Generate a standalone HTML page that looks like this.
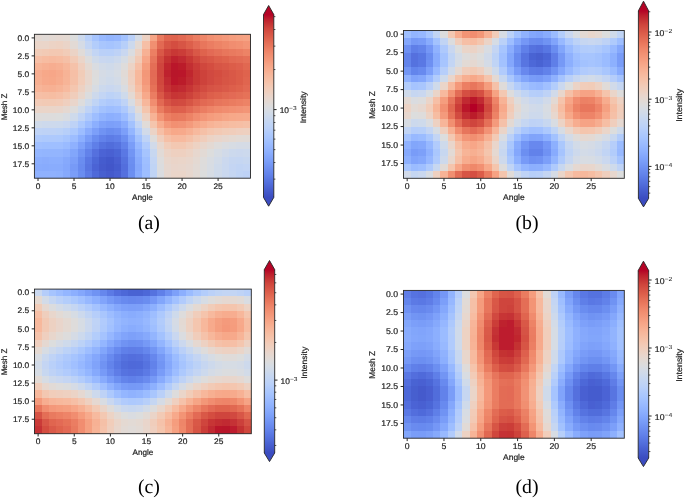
<!DOCTYPE html>
<html><head><meta charset="utf-8"><title>Figure</title>
<style>html,body{margin:0;padding:0;background:#fff;width:685px;height:498px;overflow:hidden}svg{display:block}text{text-rendering:geometricPrecision}.t{stroke:#222;stroke-width:0.2px}.ts{stroke:none}</style>
</head><body>
<svg width="685" height="498" viewBox="0 0 685 498" font-family="'Liberation Sans', sans-serif" fill="#222" style="filter:blur(0.35px)"><defs><linearGradient id="cw" x1="0" y1="1" x2="0" y2="0"><stop offset="0.0000" stop-color="#3b4cc0"/><stop offset="0.0250" stop-color="#4257c9"/><stop offset="0.0500" stop-color="#4961d2"/><stop offset="0.0750" stop-color="#516ddb"/><stop offset="0.1000" stop-color="#5977e3"/><stop offset="0.1250" stop-color="#6282ea"/><stop offset="0.1500" stop-color="#6a8bef"/><stop offset="0.1750" stop-color="#7295f4"/><stop offset="0.2000" stop-color="#7b9ff9"/><stop offset="0.2250" stop-color="#84a7fc"/><stop offset="0.2500" stop-color="#8db0fe"/><stop offset="0.2750" stop-color="#96b7ff"/><stop offset="0.3000" stop-color="#9ebeff"/><stop offset="0.3250" stop-color="#a7c5fe"/><stop offset="0.3500" stop-color="#afcafc"/><stop offset="0.3750" stop-color="#b9d0f9"/><stop offset="0.4000" stop-color="#c0d4f5"/><stop offset="0.4250" stop-color="#c7d7f0"/><stop offset="0.4500" stop-color="#cfdaea"/><stop offset="0.4750" stop-color="#d6dce4"/><stop offset="0.5000" stop-color="#dddcdc"/><stop offset="0.5250" stop-color="#e3d9d3"/><stop offset="0.5500" stop-color="#e9d5cb"/><stop offset="0.5750" stop-color="#eed0c0"/><stop offset="0.6000" stop-color="#f2cbb7"/><stop offset="0.6250" stop-color="#f5c4ac"/><stop offset="0.6500" stop-color="#f6bda2"/><stop offset="0.6750" stop-color="#f7b599"/><stop offset="0.7000" stop-color="#f7ac8e"/><stop offset="0.7250" stop-color="#f6a385"/><stop offset="0.7500" stop-color="#f4987a"/><stop offset="0.7750" stop-color="#f18f71"/><stop offset="0.8000" stop-color="#ee8468"/><stop offset="0.8250" stop-color="#e9785d"/><stop offset="0.8500" stop-color="#e36c55"/><stop offset="0.8750" stop-color="#dd5f4b"/><stop offset="0.9000" stop-color="#d65244"/><stop offset="0.9250" stop-color="#cf453c"/><stop offset="0.9500" stop-color="#c53334"/><stop offset="0.9750" stop-color="#bd1f2d"/><stop offset="1.0000" stop-color="#b40426"/></linearGradient><filter id="bl" x="-5%" y="-5%" width="110%" height="110%"><feGaussianBlur stdDeviation="0.45"/></filter><clipPath id="cp0"><rect x="34.4" y="34.3" width="216.1" height="143.9"/></clipPath><clipPath id="cp1"><rect x="403.5" y="30.5" width="220.8" height="147.8"/></clipPath><clipPath id="cp2"><rect x="34.5" y="289.1" width="216.8" height="144.6"/></clipPath><clipPath id="cp3"><rect x="403.5" y="290.4" width="220.8" height="147.8"/></clipPath></defs><rect width="685" height="498" fill="#fff"/><g clip-path="url(#cp0)"><g filter="url(#bl)" shape-rendering="crispEdges"><rect x="27.2" y="27.1" width="7.7" height="7.69" fill="#e3d9d3"/><rect x="34.4" y="27.1" width="7.7" height="7.69" fill="#e3d9d3"/><rect x="41.6" y="27.1" width="7.7" height="7.69" fill="#e1dad6"/><rect x="48.81" y="27.1" width="7.7" height="7.69" fill="#e3d9d3"/><rect x="56.01" y="27.1" width="7.7" height="7.69" fill="#e5d8d1"/><rect x="63.21" y="27.1" width="7.7" height="7.69" fill="#e4d9d2"/><rect x="70.42" y="27.1" width="7.7" height="7.69" fill="#dcdddd"/><rect x="77.62" y="27.1" width="7.7" height="7.69" fill="#ccd9ed"/><rect x="84.82" y="27.1" width="7.7" height="7.69" fill="#b9d0f9"/><rect x="92.03" y="27.1" width="7.7" height="7.69" fill="#a6c4fe"/><rect x="99.23" y="27.1" width="7.7" height="7.69" fill="#98b9ff"/><rect x="106.43" y="27.1" width="7.7" height="7.69" fill="#93b5fe"/><rect x="113.64" y="27.1" width="7.7" height="7.69" fill="#96b7ff"/><rect x="120.84" y="27.1" width="7.7" height="7.69" fill="#a3c2fe"/><rect x="128.04" y="27.1" width="7.7" height="7.69" fill="#bad0f8"/><rect x="135.25" y="27.1" width="7.7" height="7.69" fill="#d5dbe5"/><rect x="142.45" y="27.1" width="7.7" height="7.69" fill="#edd1c2"/><rect x="149.65" y="27.1" width="7.7" height="7.69" fill="#f6a586"/><rect x="156.86" y="27.1" width="7.7" height="7.69" fill="#e97a5f"/><rect x="164.06" y="27.1" width="7.7" height="7.69" fill="#e0654f"/><rect x="171.26" y="27.1" width="7.7" height="7.69" fill="#df634e"/><rect x="178.47" y="27.1" width="7.7" height="7.69" fill="#e26952"/><rect x="185.67" y="27.1" width="7.7" height="7.69" fill="#e67259"/><rect x="192.87" y="27.1" width="7.7" height="7.69" fill="#eb7d62"/><rect x="200.08" y="27.1" width="7.7" height="7.69" fill="#ee8669"/><rect x="207.28" y="27.1" width="7.7" height="7.69" fill="#f18f71"/><rect x="214.48" y="27.1" width="7.7" height="7.69" fill="#f39475"/><rect x="221.69" y="27.1" width="7.7" height="7.69" fill="#f4987a"/><rect x="228.89" y="27.1" width="7.7" height="7.69" fill="#f59d7e"/><rect x="236.09" y="27.1" width="7.7" height="7.69" fill="#f5a081"/><rect x="243.3" y="27.1" width="7.7" height="7.69" fill="#f6a283"/><rect x="250.5" y="27.1" width="7.7" height="7.69" fill="#f6a283"/><rect x="27.2" y="34.3" width="7.7" height="7.69" fill="#e3d9d3"/><rect x="34.4" y="34.3" width="7.7" height="7.69" fill="#e3d9d3"/><rect x="41.6" y="34.3" width="7.7" height="7.69" fill="#e1dad6"/><rect x="48.81" y="34.3" width="7.7" height="7.69" fill="#e3d9d3"/><rect x="56.01" y="34.3" width="7.7" height="7.69" fill="#e5d8d1"/><rect x="63.21" y="34.3" width="7.7" height="7.69" fill="#e4d9d2"/><rect x="70.42" y="34.3" width="7.7" height="7.69" fill="#dcdddd"/><rect x="77.62" y="34.3" width="7.7" height="7.69" fill="#ccd9ed"/><rect x="84.82" y="34.3" width="7.7" height="7.69" fill="#b9d0f9"/><rect x="92.03" y="34.3" width="7.7" height="7.69" fill="#a6c4fe"/><rect x="99.23" y="34.3" width="7.7" height="7.69" fill="#98b9ff"/><rect x="106.43" y="34.3" width="7.7" height="7.69" fill="#93b5fe"/><rect x="113.64" y="34.3" width="7.7" height="7.69" fill="#96b7ff"/><rect x="120.84" y="34.3" width="7.7" height="7.69" fill="#a3c2fe"/><rect x="128.04" y="34.3" width="7.7" height="7.69" fill="#bad0f8"/><rect x="135.25" y="34.3" width="7.7" height="7.69" fill="#d5dbe5"/><rect x="142.45" y="34.3" width="7.7" height="7.69" fill="#edd1c2"/><rect x="149.65" y="34.3" width="7.7" height="7.69" fill="#f6a586"/><rect x="156.86" y="34.3" width="7.7" height="7.69" fill="#e97a5f"/><rect x="164.06" y="34.3" width="7.7" height="7.69" fill="#e0654f"/><rect x="171.26" y="34.3" width="7.7" height="7.69" fill="#df634e"/><rect x="178.47" y="34.3" width="7.7" height="7.69" fill="#e26952"/><rect x="185.67" y="34.3" width="7.7" height="7.69" fill="#e67259"/><rect x="192.87" y="34.3" width="7.7" height="7.69" fill="#eb7d62"/><rect x="200.08" y="34.3" width="7.7" height="7.69" fill="#ee8669"/><rect x="207.28" y="34.3" width="7.7" height="7.69" fill="#f18f71"/><rect x="214.48" y="34.3" width="7.7" height="7.69" fill="#f39475"/><rect x="221.69" y="34.3" width="7.7" height="7.69" fill="#f4987a"/><rect x="228.89" y="34.3" width="7.7" height="7.69" fill="#f59d7e"/><rect x="236.09" y="34.3" width="7.7" height="7.69" fill="#f5a081"/><rect x="243.3" y="34.3" width="7.7" height="7.69" fill="#f6a283"/><rect x="250.5" y="34.3" width="7.7" height="7.69" fill="#f6a283"/><rect x="27.2" y="41.49" width="7.7" height="7.69" fill="#ead5c9"/><rect x="34.4" y="41.49" width="7.7" height="7.69" fill="#ead5c9"/><rect x="41.6" y="41.49" width="7.7" height="7.69" fill="#ead5c9"/><rect x="48.81" y="41.49" width="7.7" height="7.69" fill="#ecd3c5"/><rect x="56.01" y="41.49" width="7.7" height="7.69" fill="#edd2c3"/><rect x="63.21" y="41.49" width="7.7" height="7.69" fill="#ead4c8"/><rect x="70.42" y="41.49" width="7.7" height="7.69" fill="#e2dad5"/><rect x="77.62" y="41.49" width="7.7" height="7.69" fill="#d5dbe5"/><rect x="84.82" y="41.49" width="7.7" height="7.69" fill="#c3d5f4"/><rect x="92.03" y="41.49" width="7.7" height="7.69" fill="#b3cdfb"/><rect x="99.23" y="41.49" width="7.7" height="7.69" fill="#a9c6fd"/><rect x="106.43" y="41.49" width="7.7" height="7.69" fill="#a6c4fe"/><rect x="113.64" y="41.49" width="7.7" height="7.69" fill="#aac7fd"/><rect x="120.84" y="41.49" width="7.7" height="7.69" fill="#b7cff9"/><rect x="128.04" y="41.49" width="7.7" height="7.69" fill="#ccd9ed"/><rect x="135.25" y="41.49" width="7.7" height="7.69" fill="#e4d9d2"/><rect x="142.45" y="41.49" width="7.7" height="7.69" fill="#f6bfa6"/><rect x="149.65" y="41.49" width="7.7" height="7.69" fill="#f18f71"/><rect x="156.86" y="41.49" width="7.7" height="7.69" fill="#e26952"/><rect x="164.06" y="41.49" width="7.7" height="7.69" fill="#d75445"/><rect x="171.26" y="41.49" width="7.7" height="7.69" fill="#d44e41"/><rect x="178.47" y="41.49" width="7.7" height="7.69" fill="#d75445"/><rect x="185.67" y="41.49" width="7.7" height="7.69" fill="#dd5f4b"/><rect x="192.87" y="41.49" width="7.7" height="7.69" fill="#e36b54"/><rect x="200.08" y="41.49" width="7.7" height="7.69" fill="#e8765c"/><rect x="207.28" y="41.49" width="7.7" height="7.69" fill="#eb7d62"/><rect x="214.48" y="41.49" width="7.7" height="7.69" fill="#ed8366"/><rect x="221.69" y="41.49" width="7.7" height="7.69" fill="#ef886b"/><rect x="228.89" y="41.49" width="7.7" height="7.69" fill="#f18d6f"/><rect x="236.09" y="41.49" width="7.7" height="7.69" fill="#f29072"/><rect x="243.3" y="41.49" width="7.7" height="7.69" fill="#f39577"/><rect x="250.5" y="41.49" width="7.7" height="7.69" fill="#f39577"/><rect x="27.2" y="48.69" width="7.7" height="7.69" fill="#f1ccb8"/><rect x="34.4" y="48.69" width="7.7" height="7.69" fill="#f1ccb8"/><rect x="41.6" y="48.69" width="7.7" height="7.69" fill="#f2cab5"/><rect x="48.81" y="48.69" width="7.7" height="7.69" fill="#f3c8b2"/><rect x="56.01" y="48.69" width="7.7" height="7.69" fill="#f3c8b2"/><rect x="63.21" y="48.69" width="7.7" height="7.69" fill="#f1ccb8"/><rect x="70.42" y="48.69" width="7.7" height="7.69" fill="#ebd3c6"/><rect x="77.62" y="48.69" width="7.7" height="7.69" fill="#e0dbd8"/><rect x="84.82" y="48.69" width="7.7" height="7.69" fill="#d1dae9"/><rect x="92.03" y="48.69" width="7.7" height="7.69" fill="#c3d5f4"/><rect x="99.23" y="48.69" width="7.7" height="7.69" fill="#bad0f8"/><rect x="106.43" y="48.69" width="7.7" height="7.69" fill="#b9d0f9"/><rect x="113.64" y="48.69" width="7.7" height="7.69" fill="#bed2f6"/><rect x="120.84" y="48.69" width="7.7" height="7.69" fill="#c9d7f0"/><rect x="128.04" y="48.69" width="7.7" height="7.69" fill="#dadce0"/><rect x="135.25" y="48.69" width="7.7" height="7.69" fill="#edd1c2"/><rect x="142.45" y="48.69" width="7.7" height="7.69" fill="#f7b194"/><rect x="149.65" y="48.69" width="7.7" height="7.69" fill="#ec7f63"/><rect x="156.86" y="48.69" width="7.7" height="7.69" fill="#d95847"/><rect x="164.06" y="48.69" width="7.7" height="7.69" fill="#cd423b"/><rect x="171.26" y="48.69" width="7.7" height="7.69" fill="#c83836"/><rect x="178.47" y="48.69" width="7.7" height="7.69" fill="#cb3e38"/><rect x="185.67" y="48.69" width="7.7" height="7.69" fill="#d1493f"/><rect x="192.87" y="48.69" width="7.7" height="7.69" fill="#d95847"/><rect x="200.08" y="48.69" width="7.7" height="7.69" fill="#df634e"/><rect x="207.28" y="48.69" width="7.7" height="7.69" fill="#e36b54"/><rect x="214.48" y="48.69" width="7.7" height="7.69" fill="#e57058"/><rect x="221.69" y="48.69" width="7.7" height="7.69" fill="#e8765c"/><rect x="228.89" y="48.69" width="7.7" height="7.69" fill="#e97a5f"/><rect x="236.09" y="48.69" width="7.7" height="7.69" fill="#eb7d62"/><rect x="243.3" y="48.69" width="7.7" height="7.69" fill="#ed8366"/><rect x="250.5" y="48.69" width="7.7" height="7.69" fill="#ed8366"/><rect x="27.2" y="55.88" width="7.7" height="7.69" fill="#f6bfa6"/><rect x="34.4" y="55.88" width="7.7" height="7.69" fill="#f6bfa6"/><rect x="41.6" y="55.88" width="7.7" height="7.69" fill="#f7bca1"/><rect x="48.81" y="55.88" width="7.7" height="7.69" fill="#f7ba9f"/><rect x="56.01" y="55.88" width="7.7" height="7.69" fill="#f7bca1"/><rect x="63.21" y="55.88" width="7.7" height="7.69" fill="#f5c0a7"/><rect x="70.42" y="55.88" width="7.7" height="7.69" fill="#f2cbb7"/><rect x="77.62" y="55.88" width="7.7" height="7.69" fill="#ead5c9"/><rect x="84.82" y="55.88" width="7.7" height="7.69" fill="#dddcdc"/><rect x="92.03" y="55.88" width="7.7" height="7.69" fill="#cfdaea"/><rect x="99.23" y="55.88" width="7.7" height="7.69" fill="#c9d7f0"/><rect x="106.43" y="55.88" width="7.7" height="7.69" fill="#c7d7f0"/><rect x="113.64" y="55.88" width="7.7" height="7.69" fill="#ccd9ed"/><rect x="120.84" y="55.88" width="7.7" height="7.69" fill="#d6dce4"/><rect x="128.04" y="55.88" width="7.7" height="7.69" fill="#e4d9d2"/><rect x="135.25" y="55.88" width="7.7" height="7.69" fill="#f2c9b4"/><rect x="142.45" y="55.88" width="7.7" height="7.69" fill="#f7a688"/><rect x="149.65" y="55.88" width="7.7" height="7.69" fill="#e7745b"/><rect x="156.86" y="55.88" width="7.7" height="7.69" fill="#d24b40"/><rect x="164.06" y="55.88" width="7.7" height="7.69" fill="#c43032"/><rect x="171.26" y="55.88" width="7.7" height="7.69" fill="#be242e"/><rect x="178.47" y="55.88" width="7.7" height="7.69" fill="#c12b30"/><rect x="185.67" y="55.88" width="7.7" height="7.69" fill="#c83836"/><rect x="192.87" y="55.88" width="7.7" height="7.69" fill="#d0473d"/><rect x="200.08" y="55.88" width="7.7" height="7.69" fill="#d65244"/><rect x="207.28" y="55.88" width="7.7" height="7.69" fill="#d95847"/><rect x="214.48" y="55.88" width="7.7" height="7.69" fill="#dd5f4b"/><rect x="221.69" y="55.88" width="7.7" height="7.69" fill="#df634e"/><rect x="228.89" y="55.88" width="7.7" height="7.69" fill="#e26952"/><rect x="236.09" y="55.88" width="7.7" height="7.69" fill="#e36c55"/><rect x="243.3" y="55.88" width="7.7" height="7.69" fill="#e57058"/><rect x="250.5" y="55.88" width="7.7" height="7.69" fill="#e57058"/><rect x="27.2" y="63.08" width="7.7" height="7.69" fill="#f7b497"/><rect x="34.4" y="63.08" width="7.7" height="7.69" fill="#f7b497"/><rect x="41.6" y="63.08" width="7.7" height="7.69" fill="#f7b093"/><rect x="48.81" y="63.08" width="7.7" height="7.69" fill="#f7ad90"/><rect x="56.01" y="63.08" width="7.7" height="7.69" fill="#f7b093"/><rect x="63.21" y="63.08" width="7.7" height="7.69" fill="#f7b79b"/><rect x="70.42" y="63.08" width="7.7" height="7.69" fill="#f5c2aa"/><rect x="77.62" y="63.08" width="7.7" height="7.69" fill="#efcfbf"/><rect x="84.82" y="63.08" width="7.7" height="7.69" fill="#e4d9d2"/><rect x="92.03" y="63.08" width="7.7" height="7.69" fill="#d9dce1"/><rect x="99.23" y="63.08" width="7.7" height="7.69" fill="#d2dbe8"/><rect x="106.43" y="63.08" width="7.7" height="7.69" fill="#cfdaea"/><rect x="113.64" y="63.08" width="7.7" height="7.69" fill="#d4dbe6"/><rect x="120.84" y="63.08" width="7.7" height="7.69" fill="#dedcdb"/><rect x="128.04" y="63.08" width="7.7" height="7.69" fill="#ecd3c5"/><rect x="135.25" y="63.08" width="7.7" height="7.69" fill="#f6bfa6"/><rect x="142.45" y="63.08" width="7.7" height="7.69" fill="#f59d7e"/><rect x="149.65" y="63.08" width="7.7" height="7.69" fill="#e46e56"/><rect x="156.86" y="63.08" width="7.7" height="7.69" fill="#cf453c"/><rect x="164.06" y="63.08" width="7.7" height="7.69" fill="#c0282f"/><rect x="171.26" y="63.08" width="7.7" height="7.69" fill="#ba162b"/><rect x="178.47" y="63.08" width="7.7" height="7.69" fill="#bb1b2c"/><rect x="185.67" y="63.08" width="7.7" height="7.69" fill="#c32e31"/><rect x="192.87" y="63.08" width="7.7" height="7.69" fill="#ca3b37"/><rect x="200.08" y="63.08" width="7.7" height="7.69" fill="#d0473d"/><rect x="207.28" y="63.08" width="7.7" height="7.69" fill="#d44e41"/><rect x="214.48" y="63.08" width="7.7" height="7.69" fill="#d75445"/><rect x="221.69" y="63.08" width="7.7" height="7.69" fill="#d95847"/><rect x="228.89" y="63.08" width="7.7" height="7.69" fill="#dc5d4a"/><rect x="236.09" y="63.08" width="7.7" height="7.69" fill="#de614d"/><rect x="243.3" y="63.08" width="7.7" height="7.69" fill="#e16751"/><rect x="250.5" y="63.08" width="7.7" height="7.69" fill="#e16751"/><rect x="27.2" y="70.27" width="7.7" height="7.69" fill="#f7ad90"/><rect x="34.4" y="70.27" width="7.7" height="7.69" fill="#f7ad90"/><rect x="41.6" y="70.27" width="7.7" height="7.69" fill="#f7a889"/><rect x="48.81" y="70.27" width="7.7" height="7.69" fill="#f7a688"/><rect x="56.01" y="70.27" width="7.7" height="7.69" fill="#f7aa8c"/><rect x="63.21" y="70.27" width="7.7" height="7.69" fill="#f7b396"/><rect x="70.42" y="70.27" width="7.7" height="7.69" fill="#f6bfa6"/><rect x="77.62" y="70.27" width="7.7" height="7.69" fill="#f1ccb8"/><rect x="84.82" y="70.27" width="7.7" height="7.69" fill="#e8d6cc"/><rect x="92.03" y="70.27" width="7.7" height="7.69" fill="#dddcdc"/><rect x="99.23" y="70.27" width="7.7" height="7.69" fill="#d5dbe5"/><rect x="106.43" y="70.27" width="7.7" height="7.69" fill="#d2dbe8"/><rect x="113.64" y="70.27" width="7.7" height="7.69" fill="#d6dce4"/><rect x="120.84" y="70.27" width="7.7" height="7.69" fill="#e1dad6"/><rect x="128.04" y="70.27" width="7.7" height="7.69" fill="#efcebd"/><rect x="135.25" y="70.27" width="7.7" height="7.69" fill="#f7b89c"/><rect x="142.45" y="70.27" width="7.7" height="7.69" fill="#f39778"/><rect x="149.65" y="70.27" width="7.7" height="7.69" fill="#e36b54"/><rect x="156.86" y="70.27" width="7.7" height="7.69" fill="#cf453c"/><rect x="164.06" y="70.27" width="7.7" height="7.69" fill="#be242e"/><rect x="171.26" y="70.27" width="7.7" height="7.69" fill="#b8122a"/><rect x="178.47" y="70.27" width="7.7" height="7.69" fill="#ba162b"/><rect x="185.67" y="70.27" width="7.7" height="7.69" fill="#c0282f"/><rect x="192.87" y="70.27" width="7.7" height="7.69" fill="#c83836"/><rect x="200.08" y="70.27" width="7.7" height="7.69" fill="#cd423b"/><rect x="207.28" y="70.27" width="7.7" height="7.69" fill="#d1493f"/><rect x="214.48" y="70.27" width="7.7" height="7.69" fill="#d44e41"/><rect x="221.69" y="70.27" width="7.7" height="7.69" fill="#d65244"/><rect x="228.89" y="70.27" width="7.7" height="7.69" fill="#d95847"/><rect x="236.09" y="70.27" width="7.7" height="7.69" fill="#dc5d4a"/><rect x="243.3" y="70.27" width="7.7" height="7.69" fill="#df634e"/><rect x="250.5" y="70.27" width="7.7" height="7.69" fill="#df634e"/><rect x="27.2" y="77.47" width="7.7" height="7.69" fill="#f7af91"/><rect x="34.4" y="77.47" width="7.7" height="7.69" fill="#f7af91"/><rect x="41.6" y="77.47" width="7.7" height="7.69" fill="#f7a98b"/><rect x="48.81" y="77.47" width="7.7" height="7.69" fill="#f7a889"/><rect x="56.01" y="77.47" width="7.7" height="7.69" fill="#f7ac8e"/><rect x="63.21" y="77.47" width="7.7" height="7.69" fill="#f7b497"/><rect x="70.42" y="77.47" width="7.7" height="7.69" fill="#f5c0a7"/><rect x="77.62" y="77.47" width="7.7" height="7.69" fill="#f1cdba"/><rect x="84.82" y="77.47" width="7.7" height="7.69" fill="#e8d6cc"/><rect x="92.03" y="77.47" width="7.7" height="7.69" fill="#dcdddd"/><rect x="99.23" y="77.47" width="7.7" height="7.69" fill="#d3dbe7"/><rect x="106.43" y="77.47" width="7.7" height="7.69" fill="#cfdaea"/><rect x="113.64" y="77.47" width="7.7" height="7.69" fill="#d3dbe7"/><rect x="120.84" y="77.47" width="7.7" height="7.69" fill="#dfdbd9"/><rect x="128.04" y="77.47" width="7.7" height="7.69" fill="#efcfbf"/><rect x="135.25" y="77.47" width="7.7" height="7.69" fill="#f7b89c"/><rect x="142.45" y="77.47" width="7.7" height="7.69" fill="#f4987a"/><rect x="149.65" y="77.47" width="7.7" height="7.69" fill="#e36c55"/><rect x="156.86" y="77.47" width="7.7" height="7.69" fill="#d0473d"/><rect x="164.06" y="77.47" width="7.7" height="7.69" fill="#c12b30"/><rect x="171.26" y="77.47" width="7.7" height="7.69" fill="#ba162b"/><rect x="178.47" y="77.47" width="7.7" height="7.69" fill="#bb1b2c"/><rect x="185.67" y="77.47" width="7.7" height="7.69" fill="#c12b30"/><rect x="192.87" y="77.47" width="7.7" height="7.69" fill="#c83836"/><rect x="200.08" y="77.47" width="7.7" height="7.69" fill="#cd423b"/><rect x="207.28" y="77.47" width="7.7" height="7.69" fill="#d1493f"/><rect x="214.48" y="77.47" width="7.7" height="7.69" fill="#d55042"/><rect x="221.69" y="77.47" width="7.7" height="7.69" fill="#d75445"/><rect x="228.89" y="77.47" width="7.7" height="7.69" fill="#d95847"/><rect x="236.09" y="77.47" width="7.7" height="7.69" fill="#dc5d4a"/><rect x="243.3" y="77.47" width="7.7" height="7.69" fill="#e0654f"/><rect x="250.5" y="77.47" width="7.7" height="7.69" fill="#e0654f"/><rect x="27.2" y="84.66" width="7.7" height="7.69" fill="#f7b599"/><rect x="34.4" y="84.66" width="7.7" height="7.69" fill="#f7b599"/><rect x="41.6" y="84.66" width="7.7" height="7.69" fill="#f7b194"/><rect x="48.81" y="84.66" width="7.7" height="7.69" fill="#f7b093"/><rect x="56.01" y="84.66" width="7.7" height="7.69" fill="#f7b497"/><rect x="63.21" y="84.66" width="7.7" height="7.69" fill="#f7ba9f"/><rect x="70.42" y="84.66" width="7.7" height="7.69" fill="#f4c6af"/><rect x="77.62" y="84.66" width="7.7" height="7.69" fill="#edd1c2"/><rect x="84.82" y="84.66" width="7.7" height="7.69" fill="#e3d9d3"/><rect x="92.03" y="84.66" width="7.7" height="7.69" fill="#d7dce3"/><rect x="99.23" y="84.66" width="7.7" height="7.69" fill="#ccd9ed"/><rect x="106.43" y="84.66" width="7.7" height="7.69" fill="#c9d7f0"/><rect x="113.64" y="84.66" width="7.7" height="7.69" fill="#ccd9ed"/><rect x="120.84" y="84.66" width="7.7" height="7.69" fill="#d9dce1"/><rect x="128.04" y="84.66" width="7.7" height="7.69" fill="#ebd3c6"/><rect x="135.25" y="84.66" width="7.7" height="7.69" fill="#f6bea4"/><rect x="142.45" y="84.66" width="7.7" height="7.69" fill="#f59f80"/><rect x="149.65" y="84.66" width="7.7" height="7.69" fill="#e67259"/><rect x="156.86" y="84.66" width="7.7" height="7.69" fill="#d24b40"/><rect x="164.06" y="84.66" width="7.7" height="7.69" fill="#c53334"/><rect x="171.26" y="84.66" width="7.7" height="7.69" fill="#c0282f"/><rect x="178.47" y="84.66" width="7.7" height="7.69" fill="#c12b30"/><rect x="185.67" y="84.66" width="7.7" height="7.69" fill="#c73635"/><rect x="192.87" y="84.66" width="7.7" height="7.69" fill="#cd423b"/><rect x="200.08" y="84.66" width="7.7" height="7.69" fill="#d24b40"/><rect x="207.28" y="84.66" width="7.7" height="7.69" fill="#d65244"/><rect x="214.48" y="84.66" width="7.7" height="7.69" fill="#d85646"/><rect x="221.69" y="84.66" width="7.7" height="7.69" fill="#da5a49"/><rect x="228.89" y="84.66" width="7.7" height="7.69" fill="#dd5f4b"/><rect x="236.09" y="84.66" width="7.7" height="7.69" fill="#df634e"/><rect x="243.3" y="84.66" width="7.7" height="7.69" fill="#e26952"/><rect x="250.5" y="84.66" width="7.7" height="7.69" fill="#e26952"/><rect x="27.2" y="91.86" width="7.7" height="7.69" fill="#f6bfa6"/><rect x="34.4" y="91.86" width="7.7" height="7.69" fill="#f6bfa6"/><rect x="41.6" y="91.86" width="7.7" height="7.69" fill="#f6bea4"/><rect x="48.81" y="91.86" width="7.7" height="7.69" fill="#f6bda2"/><rect x="56.01" y="91.86" width="7.7" height="7.69" fill="#f6bfa6"/><rect x="63.21" y="91.86" width="7.7" height="7.69" fill="#f4c5ad"/><rect x="70.42" y="91.86" width="7.7" height="7.69" fill="#f0cdbb"/><rect x="77.62" y="91.86" width="7.7" height="7.69" fill="#e8d6cc"/><rect x="84.82" y="91.86" width="7.7" height="7.69" fill="#dbdcde"/><rect x="92.03" y="91.86" width="7.7" height="7.69" fill="#cdd9ec"/><rect x="99.23" y="91.86" width="7.7" height="7.69" fill="#c3d5f4"/><rect x="106.43" y="91.86" width="7.7" height="7.69" fill="#bcd2f7"/><rect x="113.64" y="91.86" width="7.7" height="7.69" fill="#c0d4f5"/><rect x="120.84" y="91.86" width="7.7" height="7.69" fill="#cedaeb"/><rect x="128.04" y="91.86" width="7.7" height="7.69" fill="#e3d9d3"/><rect x="135.25" y="91.86" width="7.7" height="7.69" fill="#f3c7b1"/><rect x="142.45" y="91.86" width="7.7" height="7.69" fill="#f7a98b"/><rect x="149.65" y="91.86" width="7.7" height="7.69" fill="#eb7d62"/><rect x="156.86" y="91.86" width="7.7" height="7.69" fill="#d95847"/><rect x="164.06" y="91.86" width="7.7" height="7.69" fill="#cc403a"/><rect x="171.26" y="91.86" width="7.7" height="7.69" fill="#c73635"/><rect x="178.47" y="91.86" width="7.7" height="7.69" fill="#c83836"/><rect x="185.67" y="91.86" width="7.7" height="7.69" fill="#cd423b"/><rect x="192.87" y="91.86" width="7.7" height="7.69" fill="#d44e41"/><rect x="200.08" y="91.86" width="7.7" height="7.69" fill="#d85646"/><rect x="207.28" y="91.86" width="7.7" height="7.69" fill="#dd5f4b"/><rect x="214.48" y="91.86" width="7.7" height="7.69" fill="#df634e"/><rect x="221.69" y="91.86" width="7.7" height="7.69" fill="#e16751"/><rect x="228.89" y="91.86" width="7.7" height="7.69" fill="#e36b54"/><rect x="236.09" y="91.86" width="7.7" height="7.69" fill="#e46e56"/><rect x="243.3" y="91.86" width="7.7" height="7.69" fill="#e67259"/><rect x="250.5" y="91.86" width="7.7" height="7.69" fill="#e67259"/><rect x="27.2" y="99.05" width="7.7" height="7.69" fill="#f2cbb7"/><rect x="34.4" y="99.05" width="7.7" height="7.69" fill="#f2cbb7"/><rect x="41.6" y="99.05" width="7.7" height="7.69" fill="#f2cab5"/><rect x="48.81" y="99.05" width="7.7" height="7.69" fill="#f2cab5"/><rect x="56.01" y="99.05" width="7.7" height="7.69" fill="#f2cbb7"/><rect x="63.21" y="99.05" width="7.7" height="7.69" fill="#efcfbf"/><rect x="70.42" y="99.05" width="7.7" height="7.69" fill="#e9d5cb"/><rect x="77.62" y="99.05" width="7.7" height="7.69" fill="#dddcdc"/><rect x="84.82" y="99.05" width="7.7" height="7.69" fill="#cedaeb"/><rect x="92.03" y="99.05" width="7.7" height="7.69" fill="#c0d4f5"/><rect x="99.23" y="99.05" width="7.7" height="7.69" fill="#b3cdfb"/><rect x="106.43" y="99.05" width="7.7" height="7.69" fill="#aec9fc"/><rect x="113.64" y="99.05" width="7.7" height="7.69" fill="#b1cbfc"/><rect x="120.84" y="99.05" width="7.7" height="7.69" fill="#bfd3f6"/><rect x="128.04" y="99.05" width="7.7" height="7.69" fill="#d7dce3"/><rect x="135.25" y="99.05" width="7.7" height="7.69" fill="#edd1c2"/><rect x="142.45" y="99.05" width="7.7" height="7.69" fill="#f7b79b"/><rect x="149.65" y="99.05" width="7.7" height="7.69" fill="#f18d6f"/><rect x="156.86" y="99.05" width="7.7" height="7.69" fill="#e26952"/><rect x="164.06" y="99.05" width="7.7" height="7.69" fill="#d65244"/><rect x="171.26" y="99.05" width="7.7" height="7.69" fill="#d1493f"/><rect x="178.47" y="99.05" width="7.7" height="7.69" fill="#d24b40"/><rect x="185.67" y="99.05" width="7.7" height="7.69" fill="#d75445"/><rect x="192.87" y="99.05" width="7.7" height="7.69" fill="#de614d"/><rect x="200.08" y="99.05" width="7.7" height="7.69" fill="#e26952"/><rect x="207.28" y="99.05" width="7.7" height="7.69" fill="#e46e56"/><rect x="214.48" y="99.05" width="7.7" height="7.69" fill="#e7745b"/><rect x="221.69" y="99.05" width="7.7" height="7.69" fill="#e9785d"/><rect x="228.89" y="99.05" width="7.7" height="7.69" fill="#ea7b60"/><rect x="236.09" y="99.05" width="7.7" height="7.69" fill="#ec7f63"/><rect x="243.3" y="99.05" width="7.7" height="7.69" fill="#ed8366"/><rect x="250.5" y="99.05" width="7.7" height="7.69" fill="#ed8366"/><rect x="27.2" y="106.25" width="7.7" height="7.69" fill="#ead5c9"/><rect x="34.4" y="106.25" width="7.7" height="7.69" fill="#ead5c9"/><rect x="41.6" y="106.25" width="7.7" height="7.69" fill="#ead5c9"/><rect x="48.81" y="106.25" width="7.7" height="7.69" fill="#ead5c9"/><rect x="56.01" y="106.25" width="7.7" height="7.69" fill="#e9d5cb"/><rect x="63.21" y="106.25" width="7.7" height="7.69" fill="#e5d8d1"/><rect x="70.42" y="106.25" width="7.7" height="7.69" fill="#dddcdc"/><rect x="77.62" y="106.25" width="7.7" height="7.69" fill="#cfdaea"/><rect x="84.82" y="106.25" width="7.7" height="7.69" fill="#bfd3f6"/><rect x="92.03" y="106.25" width="7.7" height="7.69" fill="#afcafc"/><rect x="99.23" y="106.25" width="7.7" height="7.69" fill="#a3c2fe"/><rect x="106.43" y="106.25" width="7.7" height="7.69" fill="#9ebeff"/><rect x="113.64" y="106.25" width="7.7" height="7.69" fill="#a1c0ff"/><rect x="120.84" y="106.25" width="7.7" height="7.69" fill="#aec9fc"/><rect x="128.04" y="106.25" width="7.7" height="7.69" fill="#c6d6f1"/><rect x="135.25" y="106.25" width="7.7" height="7.69" fill="#e2dad5"/><rect x="142.45" y="106.25" width="7.7" height="7.69" fill="#f4c5ad"/><rect x="149.65" y="106.25" width="7.7" height="7.69" fill="#f59f80"/><rect x="156.86" y="106.25" width="7.7" height="7.69" fill="#ea7b60"/><rect x="164.06" y="106.25" width="7.7" height="7.69" fill="#e16751"/><rect x="171.26" y="106.25" width="7.7" height="7.69" fill="#dd5f4b"/><rect x="178.47" y="106.25" width="7.7" height="7.69" fill="#de614d"/><rect x="185.67" y="106.25" width="7.7" height="7.69" fill="#e36b54"/><rect x="192.87" y="106.25" width="7.7" height="7.69" fill="#e7745b"/><rect x="200.08" y="106.25" width="7.7" height="7.69" fill="#eb7d62"/><rect x="207.28" y="106.25" width="7.7" height="7.69" fill="#ee8468"/><rect x="214.48" y="106.25" width="7.7" height="7.69" fill="#f08a6c"/><rect x="221.69" y="106.25" width="7.7" height="7.69" fill="#f18d6f"/><rect x="228.89" y="106.25" width="7.7" height="7.69" fill="#f29072"/><rect x="236.09" y="106.25" width="7.7" height="7.69" fill="#f29274"/><rect x="243.3" y="106.25" width="7.7" height="7.69" fill="#f39577"/><rect x="250.5" y="106.25" width="7.7" height="7.69" fill="#f39577"/><rect x="27.2" y="113.44" width="7.7" height="7.69" fill="#dedcdb"/><rect x="34.4" y="113.44" width="7.7" height="7.69" fill="#dedcdb"/><rect x="41.6" y="113.44" width="7.7" height="7.69" fill="#dddcdc"/><rect x="48.81" y="113.44" width="7.7" height="7.69" fill="#dddcdc"/><rect x="56.01" y="113.44" width="7.7" height="7.69" fill="#dcdddd"/><rect x="63.21" y="113.44" width="7.7" height="7.69" fill="#d8dce2"/><rect x="70.42" y="113.44" width="7.7" height="7.69" fill="#cedaeb"/><rect x="77.62" y="113.44" width="7.7" height="7.69" fill="#bfd3f6"/><rect x="84.82" y="113.44" width="7.7" height="7.69" fill="#aec9fc"/><rect x="92.03" y="113.44" width="7.7" height="7.69" fill="#9ebeff"/><rect x="99.23" y="113.44" width="7.7" height="7.69" fill="#92b4fe"/><rect x="106.43" y="113.44" width="7.7" height="7.69" fill="#8caffe"/><rect x="113.64" y="113.44" width="7.7" height="7.69" fill="#8fb1fe"/><rect x="120.84" y="113.44" width="7.7" height="7.69" fill="#9dbdff"/><rect x="128.04" y="113.44" width="7.7" height="7.69" fill="#b5cdfa"/><rect x="135.25" y="113.44" width="7.7" height="7.69" fill="#d4dbe6"/><rect x="142.45" y="113.44" width="7.7" height="7.69" fill="#edd2c3"/><rect x="149.65" y="113.44" width="7.7" height="7.69" fill="#f7b396"/><rect x="156.86" y="113.44" width="7.7" height="7.69" fill="#f39475"/><rect x="164.06" y="113.44" width="7.7" height="7.69" fill="#ec7f63"/><rect x="171.26" y="113.44" width="7.7" height="7.69" fill="#e9785d"/><rect x="178.47" y="113.44" width="7.7" height="7.69" fill="#e97a5f"/><rect x="185.67" y="113.44" width="7.7" height="7.69" fill="#ed8366"/><rect x="192.87" y="113.44" width="7.7" height="7.69" fill="#f18d6f"/><rect x="200.08" y="113.44" width="7.7" height="7.69" fill="#f39577"/><rect x="207.28" y="113.44" width="7.7" height="7.69" fill="#f59c7d"/><rect x="214.48" y="113.44" width="7.7" height="7.69" fill="#f5a081"/><rect x="221.69" y="113.44" width="7.7" height="7.69" fill="#f6a586"/><rect x="228.89" y="113.44" width="7.7" height="7.69" fill="#f7a889"/><rect x="236.09" y="113.44" width="7.7" height="7.69" fill="#f7a98b"/><rect x="243.3" y="113.44" width="7.7" height="7.69" fill="#f7aa8c"/><rect x="250.5" y="113.44" width="7.7" height="7.69" fill="#f7aa8c"/><rect x="27.2" y="120.64" width="7.7" height="7.69" fill="#cfdaea"/><rect x="34.4" y="120.64" width="7.7" height="7.69" fill="#cfdaea"/><rect x="41.6" y="120.64" width="7.7" height="7.69" fill="#cdd9ec"/><rect x="48.81" y="120.64" width="7.7" height="7.69" fill="#cdd9ec"/><rect x="56.01" y="120.64" width="7.7" height="7.69" fill="#ccd9ed"/><rect x="63.21" y="120.64" width="7.7" height="7.69" fill="#c9d7f0"/><rect x="70.42" y="120.64" width="7.7" height="7.69" fill="#bed2f6"/><rect x="77.62" y="120.64" width="7.7" height="7.69" fill="#adc9fd"/><rect x="84.82" y="120.64" width="7.7" height="7.69" fill="#9dbdff"/><rect x="92.03" y="120.64" width="7.7" height="7.69" fill="#8caffe"/><rect x="99.23" y="120.64" width="7.7" height="7.69" fill="#80a3fa"/><rect x="106.43" y="120.64" width="7.7" height="7.69" fill="#7b9ff9"/><rect x="113.64" y="120.64" width="7.7" height="7.69" fill="#7ea1fa"/><rect x="120.84" y="120.64" width="7.7" height="7.69" fill="#8badfd"/><rect x="128.04" y="120.64" width="7.7" height="7.69" fill="#a3c2fe"/><rect x="135.25" y="120.64" width="7.7" height="7.69" fill="#c3d5f4"/><rect x="142.45" y="120.64" width="7.7" height="7.69" fill="#e0dbd8"/><rect x="149.65" y="120.64" width="7.7" height="7.69" fill="#f4c5ad"/><rect x="156.86" y="120.64" width="7.7" height="7.69" fill="#f7ac8e"/><rect x="164.06" y="120.64" width="7.7" height="7.69" fill="#f4987a"/><rect x="171.26" y="120.64" width="7.7" height="7.69" fill="#f29072"/><rect x="178.47" y="120.64" width="7.7" height="7.69" fill="#f29274"/><rect x="185.67" y="120.64" width="7.7" height="7.69" fill="#f49a7b"/><rect x="192.87" y="120.64" width="7.7" height="7.69" fill="#f6a586"/><rect x="200.08" y="120.64" width="7.7" height="7.69" fill="#f7ac8e"/><rect x="207.28" y="120.64" width="7.7" height="7.69" fill="#f7b396"/><rect x="214.48" y="120.64" width="7.7" height="7.69" fill="#f7b79b"/><rect x="221.69" y="120.64" width="7.7" height="7.69" fill="#f7ba9f"/><rect x="228.89" y="120.64" width="7.7" height="7.69" fill="#f6bda2"/><rect x="236.09" y="120.64" width="7.7" height="7.69" fill="#f6bea4"/><rect x="243.3" y="120.64" width="7.7" height="7.69" fill="#f5c0a7"/><rect x="250.5" y="120.64" width="7.7" height="7.69" fill="#f5c0a7"/><rect x="27.2" y="127.83" width="7.7" height="7.69" fill="#bfd3f6"/><rect x="34.4" y="127.83" width="7.7" height="7.69" fill="#bfd3f6"/><rect x="41.6" y="127.83" width="7.7" height="7.69" fill="#bed2f6"/><rect x="48.81" y="127.83" width="7.7" height="7.69" fill="#bed2f6"/><rect x="56.01" y="127.83" width="7.7" height="7.69" fill="#bcd2f7"/><rect x="63.21" y="127.83" width="7.7" height="7.69" fill="#b7cff9"/><rect x="70.42" y="127.83" width="7.7" height="7.69" fill="#adc9fd"/><rect x="77.62" y="127.83" width="7.7" height="7.69" fill="#9dbdff"/><rect x="84.82" y="127.83" width="7.7" height="7.69" fill="#8badfd"/><rect x="92.03" y="127.83" width="7.7" height="7.69" fill="#7b9ff9"/><rect x="99.23" y="127.83" width="7.7" height="7.69" fill="#7093f3"/><rect x="106.43" y="127.83" width="7.7" height="7.69" fill="#6b8df0"/><rect x="113.64" y="127.83" width="7.7" height="7.69" fill="#6e90f2"/><rect x="120.84" y="127.83" width="7.7" height="7.69" fill="#7b9ff9"/><rect x="128.04" y="127.83" width="7.7" height="7.69" fill="#94b6ff"/><rect x="135.25" y="127.83" width="7.7" height="7.69" fill="#b2ccfb"/><rect x="142.45" y="127.83" width="7.7" height="7.69" fill="#d1dae9"/><rect x="149.65" y="127.83" width="7.7" height="7.69" fill="#ebd3c6"/><rect x="156.86" y="127.83" width="7.7" height="7.69" fill="#f6bfa6"/><rect x="164.06" y="127.83" width="7.7" height="7.69" fill="#f7af91"/><rect x="171.26" y="127.83" width="7.7" height="7.69" fill="#f7a889"/><rect x="178.47" y="127.83" width="7.7" height="7.69" fill="#f7a98b"/><rect x="185.67" y="127.83" width="7.7" height="7.69" fill="#f7b093"/><rect x="192.87" y="127.83" width="7.7" height="7.69" fill="#f7b99e"/><rect x="200.08" y="127.83" width="7.7" height="7.69" fill="#f5c0a7"/><rect x="207.28" y="127.83" width="7.7" height="7.69" fill="#f4c6af"/><rect x="214.48" y="127.83" width="7.7" height="7.69" fill="#f2c9b4"/><rect x="221.69" y="127.83" width="7.7" height="7.69" fill="#f1ccb8"/><rect x="228.89" y="127.83" width="7.7" height="7.69" fill="#f0cdbb"/><rect x="236.09" y="127.83" width="7.7" height="7.69" fill="#efcfbf"/><rect x="243.3" y="127.83" width="7.7" height="7.69" fill="#eed0c0"/><rect x="250.5" y="127.83" width="7.7" height="7.69" fill="#eed0c0"/><rect x="27.2" y="135.03" width="7.7" height="7.69" fill="#afcafc"/><rect x="34.4" y="135.03" width="7.7" height="7.69" fill="#afcafc"/><rect x="41.6" y="135.03" width="7.7" height="7.69" fill="#adc9fd"/><rect x="48.81" y="135.03" width="7.7" height="7.69" fill="#aec9fc"/><rect x="56.01" y="135.03" width="7.7" height="7.69" fill="#adc9fd"/><rect x="63.21" y="135.03" width="7.7" height="7.69" fill="#a7c5fe"/><rect x="70.42" y="135.03" width="7.7" height="7.69" fill="#9dbdff"/><rect x="77.62" y="135.03" width="7.7" height="7.69" fill="#8caffe"/><rect x="84.82" y="135.03" width="7.7" height="7.69" fill="#7a9df8"/><rect x="92.03" y="135.03" width="7.7" height="7.69" fill="#6b8df0"/><rect x="99.23" y="135.03" width="7.7" height="7.69" fill="#6282ea"/><rect x="106.43" y="135.03" width="7.7" height="7.69" fill="#5d7ce6"/><rect x="113.64" y="135.03" width="7.7" height="7.69" fill="#6180e9"/><rect x="120.84" y="135.03" width="7.7" height="7.69" fill="#6c8ff1"/><rect x="128.04" y="135.03" width="7.7" height="7.69" fill="#85a8fc"/><rect x="135.25" y="135.03" width="7.7" height="7.69" fill="#a3c2fe"/><rect x="142.45" y="135.03" width="7.7" height="7.69" fill="#bfd3f6"/><rect x="149.65" y="135.03" width="7.7" height="7.69" fill="#dedcdb"/><rect x="156.86" y="135.03" width="7.7" height="7.69" fill="#efcebd"/><rect x="164.06" y="135.03" width="7.7" height="7.69" fill="#f5c0a7"/><rect x="171.26" y="135.03" width="7.7" height="7.69" fill="#f7ba9f"/><rect x="178.47" y="135.03" width="7.7" height="7.69" fill="#f7ba9f"/><rect x="185.67" y="135.03" width="7.7" height="7.69" fill="#f5c0a7"/><rect x="192.87" y="135.03" width="7.7" height="7.69" fill="#f3c8b2"/><rect x="200.08" y="135.03" width="7.7" height="7.69" fill="#f0cdbb"/><rect x="207.28" y="135.03" width="7.7" height="7.69" fill="#ecd3c5"/><rect x="214.48" y="135.03" width="7.7" height="7.69" fill="#e9d5cb"/><rect x="221.69" y="135.03" width="7.7" height="7.69" fill="#e6d7cf"/><rect x="228.89" y="135.03" width="7.7" height="7.69" fill="#e4d9d2"/><rect x="236.09" y="135.03" width="7.7" height="7.69" fill="#e2dad5"/><rect x="243.3" y="135.03" width="7.7" height="7.69" fill="#e1dad6"/><rect x="250.5" y="135.03" width="7.7" height="7.69" fill="#e1dad6"/><rect x="27.2" y="142.22" width="7.7" height="7.69" fill="#a1c0ff"/><rect x="34.4" y="142.22" width="7.7" height="7.69" fill="#a1c0ff"/><rect x="41.6" y="142.22" width="7.7" height="7.69" fill="#9fbfff"/><rect x="48.81" y="142.22" width="7.7" height="7.69" fill="#9fbfff"/><rect x="56.01" y="142.22" width="7.7" height="7.69" fill="#9fbfff"/><rect x="63.21" y="142.22" width="7.7" height="7.69" fill="#9abbff"/><rect x="70.42" y="142.22" width="7.7" height="7.69" fill="#8fb1fe"/><rect x="77.62" y="142.22" width="7.7" height="7.69" fill="#7ea1fa"/><rect x="84.82" y="142.22" width="7.7" height="7.69" fill="#6c8ff1"/><rect x="92.03" y="142.22" width="7.7" height="7.69" fill="#5f7fe8"/><rect x="99.23" y="142.22" width="7.7" height="7.69" fill="#5572df"/><rect x="106.43" y="142.22" width="7.7" height="7.69" fill="#516ddb"/><rect x="113.64" y="142.22" width="7.7" height="7.69" fill="#5572df"/><rect x="120.84" y="142.22" width="7.7" height="7.69" fill="#6282ea"/><rect x="128.04" y="142.22" width="7.7" height="7.69" fill="#7a9df8"/><rect x="135.25" y="142.22" width="7.7" height="7.69" fill="#97b8ff"/><rect x="142.45" y="142.22" width="7.7" height="7.69" fill="#b1cbfc"/><rect x="149.65" y="142.22" width="7.7" height="7.69" fill="#d1dae9"/><rect x="156.86" y="142.22" width="7.7" height="7.69" fill="#e7d7ce"/><rect x="164.06" y="142.22" width="7.7" height="7.69" fill="#f1cdba"/><rect x="171.26" y="142.22" width="7.7" height="7.69" fill="#f3c8b2"/><rect x="178.47" y="142.22" width="7.7" height="7.69" fill="#f3c8b2"/><rect x="185.67" y="142.22" width="7.7" height="7.69" fill="#f1cdba"/><rect x="192.87" y="142.22" width="7.7" height="7.69" fill="#edd2c3"/><rect x="200.08" y="142.22" width="7.7" height="7.69" fill="#e8d6cc"/><rect x="207.28" y="142.22" width="7.7" height="7.69" fill="#e3d9d3"/><rect x="214.48" y="142.22" width="7.7" height="7.69" fill="#dedcdb"/><rect x="221.69" y="142.22" width="7.7" height="7.69" fill="#dadce0"/><rect x="228.89" y="142.22" width="7.7" height="7.69" fill="#d7dce3"/><rect x="236.09" y="142.22" width="7.7" height="7.69" fill="#d5dbe5"/><rect x="243.3" y="142.22" width="7.7" height="7.69" fill="#d5dbe5"/><rect x="250.5" y="142.22" width="7.7" height="7.69" fill="#d5dbe5"/><rect x="27.2" y="149.42" width="7.7" height="7.69" fill="#94b6ff"/><rect x="34.4" y="149.42" width="7.7" height="7.69" fill="#94b6ff"/><rect x="41.6" y="149.42" width="7.7" height="7.69" fill="#93b5fe"/><rect x="48.81" y="149.42" width="7.7" height="7.69" fill="#93b5fe"/><rect x="56.01" y="149.42" width="7.7" height="7.69" fill="#93b5fe"/><rect x="63.21" y="149.42" width="7.7" height="7.69" fill="#8fb1fe"/><rect x="70.42" y="149.42" width="7.7" height="7.69" fill="#82a6fb"/><rect x="77.62" y="149.42" width="7.7" height="7.69" fill="#7295f4"/><rect x="84.82" y="149.42" width="7.7" height="7.69" fill="#6282ea"/><rect x="92.03" y="149.42" width="7.7" height="7.69" fill="#5470de"/><rect x="99.23" y="149.42" width="7.7" height="7.69" fill="#4b64d5"/><rect x="106.43" y="149.42" width="7.7" height="7.69" fill="#4961d2"/><rect x="113.64" y="149.42" width="7.7" height="7.69" fill="#4c66d6"/><rect x="120.84" y="149.42" width="7.7" height="7.69" fill="#5a78e4"/><rect x="128.04" y="149.42" width="7.7" height="7.69" fill="#7295f4"/><rect x="135.25" y="149.42" width="7.7" height="7.69" fill="#8db0fe"/><rect x="142.45" y="149.42" width="7.7" height="7.69" fill="#a6c4fe"/><rect x="149.65" y="149.42" width="7.7" height="7.69" fill="#c7d7f0"/><rect x="156.86" y="149.42" width="7.7" height="7.69" fill="#e1dad6"/><rect x="164.06" y="149.42" width="7.7" height="7.69" fill="#ebd3c6"/><rect x="171.26" y="149.42" width="7.7" height="7.69" fill="#eed0c0"/><rect x="178.47" y="149.42" width="7.7" height="7.69" fill="#eed0c0"/><rect x="185.67" y="149.42" width="7.7" height="7.69" fill="#ecd3c5"/><rect x="192.87" y="149.42" width="7.7" height="7.69" fill="#e7d7ce"/><rect x="200.08" y="149.42" width="7.7" height="7.69" fill="#e2dad5"/><rect x="207.28" y="149.42" width="7.7" height="7.69" fill="#dcdddd"/><rect x="214.48" y="149.42" width="7.7" height="7.69" fill="#d6dce4"/><rect x="221.69" y="149.42" width="7.7" height="7.69" fill="#d1dae9"/><rect x="228.89" y="149.42" width="7.7" height="7.69" fill="#ccd9ed"/><rect x="236.09" y="149.42" width="7.7" height="7.69" fill="#cbd8ee"/><rect x="243.3" y="149.42" width="7.7" height="7.69" fill="#ccd9ed"/><rect x="250.5" y="149.42" width="7.7" height="7.69" fill="#ccd9ed"/><rect x="27.2" y="156.61" width="7.7" height="7.69" fill="#8caffe"/><rect x="34.4" y="156.61" width="7.7" height="7.69" fill="#8caffe"/><rect x="41.6" y="156.61" width="7.7" height="7.69" fill="#8badfd"/><rect x="48.81" y="156.61" width="7.7" height="7.69" fill="#8caffe"/><rect x="56.01" y="156.61" width="7.7" height="7.69" fill="#8caffe"/><rect x="63.21" y="156.61" width="7.7" height="7.69" fill="#86a9fc"/><rect x="70.42" y="156.61" width="7.7" height="7.69" fill="#7b9ff9"/><rect x="77.62" y="156.61" width="7.7" height="7.69" fill="#6b8df0"/><rect x="84.82" y="156.61" width="7.7" height="7.69" fill="#5a78e4"/><rect x="92.03" y="156.61" width="7.7" height="7.69" fill="#4e68d8"/><rect x="99.23" y="156.61" width="7.7" height="7.69" fill="#455cce"/><rect x="106.43" y="156.61" width="7.7" height="7.69" fill="#4358cb"/><rect x="113.64" y="156.61" width="7.7" height="7.69" fill="#485fd1"/><rect x="120.84" y="156.61" width="7.7" height="7.69" fill="#5572df"/><rect x="128.04" y="156.61" width="7.7" height="7.69" fill="#6c8ff1"/><rect x="135.25" y="156.61" width="7.7" height="7.69" fill="#88abfd"/><rect x="142.45" y="156.61" width="7.7" height="7.69" fill="#9fbfff"/><rect x="149.65" y="156.61" width="7.7" height="7.69" fill="#c3d5f4"/><rect x="156.86" y="156.61" width="7.7" height="7.69" fill="#dddcdc"/><rect x="164.06" y="156.61" width="7.7" height="7.69" fill="#e8d6cc"/><rect x="171.26" y="156.61" width="7.7" height="7.69" fill="#ead4c8"/><rect x="178.47" y="156.61" width="7.7" height="7.69" fill="#ead5c9"/><rect x="185.67" y="156.61" width="7.7" height="7.69" fill="#e8d6cc"/><rect x="192.87" y="156.61" width="7.7" height="7.69" fill="#e4d9d2"/><rect x="200.08" y="156.61" width="7.7" height="7.69" fill="#dedcdb"/><rect x="207.28" y="156.61" width="7.7" height="7.69" fill="#d8dce2"/><rect x="214.48" y="156.61" width="7.7" height="7.69" fill="#d2dbe8"/><rect x="221.69" y="156.61" width="7.7" height="7.69" fill="#cbd8ee"/><rect x="228.89" y="156.61" width="7.7" height="7.69" fill="#c6d6f1"/><rect x="236.09" y="156.61" width="7.7" height="7.69" fill="#c5d6f2"/><rect x="243.3" y="156.61" width="7.7" height="7.69" fill="#c7d7f0"/><rect x="250.5" y="156.61" width="7.7" height="7.69" fill="#c7d7f0"/><rect x="27.2" y="163.81" width="7.7" height="7.69" fill="#89acfd"/><rect x="34.4" y="163.81" width="7.7" height="7.69" fill="#89acfd"/><rect x="41.6" y="163.81" width="7.7" height="7.69" fill="#88abfd"/><rect x="48.81" y="163.81" width="7.7" height="7.69" fill="#89acfd"/><rect x="56.01" y="163.81" width="7.7" height="7.69" fill="#89acfd"/><rect x="63.21" y="163.81" width="7.7" height="7.69" fill="#84a7fc"/><rect x="70.42" y="163.81" width="7.7" height="7.69" fill="#779af7"/><rect x="77.62" y="163.81" width="7.7" height="7.69" fill="#688aef"/><rect x="84.82" y="163.81" width="7.7" height="7.69" fill="#5875e1"/><rect x="92.03" y="163.81" width="7.7" height="7.69" fill="#4b64d5"/><rect x="99.23" y="163.81" width="7.7" height="7.69" fill="#445acc"/><rect x="106.43" y="163.81" width="7.7" height="7.69" fill="#4257c9"/><rect x="113.64" y="163.81" width="7.7" height="7.69" fill="#455cce"/><rect x="120.84" y="163.81" width="7.7" height="7.69" fill="#536edd"/><rect x="128.04" y="163.81" width="7.7" height="7.69" fill="#6b8df0"/><rect x="135.25" y="163.81" width="7.7" height="7.69" fill="#85a8fc"/><rect x="142.45" y="163.81" width="7.7" height="7.69" fill="#9dbdff"/><rect x="149.65" y="163.81" width="7.7" height="7.69" fill="#c0d4f5"/><rect x="156.86" y="163.81" width="7.7" height="7.69" fill="#dbdcde"/><rect x="164.06" y="163.81" width="7.7" height="7.69" fill="#e6d7cf"/><rect x="171.26" y="163.81" width="7.7" height="7.69" fill="#e9d5cb"/><rect x="178.47" y="163.81" width="7.7" height="7.69" fill="#e8d6cc"/><rect x="185.67" y="163.81" width="7.7" height="7.69" fill="#e6d7cf"/><rect x="192.87" y="163.81" width="7.7" height="7.69" fill="#e2dad5"/><rect x="200.08" y="163.81" width="7.7" height="7.69" fill="#dddcdc"/><rect x="207.28" y="163.81" width="7.7" height="7.69" fill="#d7dce3"/><rect x="214.48" y="163.81" width="7.7" height="7.69" fill="#cfdaea"/><rect x="221.69" y="163.81" width="7.7" height="7.69" fill="#cad8ef"/><rect x="228.89" y="163.81" width="7.7" height="7.69" fill="#c4d5f3"/><rect x="236.09" y="163.81" width="7.7" height="7.69" fill="#c1d4f4"/><rect x="243.3" y="163.81" width="7.7" height="7.69" fill="#c3d5f4"/><rect x="250.5" y="163.81" width="7.7" height="7.69" fill="#c3d5f4"/><rect x="27.2" y="171" width="7.7" height="7.69" fill="#8fb1fe"/><rect x="34.4" y="171" width="7.7" height="7.69" fill="#8fb1fe"/><rect x="41.6" y="171" width="7.7" height="7.69" fill="#8fb1fe"/><rect x="48.81" y="171" width="7.7" height="7.69" fill="#8fb1fe"/><rect x="56.01" y="171" width="7.7" height="7.69" fill="#8db0fe"/><rect x="63.21" y="171" width="7.7" height="7.69" fill="#86a9fc"/><rect x="70.42" y="171" width="7.7" height="7.69" fill="#7a9df8"/><rect x="77.62" y="171" width="7.7" height="7.69" fill="#6b8df0"/><rect x="84.82" y="171" width="7.7" height="7.69" fill="#5b7ae5"/><rect x="92.03" y="171" width="7.7" height="7.69" fill="#4f69d9"/><rect x="99.23" y="171" width="7.7" height="7.69" fill="#465ecf"/><rect x="106.43" y="171" width="7.7" height="7.69" fill="#445acc"/><rect x="113.64" y="171" width="7.7" height="7.69" fill="#485fd1"/><rect x="120.84" y="171" width="7.7" height="7.69" fill="#5470de"/><rect x="128.04" y="171" width="7.7" height="7.69" fill="#6c8ff1"/><rect x="135.25" y="171" width="7.7" height="7.69" fill="#88abfd"/><rect x="142.45" y="171" width="7.7" height="7.69" fill="#9ebeff"/><rect x="149.65" y="171" width="7.7" height="7.69" fill="#c0d4f5"/><rect x="156.86" y="171" width="7.7" height="7.69" fill="#dadce0"/><rect x="164.06" y="171" width="7.7" height="7.69" fill="#e6d7cf"/><rect x="171.26" y="171" width="7.7" height="7.69" fill="#ead5c9"/><rect x="178.47" y="171" width="7.7" height="7.69" fill="#ead5c9"/><rect x="185.67" y="171" width="7.7" height="7.69" fill="#e7d7ce"/><rect x="192.87" y="171" width="7.7" height="7.69" fill="#e2dad5"/><rect x="200.08" y="171" width="7.7" height="7.69" fill="#dcdddd"/><rect x="207.28" y="171" width="7.7" height="7.69" fill="#d6dce4"/><rect x="214.48" y="171" width="7.7" height="7.69" fill="#cfdaea"/><rect x="221.69" y="171" width="7.7" height="7.69" fill="#cad8ef"/><rect x="228.89" y="171" width="7.7" height="7.69" fill="#c5d6f2"/><rect x="236.09" y="171" width="7.7" height="7.69" fill="#c0d4f5"/><rect x="243.3" y="171" width="7.7" height="7.69" fill="#bed2f6"/><rect x="250.5" y="171" width="7.7" height="7.69" fill="#bed2f6"/><rect x="27.2" y="178.2" width="7.7" height="7.69" fill="#8fb1fe"/><rect x="34.4" y="178.2" width="7.7" height="7.69" fill="#8fb1fe"/><rect x="41.6" y="178.2" width="7.7" height="7.69" fill="#8fb1fe"/><rect x="48.81" y="178.2" width="7.7" height="7.69" fill="#8fb1fe"/><rect x="56.01" y="178.2" width="7.7" height="7.69" fill="#8db0fe"/><rect x="63.21" y="178.2" width="7.7" height="7.69" fill="#86a9fc"/><rect x="70.42" y="178.2" width="7.7" height="7.69" fill="#7a9df8"/><rect x="77.62" y="178.2" width="7.7" height="7.69" fill="#6b8df0"/><rect x="84.82" y="178.2" width="7.7" height="7.69" fill="#5b7ae5"/><rect x="92.03" y="178.2" width="7.7" height="7.69" fill="#4f69d9"/><rect x="99.23" y="178.2" width="7.7" height="7.69" fill="#465ecf"/><rect x="106.43" y="178.2" width="7.7" height="7.69" fill="#445acc"/><rect x="113.64" y="178.2" width="7.7" height="7.69" fill="#485fd1"/><rect x="120.84" y="178.2" width="7.7" height="7.69" fill="#5470de"/><rect x="128.04" y="178.2" width="7.7" height="7.69" fill="#6c8ff1"/><rect x="135.25" y="178.2" width="7.7" height="7.69" fill="#88abfd"/><rect x="142.45" y="178.2" width="7.7" height="7.69" fill="#9ebeff"/><rect x="149.65" y="178.2" width="7.7" height="7.69" fill="#c0d4f5"/><rect x="156.86" y="178.2" width="7.7" height="7.69" fill="#dadce0"/><rect x="164.06" y="178.2" width="7.7" height="7.69" fill="#e6d7cf"/><rect x="171.26" y="178.2" width="7.7" height="7.69" fill="#ead5c9"/><rect x="178.47" y="178.2" width="7.7" height="7.69" fill="#ead5c9"/><rect x="185.67" y="178.2" width="7.7" height="7.69" fill="#e7d7ce"/><rect x="192.87" y="178.2" width="7.7" height="7.69" fill="#e2dad5"/><rect x="200.08" y="178.2" width="7.7" height="7.69" fill="#dcdddd"/><rect x="207.28" y="178.2" width="7.7" height="7.69" fill="#d6dce4"/><rect x="214.48" y="178.2" width="7.7" height="7.69" fill="#cfdaea"/><rect x="221.69" y="178.2" width="7.7" height="7.69" fill="#cad8ef"/><rect x="228.89" y="178.2" width="7.7" height="7.69" fill="#c5d6f2"/><rect x="236.09" y="178.2" width="7.7" height="7.69" fill="#c0d4f5"/><rect x="243.3" y="178.2" width="7.7" height="7.69" fill="#bed2f6"/><rect x="250.5" y="178.2" width="7.7" height="7.69" fill="#bed2f6"/></g></g>
<rect x="34.4" y="34.3" width="216.1" height="143.9" fill="none" stroke="#262626" stroke-width="0.9"/>
<line x1="38" y1="178.2" x2="38" y2="181" stroke="#262626" stroke-width="1"/>
<text class="t" x="38" y="188.7" font-size="8.1" textLength="4.68" lengthAdjust="spacingAndGlyphs" text-anchor="middle">0</text>
<line x1="74.02" y1="178.2" x2="74.02" y2="181" stroke="#262626" stroke-width="1"/>
<text class="t" x="74.02" y="188.7" font-size="8.1" textLength="4.68" lengthAdjust="spacingAndGlyphs" text-anchor="middle">5</text>
<line x1="110.03" y1="178.2" x2="110.03" y2="181" stroke="#262626" stroke-width="1"/>
<text class="t" x="110.03" y="188.7" font-size="8.1" textLength="9.35" lengthAdjust="spacingAndGlyphs" text-anchor="middle">10</text>
<line x1="146.05" y1="178.2" x2="146.05" y2="181" stroke="#262626" stroke-width="1"/>
<text class="t" x="146.05" y="188.7" font-size="8.1" textLength="9.35" lengthAdjust="spacingAndGlyphs" text-anchor="middle">15</text>
<line x1="182.07" y1="178.2" x2="182.07" y2="181" stroke="#262626" stroke-width="1"/>
<text class="t" x="182.07" y="188.7" font-size="8.1" textLength="9.35" lengthAdjust="spacingAndGlyphs" text-anchor="middle">20</text>
<line x1="218.09" y1="178.2" x2="218.09" y2="181" stroke="#262626" stroke-width="1"/>
<text class="t" x="218.09" y="188.7" font-size="8.1" textLength="9.35" lengthAdjust="spacingAndGlyphs" text-anchor="middle">25</text>
<line x1="31.6" y1="37.9" x2="34.4" y2="37.9" stroke="#262626" stroke-width="1"/>
<text class="t" x="29.2" y="40.6" font-size="8.1" textLength="11.69" lengthAdjust="spacingAndGlyphs" text-anchor="end">0.0</text>
<line x1="31.6" y1="55.88" x2="34.4" y2="55.88" stroke="#262626" stroke-width="1"/>
<text class="t" x="29.2" y="58.58" font-size="8.1" textLength="11.69" lengthAdjust="spacingAndGlyphs" text-anchor="end">2.5</text>
<line x1="31.6" y1="73.87" x2="34.4" y2="73.87" stroke="#262626" stroke-width="1"/>
<text class="t" x="29.2" y="76.57" font-size="8.1" textLength="11.69" lengthAdjust="spacingAndGlyphs" text-anchor="end">5.0</text>
<line x1="31.6" y1="91.86" x2="34.4" y2="91.86" stroke="#262626" stroke-width="1"/>
<text class="t" x="29.2" y="94.56" font-size="8.1" textLength="11.69" lengthAdjust="spacingAndGlyphs" text-anchor="end">7.5</text>
<line x1="31.6" y1="109.85" x2="34.4" y2="109.85" stroke="#262626" stroke-width="1"/>
<text class="t" x="29.2" y="112.55" font-size="8.1" textLength="16.37" lengthAdjust="spacingAndGlyphs" text-anchor="end">10.0</text>
<line x1="31.6" y1="127.83" x2="34.4" y2="127.83" stroke="#262626" stroke-width="1"/>
<text class="t" x="29.2" y="130.53" font-size="8.1" textLength="16.37" lengthAdjust="spacingAndGlyphs" text-anchor="end">12.5</text>
<line x1="31.6" y1="145.82" x2="34.4" y2="145.82" stroke="#262626" stroke-width="1"/>
<text class="t" x="29.2" y="148.52" font-size="8.1" textLength="16.37" lengthAdjust="spacingAndGlyphs" text-anchor="end">15.0</text>
<line x1="31.6" y1="163.81" x2="34.4" y2="163.81" stroke="#262626" stroke-width="1"/>
<text class="t" x="29.2" y="166.51" font-size="8.1" textLength="16.37" lengthAdjust="spacingAndGlyphs" text-anchor="end">17.5</text>
<text class="t" x="142.45" y="199.5" font-size="8.1" textLength="20.92" lengthAdjust="spacingAndGlyphs" text-anchor="middle">Angle</text>
<text class="t" transform="translate(7.3 106.9) rotate(-90)" font-size="8.1" textLength="26.72" lengthAdjust="spacingAndGlyphs" text-anchor="middle">Mesh Z</text>
<path d="M263.5 16.1 L263.5 14.6 L268.65 5.5 L273.8 14.6 L273.8 16.1 Z" fill="#b40426"/>
<path d="M263.5 195.9 L263.5 197.4 L268.65 206.2 L273.8 197.4 L273.8 195.9 Z" fill="#3b4cc0"/>
<rect x="263.5" y="14.6" width="10.3" height="182.8" fill="url(#cw)"/>
<path d="M263.5 14.6 L268.65 5.5 L273.8 14.6 L273.8 197.4 L268.65 206.2 L263.5 197.4 Z" fill="none" stroke="#262626" stroke-width="0.9" stroke-linejoin="miter"/>
<line x1="273.8" y1="179.14" x2="275.4" y2="179.14" stroke="#262626" stroke-width="0.8"/>
<line x1="273.8" y1="162.53" x2="275.4" y2="162.53" stroke="#262626" stroke-width="0.8"/>
<line x1="273.8" y1="149.64" x2="275.4" y2="149.64" stroke="#262626" stroke-width="0.8"/>
<line x1="273.8" y1="139.11" x2="275.4" y2="139.11" stroke="#262626" stroke-width="0.8"/>
<line x1="273.8" y1="130.2" x2="275.4" y2="130.2" stroke="#262626" stroke-width="0.8"/>
<line x1="273.8" y1="122.49" x2="275.4" y2="122.49" stroke="#262626" stroke-width="0.8"/>
<line x1="273.8" y1="115.69" x2="275.4" y2="115.69" stroke="#262626" stroke-width="0.8"/>
<line x1="273.8" y1="109.6" x2="276.6" y2="109.6" stroke="#262626" stroke-width="1"/>
<text class="t" x="279.7" y="113.1" font-size="8.1" textLength="9.35" lengthAdjust="spacingAndGlyphs">10</text>
<text class="ts" x="289.05" y="110.4" font-size="5.67" textLength="7.58" lengthAdjust="spacingAndGlyphs">−3</text>
<line x1="273.8" y1="69.56" x2="275.4" y2="69.56" stroke="#262626" stroke-width="0.8"/>
<line x1="273.8" y1="46.14" x2="275.4" y2="46.14" stroke="#262626" stroke-width="0.8"/>
<line x1="273.8" y1="29.53" x2="275.4" y2="29.53" stroke="#262626" stroke-width="0.8"/>
<line x1="273.8" y1="16.64" x2="275.4" y2="16.64" stroke="#262626" stroke-width="0.8"/>
<text class="t" transform="translate(306.2 107.35) rotate(-90)" font-size="8.1" textLength="31.99" lengthAdjust="spacingAndGlyphs" text-anchor="middle">Intensity</text>
<text x="148.9" y="228.8" text-anchor="middle" font-size="19.8" font-family="'Liberation Serif', serif" fill="#000">(a)</text>
<g clip-path="url(#cp1)"><g filter="url(#bl)" shape-rendering="crispEdges"><rect x="396.14" y="23.11" width="7.86" height="7.89" fill="#9fbfff"/><rect x="403.5" y="23.11" width="7.86" height="7.89" fill="#9fbfff"/><rect x="410.86" y="23.11" width="7.86" height="7.89" fill="#93b5fe"/><rect x="418.22" y="23.11" width="7.86" height="7.89" fill="#97b8ff"/><rect x="425.58" y="23.11" width="7.86" height="7.89" fill="#a7c5fe"/><rect x="432.94" y="23.11" width="7.86" height="7.89" fill="#c1d4f4"/><rect x="440.3" y="23.11" width="7.86" height="7.89" fill="#dcdddd"/><rect x="447.66" y="23.11" width="7.86" height="7.89" fill="#f3c8b2"/><rect x="455.02" y="23.11" width="7.86" height="7.89" fill="#f7ac8e"/><rect x="462.38" y="23.11" width="7.86" height="7.89" fill="#f39475"/><rect x="469.74" y="23.11" width="7.86" height="7.89" fill="#f18d6f"/><rect x="477.1" y="23.11" width="7.86" height="7.89" fill="#f39778"/><rect x="484.46" y="23.11" width="7.86" height="7.89" fill="#f7b093"/><rect x="491.82" y="23.11" width="7.86" height="7.89" fill="#f1cdba"/><rect x="499.18" y="23.11" width="7.86" height="7.89" fill="#d6dce4"/><rect x="506.54" y="23.11" width="7.86" height="7.89" fill="#bbd1f8"/><rect x="513.9" y="23.11" width="7.86" height="7.89" fill="#a2c1ff"/><rect x="521.26" y="23.11" width="7.86" height="7.89" fill="#90b2fe"/><rect x="528.62" y="23.11" width="7.86" height="7.89" fill="#84a7fc"/><rect x="535.98" y="23.11" width="7.86" height="7.89" fill="#81a4fb"/><rect x="543.34" y="23.11" width="7.86" height="7.89" fill="#89acfd"/><rect x="550.7" y="23.11" width="7.86" height="7.89" fill="#9bbcff"/><rect x="558.06" y="23.11" width="7.86" height="7.89" fill="#b3cdfb"/><rect x="565.42" y="23.11" width="7.86" height="7.89" fill="#c9d7f0"/><rect x="572.78" y="23.11" width="7.86" height="7.89" fill="#d8dce2"/><rect x="580.14" y="23.11" width="7.86" height="7.89" fill="#e3d9d3"/><rect x="587.5" y="23.11" width="7.86" height="7.89" fill="#e8d6cc"/><rect x="594.86" y="23.11" width="7.86" height="7.89" fill="#e5d8d1"/><rect x="602.22" y="23.11" width="7.86" height="7.89" fill="#dcdddd"/><rect x="609.58" y="23.11" width="7.86" height="7.89" fill="#cfdaea"/><rect x="616.94" y="23.11" width="7.86" height="7.89" fill="#c0d4f5"/><rect x="624.3" y="23.11" width="7.86" height="7.89" fill="#c0d4f5"/><rect x="396.14" y="30.5" width="7.86" height="7.89" fill="#9fbfff"/><rect x="403.5" y="30.5" width="7.86" height="7.89" fill="#9fbfff"/><rect x="410.86" y="30.5" width="7.86" height="7.89" fill="#93b5fe"/><rect x="418.22" y="30.5" width="7.86" height="7.89" fill="#97b8ff"/><rect x="425.58" y="30.5" width="7.86" height="7.89" fill="#a7c5fe"/><rect x="432.94" y="30.5" width="7.86" height="7.89" fill="#c1d4f4"/><rect x="440.3" y="30.5" width="7.86" height="7.89" fill="#dcdddd"/><rect x="447.66" y="30.5" width="7.86" height="7.89" fill="#f3c8b2"/><rect x="455.02" y="30.5" width="7.86" height="7.89" fill="#f7ac8e"/><rect x="462.38" y="30.5" width="7.86" height="7.89" fill="#f39475"/><rect x="469.74" y="30.5" width="7.86" height="7.89" fill="#f18d6f"/><rect x="477.1" y="30.5" width="7.86" height="7.89" fill="#f39778"/><rect x="484.46" y="30.5" width="7.86" height="7.89" fill="#f7b093"/><rect x="491.82" y="30.5" width="7.86" height="7.89" fill="#f1cdba"/><rect x="499.18" y="30.5" width="7.86" height="7.89" fill="#d6dce4"/><rect x="506.54" y="30.5" width="7.86" height="7.89" fill="#bbd1f8"/><rect x="513.9" y="30.5" width="7.86" height="7.89" fill="#a2c1ff"/><rect x="521.26" y="30.5" width="7.86" height="7.89" fill="#90b2fe"/><rect x="528.62" y="30.5" width="7.86" height="7.89" fill="#84a7fc"/><rect x="535.98" y="30.5" width="7.86" height="7.89" fill="#81a4fb"/><rect x="543.34" y="30.5" width="7.86" height="7.89" fill="#89acfd"/><rect x="550.7" y="30.5" width="7.86" height="7.89" fill="#9bbcff"/><rect x="558.06" y="30.5" width="7.86" height="7.89" fill="#b3cdfb"/><rect x="565.42" y="30.5" width="7.86" height="7.89" fill="#c9d7f0"/><rect x="572.78" y="30.5" width="7.86" height="7.89" fill="#d8dce2"/><rect x="580.14" y="30.5" width="7.86" height="7.89" fill="#e3d9d3"/><rect x="587.5" y="30.5" width="7.86" height="7.89" fill="#e8d6cc"/><rect x="594.86" y="30.5" width="7.86" height="7.89" fill="#e5d8d1"/><rect x="602.22" y="30.5" width="7.86" height="7.89" fill="#dcdddd"/><rect x="609.58" y="30.5" width="7.86" height="7.89" fill="#cfdaea"/><rect x="616.94" y="30.5" width="7.86" height="7.89" fill="#c0d4f5"/><rect x="624.3" y="30.5" width="7.86" height="7.89" fill="#c0d4f5"/><rect x="396.14" y="37.89" width="7.86" height="7.89" fill="#84a7fc"/><rect x="403.5" y="37.89" width="7.86" height="7.89" fill="#84a7fc"/><rect x="410.86" y="37.89" width="7.86" height="7.89" fill="#7699f6"/><rect x="418.22" y="37.89" width="7.86" height="7.89" fill="#799cf8"/><rect x="425.58" y="37.89" width="7.86" height="7.89" fill="#89acfd"/><rect x="432.94" y="37.89" width="7.86" height="7.89" fill="#a3c2fe"/><rect x="440.3" y="37.89" width="7.86" height="7.89" fill="#c1d4f4"/><rect x="447.66" y="37.89" width="7.86" height="7.89" fill="#dbdcde"/><rect x="455.02" y="37.89" width="7.86" height="7.89" fill="#f0cdbb"/><rect x="462.38" y="37.89" width="7.86" height="7.89" fill="#f6bfa6"/><rect x="469.74" y="37.89" width="7.86" height="7.89" fill="#f7bca1"/><rect x="477.1" y="37.89" width="7.86" height="7.89" fill="#f4c5ad"/><rect x="484.46" y="37.89" width="7.86" height="7.89" fill="#ebd3c6"/><rect x="491.82" y="37.89" width="7.86" height="7.89" fill="#d6dce4"/><rect x="499.18" y="37.89" width="7.86" height="7.89" fill="#bbd1f8"/><rect x="506.54" y="37.89" width="7.86" height="7.89" fill="#9ebeff"/><rect x="513.9" y="37.89" width="7.86" height="7.89" fill="#85a8fc"/><rect x="521.26" y="37.89" width="7.86" height="7.89" fill="#7597f6"/><rect x="528.62" y="37.89" width="7.86" height="7.89" fill="#6a8bef"/><rect x="535.98" y="37.89" width="7.86" height="7.89" fill="#688aef"/><rect x="543.34" y="37.89" width="7.86" height="7.89" fill="#7093f3"/><rect x="550.7" y="37.89" width="7.86" height="7.89" fill="#81a4fb"/><rect x="558.06" y="37.89" width="7.86" height="7.89" fill="#98b9ff"/><rect x="565.42" y="37.89" width="7.86" height="7.89" fill="#adc9fd"/><rect x="572.78" y="37.89" width="7.86" height="7.89" fill="#bcd2f7"/><rect x="580.14" y="37.89" width="7.86" height="7.89" fill="#c6d6f1"/><rect x="587.5" y="37.89" width="7.86" height="7.89" fill="#c9d7f0"/><rect x="594.86" y="37.89" width="7.86" height="7.89" fill="#c6d6f1"/><rect x="602.22" y="37.89" width="7.86" height="7.89" fill="#bed2f6"/><rect x="609.58" y="37.89" width="7.86" height="7.89" fill="#afcafc"/><rect x="616.94" y="37.89" width="7.86" height="7.89" fill="#9ebeff"/><rect x="624.3" y="37.89" width="7.86" height="7.89" fill="#9ebeff"/><rect x="396.14" y="45.28" width="7.86" height="7.89" fill="#6e90f2"/><rect x="403.5" y="45.28" width="7.86" height="7.89" fill="#6e90f2"/><rect x="410.86" y="45.28" width="7.86" height="7.89" fill="#5f7fe8"/><rect x="418.22" y="45.28" width="7.86" height="7.89" fill="#6384eb"/><rect x="425.58" y="45.28" width="7.86" height="7.89" fill="#7597f6"/><rect x="432.94" y="45.28" width="7.86" height="7.89" fill="#90b2fe"/><rect x="440.3" y="45.28" width="7.86" height="7.89" fill="#aec9fc"/><rect x="447.66" y="45.28" width="7.86" height="7.89" fill="#c9d7f0"/><rect x="455.02" y="45.28" width="7.86" height="7.89" fill="#dcdddd"/><rect x="462.38" y="45.28" width="7.86" height="7.89" fill="#ead5c9"/><rect x="469.74" y="45.28" width="7.86" height="7.89" fill="#ebd3c6"/><rect x="477.1" y="45.28" width="7.86" height="7.89" fill="#e5d8d1"/><rect x="484.46" y="45.28" width="7.86" height="7.89" fill="#d8dce2"/><rect x="491.82" y="45.28" width="7.86" height="7.89" fill="#c4d5f3"/><rect x="499.18" y="45.28" width="7.86" height="7.89" fill="#a7c5fe"/><rect x="506.54" y="45.28" width="7.86" height="7.89" fill="#8badfd"/><rect x="513.9" y="45.28" width="7.86" height="7.89" fill="#7295f4"/><rect x="521.26" y="45.28" width="7.86" height="7.89" fill="#6180e9"/><rect x="528.62" y="45.28" width="7.86" height="7.89" fill="#5572df"/><rect x="535.98" y="45.28" width="7.86" height="7.89" fill="#536edd"/><rect x="543.34" y="45.28" width="7.86" height="7.89" fill="#5977e3"/><rect x="550.7" y="45.28" width="7.86" height="7.89" fill="#6b8df0"/><rect x="558.06" y="45.28" width="7.86" height="7.89" fill="#82a6fb"/><rect x="565.42" y="45.28" width="7.86" height="7.89" fill="#9abbff"/><rect x="572.78" y="45.28" width="7.86" height="7.89" fill="#aac7fd"/><rect x="580.14" y="45.28" width="7.86" height="7.89" fill="#b2ccfb"/><rect x="587.5" y="45.28" width="7.86" height="7.89" fill="#b3cdfb"/><rect x="594.86" y="45.28" width="7.86" height="7.89" fill="#afcafc"/><rect x="602.22" y="45.28" width="7.86" height="7.89" fill="#a7c5fe"/><rect x="609.58" y="45.28" width="7.86" height="7.89" fill="#98b9ff"/><rect x="616.94" y="45.28" width="7.86" height="7.89" fill="#85a8fc"/><rect x="624.3" y="45.28" width="7.86" height="7.89" fill="#85a8fc"/><rect x="396.14" y="52.67" width="7.86" height="7.89" fill="#6282ea"/><rect x="403.5" y="52.67" width="7.86" height="7.89" fill="#6282ea"/><rect x="410.86" y="52.67" width="7.86" height="7.89" fill="#5470de"/><rect x="418.22" y="52.67" width="7.86" height="7.89" fill="#5977e3"/><rect x="425.58" y="52.67" width="7.86" height="7.89" fill="#6b8df0"/><rect x="432.94" y="52.67" width="7.86" height="7.89" fill="#88abfd"/><rect x="440.3" y="52.67" width="7.86" height="7.89" fill="#a5c3fe"/><rect x="447.66" y="52.67" width="7.86" height="7.89" fill="#c0d4f5"/><rect x="455.02" y="52.67" width="7.86" height="7.89" fill="#d3dbe7"/><rect x="462.38" y="52.67" width="7.86" height="7.89" fill="#dedcdb"/><rect x="469.74" y="52.67" width="7.86" height="7.89" fill="#e1dad6"/><rect x="477.1" y="52.67" width="7.86" height="7.89" fill="#dcdddd"/><rect x="484.46" y="52.67" width="7.86" height="7.89" fill="#d1dae9"/><rect x="491.82" y="52.67" width="7.86" height="7.89" fill="#bcd2f7"/><rect x="499.18" y="52.67" width="7.86" height="7.89" fill="#a1c0ff"/><rect x="506.54" y="52.67" width="7.86" height="7.89" fill="#82a6fb"/><rect x="513.9" y="52.67" width="7.86" height="7.89" fill="#688aef"/><rect x="521.26" y="52.67" width="7.86" height="7.89" fill="#5673e0"/><rect x="528.62" y="52.67" width="7.86" height="7.89" fill="#4a63d3"/><rect x="535.98" y="52.67" width="7.86" height="7.89" fill="#465ecf"/><rect x="543.34" y="52.67" width="7.86" height="7.89" fill="#4c66d6"/><rect x="550.7" y="52.67" width="7.86" height="7.89" fill="#5e7de7"/><rect x="558.06" y="52.67" width="7.86" height="7.89" fill="#7699f6"/><rect x="565.42" y="52.67" width="7.86" height="7.89" fill="#8fb1fe"/><rect x="572.78" y="52.67" width="7.86" height="7.89" fill="#9fbfff"/><rect x="580.14" y="52.67" width="7.86" height="7.89" fill="#a7c5fe"/><rect x="587.5" y="52.67" width="7.86" height="7.89" fill="#a7c5fe"/><rect x="594.86" y="52.67" width="7.86" height="7.89" fill="#a3c2fe"/><rect x="602.22" y="52.67" width="7.86" height="7.89" fill="#9bbcff"/><rect x="609.58" y="52.67" width="7.86" height="7.89" fill="#8db0fe"/><rect x="616.94" y="52.67" width="7.86" height="7.89" fill="#799cf8"/><rect x="624.3" y="52.67" width="7.86" height="7.89" fill="#799cf8"/><rect x="396.14" y="60.06" width="7.86" height="7.89" fill="#6384eb"/><rect x="403.5" y="60.06" width="7.86" height="7.89" fill="#6384eb"/><rect x="410.86" y="60.06" width="7.86" height="7.89" fill="#5572df"/><rect x="418.22" y="60.06" width="7.86" height="7.89" fill="#5a78e4"/><rect x="425.58" y="60.06" width="7.86" height="7.89" fill="#6e90f2"/><rect x="432.94" y="60.06" width="7.86" height="7.89" fill="#89acfd"/><rect x="440.3" y="60.06" width="7.86" height="7.89" fill="#a7c5fe"/><rect x="447.66" y="60.06" width="7.86" height="7.89" fill="#c3d5f4"/><rect x="455.02" y="60.06" width="7.86" height="7.89" fill="#d6dce4"/><rect x="462.38" y="60.06" width="7.86" height="7.89" fill="#e2dad5"/><rect x="469.74" y="60.06" width="7.86" height="7.89" fill="#e5d8d1"/><rect x="477.1" y="60.06" width="7.86" height="7.89" fill="#dfdbd9"/><rect x="484.46" y="60.06" width="7.86" height="7.89" fill="#d4dbe6"/><rect x="491.82" y="60.06" width="7.86" height="7.89" fill="#c0d4f5"/><rect x="499.18" y="60.06" width="7.86" height="7.89" fill="#a3c2fe"/><rect x="506.54" y="60.06" width="7.86" height="7.89" fill="#84a7fc"/><rect x="513.9" y="60.06" width="7.86" height="7.89" fill="#6b8df0"/><rect x="521.26" y="60.06" width="7.86" height="7.89" fill="#5875e1"/><rect x="528.62" y="60.06" width="7.86" height="7.89" fill="#4e68d8"/><rect x="535.98" y="60.06" width="7.86" height="7.89" fill="#4a63d3"/><rect x="543.34" y="60.06" width="7.86" height="7.89" fill="#506bda"/><rect x="550.7" y="60.06" width="7.86" height="7.89" fill="#5f7fe8"/><rect x="558.06" y="60.06" width="7.86" height="7.89" fill="#7699f6"/><rect x="565.42" y="60.06" width="7.86" height="7.89" fill="#8caffe"/><rect x="572.78" y="60.06" width="7.86" height="7.89" fill="#9bbcff"/><rect x="580.14" y="60.06" width="7.86" height="7.89" fill="#a3c2fe"/><rect x="587.5" y="60.06" width="7.86" height="7.89" fill="#a6c4fe"/><rect x="594.86" y="60.06" width="7.86" height="7.89" fill="#a3c2fe"/><rect x="602.22" y="60.06" width="7.86" height="7.89" fill="#9bbcff"/><rect x="609.58" y="60.06" width="7.86" height="7.89" fill="#8db0fe"/><rect x="616.94" y="60.06" width="7.86" height="7.89" fill="#7a9df8"/><rect x="624.3" y="60.06" width="7.86" height="7.89" fill="#7a9df8"/><rect x="396.14" y="67.45" width="7.86" height="7.89" fill="#7295f4"/><rect x="403.5" y="67.45" width="7.86" height="7.89" fill="#7295f4"/><rect x="410.86" y="67.45" width="7.86" height="7.89" fill="#6485ec"/><rect x="418.22" y="67.45" width="7.86" height="7.89" fill="#688aef"/><rect x="425.58" y="67.45" width="7.86" height="7.89" fill="#7b9ff9"/><rect x="432.94" y="67.45" width="7.86" height="7.89" fill="#98b9ff"/><rect x="440.3" y="67.45" width="7.86" height="7.89" fill="#b6cefa"/><rect x="447.66" y="67.45" width="7.86" height="7.89" fill="#d1dae9"/><rect x="455.02" y="67.45" width="7.86" height="7.89" fill="#e5d8d1"/><rect x="462.38" y="67.45" width="7.86" height="7.89" fill="#f0cdbb"/><rect x="469.74" y="67.45" width="7.86" height="7.89" fill="#f2cab5"/><rect x="477.1" y="67.45" width="7.86" height="7.89" fill="#efcfbf"/><rect x="484.46" y="67.45" width="7.86" height="7.89" fill="#e2dad5"/><rect x="491.82" y="67.45" width="7.86" height="7.89" fill="#cedaeb"/><rect x="499.18" y="67.45" width="7.86" height="7.89" fill="#b1cbfc"/><rect x="506.54" y="67.45" width="7.86" height="7.89" fill="#92b4fe"/><rect x="513.9" y="67.45" width="7.86" height="7.89" fill="#799cf8"/><rect x="521.26" y="67.45" width="7.86" height="7.89" fill="#6788ee"/><rect x="528.62" y="67.45" width="7.86" height="7.89" fill="#5d7ce6"/><rect x="535.98" y="67.45" width="7.86" height="7.89" fill="#5b7ae5"/><rect x="543.34" y="67.45" width="7.86" height="7.89" fill="#6282ea"/><rect x="550.7" y="67.45" width="7.86" height="7.89" fill="#7093f3"/><rect x="558.06" y="67.45" width="7.86" height="7.89" fill="#84a7fc"/><rect x="565.42" y="67.45" width="7.86" height="7.89" fill="#98b9ff"/><rect x="572.78" y="67.45" width="7.86" height="7.89" fill="#a7c5fe"/><rect x="580.14" y="67.45" width="7.86" height="7.89" fill="#b1cbfc"/><rect x="587.5" y="67.45" width="7.86" height="7.89" fill="#b5cdfa"/><rect x="594.86" y="67.45" width="7.86" height="7.89" fill="#b2ccfb"/><rect x="602.22" y="67.45" width="7.86" height="7.89" fill="#a9c6fd"/><rect x="609.58" y="67.45" width="7.86" height="7.89" fill="#9bbcff"/><rect x="616.94" y="67.45" width="7.86" height="7.89" fill="#88abfd"/><rect x="624.3" y="67.45" width="7.86" height="7.89" fill="#88abfd"/><rect x="396.14" y="74.84" width="7.86" height="7.89" fill="#8fb1fe"/><rect x="403.5" y="74.84" width="7.86" height="7.89" fill="#8fb1fe"/><rect x="410.86" y="74.84" width="7.86" height="7.89" fill="#81a4fb"/><rect x="418.22" y="74.84" width="7.86" height="7.89" fill="#85a8fc"/><rect x="425.58" y="74.84" width="7.86" height="7.89" fill="#98b9ff"/><rect x="432.94" y="74.84" width="7.86" height="7.89" fill="#b2ccfb"/><rect x="440.3" y="74.84" width="7.86" height="7.89" fill="#cedaeb"/><rect x="447.66" y="74.84" width="7.86" height="7.89" fill="#e9d5cb"/><rect x="455.02" y="74.84" width="7.86" height="7.89" fill="#f5c0a7"/><rect x="462.38" y="74.84" width="7.86" height="7.89" fill="#f7af91"/><rect x="469.74" y="74.84" width="7.86" height="7.89" fill="#f7a889"/><rect x="477.1" y="74.84" width="7.86" height="7.89" fill="#f7b093"/><rect x="484.46" y="74.84" width="7.86" height="7.89" fill="#f5c4ac"/><rect x="491.82" y="74.84" width="7.86" height="7.89" fill="#e3d9d3"/><rect x="499.18" y="74.84" width="7.86" height="7.89" fill="#c7d7f0"/><rect x="506.54" y="74.84" width="7.86" height="7.89" fill="#aac7fd"/><rect x="513.9" y="74.84" width="7.86" height="7.89" fill="#93b5fe"/><rect x="521.26" y="74.84" width="7.86" height="7.89" fill="#82a6fb"/><rect x="528.62" y="74.84" width="7.86" height="7.89" fill="#799cf8"/><rect x="535.98" y="74.84" width="7.86" height="7.89" fill="#779af7"/><rect x="543.34" y="74.84" width="7.86" height="7.89" fill="#7ea1fa"/><rect x="550.7" y="74.84" width="7.86" height="7.89" fill="#8fb1fe"/><rect x="558.06" y="74.84" width="7.86" height="7.89" fill="#a5c3fe"/><rect x="565.42" y="74.84" width="7.86" height="7.89" fill="#b9d0f9"/><rect x="572.78" y="74.84" width="7.86" height="7.89" fill="#c6d6f1"/><rect x="580.14" y="74.84" width="7.86" height="7.89" fill="#cedaeb"/><rect x="587.5" y="74.84" width="7.86" height="7.89" fill="#d2dbe8"/><rect x="594.86" y="74.84" width="7.86" height="7.89" fill="#cdd9ec"/><rect x="602.22" y="74.84" width="7.86" height="7.89" fill="#c4d5f3"/><rect x="609.58" y="74.84" width="7.86" height="7.89" fill="#b5cdfa"/><rect x="616.94" y="74.84" width="7.86" height="7.89" fill="#a5c3fe"/><rect x="624.3" y="74.84" width="7.86" height="7.89" fill="#a5c3fe"/><rect x="396.14" y="82.23" width="7.86" height="7.89" fill="#b2ccfb"/><rect x="403.5" y="82.23" width="7.86" height="7.89" fill="#b2ccfb"/><rect x="410.86" y="82.23" width="7.86" height="7.89" fill="#a6c4fe"/><rect x="418.22" y="82.23" width="7.86" height="7.89" fill="#a9c6fd"/><rect x="425.58" y="82.23" width="7.86" height="7.89" fill="#bad0f8"/><rect x="432.94" y="82.23" width="7.86" height="7.89" fill="#cfdaea"/><rect x="440.3" y="82.23" width="7.86" height="7.89" fill="#ead5c9"/><rect x="447.66" y="82.23" width="7.86" height="7.89" fill="#f7b99e"/><rect x="455.02" y="82.23" width="7.86" height="7.89" fill="#f4987a"/><rect x="462.38" y="82.23" width="7.86" height="7.89" fill="#ec7f63"/><rect x="469.74" y="82.23" width="7.86" height="7.89" fill="#e8765c"/><rect x="477.1" y="82.23" width="7.86" height="7.89" fill="#ec8165"/><rect x="484.46" y="82.23" width="7.86" height="7.89" fill="#f59d7e"/><rect x="491.82" y="82.23" width="7.86" height="7.89" fill="#f5c1a9"/><rect x="499.18" y="82.23" width="7.86" height="7.89" fill="#dfdbd9"/><rect x="506.54" y="82.23" width="7.86" height="7.89" fill="#c6d6f1"/><rect x="513.9" y="82.23" width="7.86" height="7.89" fill="#b2ccfb"/><rect x="521.26" y="82.23" width="7.86" height="7.89" fill="#a3c2fe"/><rect x="528.62" y="82.23" width="7.86" height="7.89" fill="#9abbff"/><rect x="535.98" y="82.23" width="7.86" height="7.89" fill="#97b8ff"/><rect x="543.34" y="82.23" width="7.86" height="7.89" fill="#a1c0ff"/><rect x="550.7" y="82.23" width="7.86" height="7.89" fill="#b3cdfb"/><rect x="558.06" y="82.23" width="7.86" height="7.89" fill="#cad8ef"/><rect x="565.42" y="82.23" width="7.86" height="7.89" fill="#dcdddd"/><rect x="572.78" y="82.23" width="7.86" height="7.89" fill="#ebd3c6"/><rect x="580.14" y="82.23" width="7.86" height="7.89" fill="#f1cdba"/><rect x="587.5" y="82.23" width="7.86" height="7.89" fill="#f1ccb8"/><rect x="594.86" y="82.23" width="7.86" height="7.89" fill="#edd2c3"/><rect x="602.22" y="82.23" width="7.86" height="7.89" fill="#e0dbd8"/><rect x="609.58" y="82.23" width="7.86" height="7.89" fill="#d1dae9"/><rect x="616.94" y="82.23" width="7.86" height="7.89" fill="#c5d6f2"/><rect x="624.3" y="82.23" width="7.86" height="7.89" fill="#c5d6f2"/><rect x="396.14" y="89.62" width="7.86" height="7.89" fill="#cfdaea"/><rect x="403.5" y="89.62" width="7.86" height="7.89" fill="#cfdaea"/><rect x="410.86" y="89.62" width="7.86" height="7.89" fill="#c6d6f1"/><rect x="418.22" y="89.62" width="7.86" height="7.89" fill="#c9d7f0"/><rect x="425.58" y="89.62" width="7.86" height="7.89" fill="#d6dce4"/><rect x="432.94" y="89.62" width="7.86" height="7.89" fill="#ead4c8"/><rect x="440.3" y="89.62" width="7.86" height="7.89" fill="#f7b99e"/><rect x="447.66" y="89.62" width="7.86" height="7.89" fill="#f39475"/><rect x="455.02" y="89.62" width="7.86" height="7.89" fill="#e36c55"/><rect x="462.38" y="89.62" width="7.86" height="7.89" fill="#d55042"/><rect x="469.74" y="89.62" width="7.86" height="7.89" fill="#cf453c"/><rect x="477.1" y="89.62" width="7.86" height="7.89" fill="#d55042"/><rect x="484.46" y="89.62" width="7.86" height="7.89" fill="#e67259"/><rect x="491.82" y="89.62" width="7.86" height="7.89" fill="#f6a283"/><rect x="499.18" y="89.62" width="7.86" height="7.89" fill="#f3c8b2"/><rect x="506.54" y="89.62" width="7.86" height="7.89" fill="#dddcdc"/><rect x="513.9" y="89.62" width="7.86" height="7.89" fill="#cdd9ec"/><rect x="521.26" y="89.62" width="7.86" height="7.89" fill="#c0d4f5"/><rect x="528.62" y="89.62" width="7.86" height="7.89" fill="#b6cefa"/><rect x="535.98" y="89.62" width="7.86" height="7.89" fill="#b5cdfa"/><rect x="543.34" y="89.62" width="7.86" height="7.89" fill="#bed2f6"/><rect x="550.7" y="89.62" width="7.86" height="7.89" fill="#d1dae9"/><rect x="558.06" y="89.62" width="7.86" height="7.89" fill="#e8d6cc"/><rect x="565.42" y="89.62" width="7.86" height="7.89" fill="#f5c0a7"/><rect x="572.78" y="89.62" width="7.86" height="7.89" fill="#f7ad90"/><rect x="580.14" y="89.62" width="7.86" height="7.89" fill="#f6a385"/><rect x="587.5" y="89.62" width="7.86" height="7.89" fill="#f6a385"/><rect x="594.86" y="89.62" width="7.86" height="7.89" fill="#f7b093"/><rect x="602.22" y="89.62" width="7.86" height="7.89" fill="#f5c4ac"/><rect x="609.58" y="89.62" width="7.86" height="7.89" fill="#ead5c9"/><rect x="616.94" y="89.62" width="7.86" height="7.89" fill="#dddcdc"/><rect x="624.3" y="89.62" width="7.86" height="7.89" fill="#dddcdc"/><rect x="396.14" y="97.01" width="7.86" height="7.89" fill="#e3d9d3"/><rect x="403.5" y="97.01" width="7.86" height="7.89" fill="#e3d9d3"/><rect x="410.86" y="97.01" width="7.86" height="7.89" fill="#dadce0"/><rect x="418.22" y="97.01" width="7.86" height="7.89" fill="#dddcdc"/><rect x="425.58" y="97.01" width="7.86" height="7.89" fill="#ead4c8"/><rect x="432.94" y="97.01" width="7.86" height="7.89" fill="#f6bfa6"/><rect x="440.3" y="97.01" width="7.86" height="7.89" fill="#f59d7e"/><rect x="447.66" y="97.01" width="7.86" height="7.89" fill="#e7745b"/><rect x="455.02" y="97.01" width="7.86" height="7.89" fill="#d24b40"/><rect x="462.38" y="97.01" width="7.86" height="7.89" fill="#c12b30"/><rect x="469.74" y="97.01" width="7.86" height="7.89" fill="#ba162b"/><rect x="477.1" y="97.01" width="7.86" height="7.89" fill="#c12b30"/><rect x="484.46" y="97.01" width="7.86" height="7.89" fill="#d65244"/><rect x="491.82" y="97.01" width="7.86" height="7.89" fill="#ee8468"/><rect x="499.18" y="97.01" width="7.86" height="7.89" fill="#f7b396"/><rect x="506.54" y="97.01" width="7.86" height="7.89" fill="#eed0c0"/><rect x="513.9" y="97.01" width="7.86" height="7.89" fill="#dddcdc"/><rect x="521.26" y="97.01" width="7.86" height="7.89" fill="#d1dae9"/><rect x="528.62" y="97.01" width="7.86" height="7.89" fill="#c9d7f0"/><rect x="535.98" y="97.01" width="7.86" height="7.89" fill="#c7d7f0"/><rect x="543.34" y="97.01" width="7.86" height="7.89" fill="#d1dae9"/><rect x="550.7" y="97.01" width="7.86" height="7.89" fill="#e3d9d3"/><rect x="558.06" y="97.01" width="7.86" height="7.89" fill="#f5c4ac"/><rect x="565.42" y="97.01" width="7.86" height="7.89" fill="#f7a688"/><rect x="572.78" y="97.01" width="7.86" height="7.89" fill="#f18d6f"/><rect x="580.14" y="97.01" width="7.86" height="7.89" fill="#ec8165"/><rect x="587.5" y="97.01" width="7.86" height="7.89" fill="#ed8366"/><rect x="594.86" y="97.01" width="7.86" height="7.89" fill="#f29274"/><rect x="602.22" y="97.01" width="7.86" height="7.89" fill="#f7ac8e"/><rect x="609.58" y="97.01" width="7.86" height="7.89" fill="#f4c5ad"/><rect x="616.94" y="97.01" width="7.86" height="7.89" fill="#edd2c3"/><rect x="624.3" y="97.01" width="7.86" height="7.89" fill="#edd2c3"/><rect x="396.14" y="104.4" width="7.86" height="7.89" fill="#ecd3c5"/><rect x="403.5" y="104.4" width="7.86" height="7.89" fill="#ecd3c5"/><rect x="410.86" y="104.4" width="7.86" height="7.89" fill="#e2dad5"/><rect x="418.22" y="104.4" width="7.86" height="7.89" fill="#e6d7cf"/><rect x="425.58" y="104.4" width="7.86" height="7.89" fill="#f1cdba"/><rect x="432.94" y="104.4" width="7.86" height="7.89" fill="#f7b497"/><rect x="440.3" y="104.4" width="7.86" height="7.89" fill="#f29072"/><rect x="447.66" y="104.4" width="7.86" height="7.89" fill="#e16751"/><rect x="455.02" y="104.4" width="7.86" height="7.89" fill="#cb3e38"/><rect x="462.38" y="104.4" width="7.86" height="7.89" fill="#ba162b"/><rect x="469.74" y="104.4" width="7.86" height="7.89" fill="#b40426"/><rect x="477.1" y="104.4" width="7.86" height="7.89" fill="#ba162b"/><rect x="484.46" y="104.4" width="7.86" height="7.89" fill="#d0473d"/><rect x="491.82" y="104.4" width="7.86" height="7.89" fill="#e97a5f"/><rect x="499.18" y="104.4" width="7.86" height="7.89" fill="#f7a98b"/><rect x="506.54" y="104.4" width="7.86" height="7.89" fill="#f2cab5"/><rect x="513.9" y="104.4" width="7.86" height="7.89" fill="#e4d9d2"/><rect x="521.26" y="104.4" width="7.86" height="7.89" fill="#d7dce3"/><rect x="528.62" y="104.4" width="7.86" height="7.89" fill="#d1dae9"/><rect x="535.98" y="104.4" width="7.86" height="7.89" fill="#cfdaea"/><rect x="543.34" y="104.4" width="7.86" height="7.89" fill="#d8dce2"/><rect x="550.7" y="104.4" width="7.86" height="7.89" fill="#ebd3c6"/><rect x="558.06" y="104.4" width="7.86" height="7.89" fill="#f7bca1"/><rect x="565.42" y="104.4" width="7.86" height="7.89" fill="#f59d7e"/><rect x="572.78" y="104.4" width="7.86" height="7.89" fill="#ed8366"/><rect x="580.14" y="104.4" width="7.86" height="7.89" fill="#e8765c"/><rect x="587.5" y="104.4" width="7.86" height="7.89" fill="#e8765c"/><rect x="594.86" y="104.4" width="7.86" height="7.89" fill="#ee8468"/><rect x="602.22" y="104.4" width="7.86" height="7.89" fill="#f5a081"/><rect x="609.58" y="104.4" width="7.86" height="7.89" fill="#f6bda2"/><rect x="616.94" y="104.4" width="7.86" height="7.89" fill="#f1cdba"/><rect x="624.3" y="104.4" width="7.86" height="7.89" fill="#f1cdba"/><rect x="396.14" y="111.79" width="7.86" height="7.89" fill="#e7d7ce"/><rect x="403.5" y="111.79" width="7.86" height="7.89" fill="#e7d7ce"/><rect x="410.86" y="111.79" width="7.86" height="7.89" fill="#dcdddd"/><rect x="418.22" y="111.79" width="7.86" height="7.89" fill="#dedcdb"/><rect x="425.58" y="111.79" width="7.86" height="7.89" fill="#ecd3c5"/><rect x="432.94" y="111.79" width="7.86" height="7.89" fill="#f6bda2"/><rect x="440.3" y="111.79" width="7.86" height="7.89" fill="#f49a7b"/><rect x="447.66" y="111.79" width="7.86" height="7.89" fill="#e67259"/><rect x="455.02" y="111.79" width="7.86" height="7.89" fill="#d24b40"/><rect x="462.38" y="111.79" width="7.86" height="7.89" fill="#c12b30"/><rect x="469.74" y="111.79" width="7.86" height="7.89" fill="#bb1b2c"/><rect x="477.1" y="111.79" width="7.86" height="7.89" fill="#c32e31"/><rect x="484.46" y="111.79" width="7.86" height="7.89" fill="#d65244"/><rect x="491.82" y="111.79" width="7.86" height="7.89" fill="#ed8366"/><rect x="499.18" y="111.79" width="7.86" height="7.89" fill="#f7b093"/><rect x="506.54" y="111.79" width="7.86" height="7.89" fill="#efcebd"/><rect x="513.9" y="111.79" width="7.86" height="7.89" fill="#dfdbd9"/><rect x="521.26" y="111.79" width="7.86" height="7.89" fill="#d4dbe6"/><rect x="528.62" y="111.79" width="7.86" height="7.89" fill="#cdd9ec"/><rect x="535.98" y="111.79" width="7.86" height="7.89" fill="#cdd9ec"/><rect x="543.34" y="111.79" width="7.86" height="7.89" fill="#d6dce4"/><rect x="550.7" y="111.79" width="7.86" height="7.89" fill="#e7d7ce"/><rect x="558.06" y="111.79" width="7.86" height="7.89" fill="#f5c2aa"/><rect x="565.42" y="111.79" width="7.86" height="7.89" fill="#f7a889"/><rect x="572.78" y="111.79" width="7.86" height="7.89" fill="#f29072"/><rect x="580.14" y="111.79" width="7.86" height="7.89" fill="#ee8468"/><rect x="587.5" y="111.79" width="7.86" height="7.89" fill="#ee8468"/><rect x="594.86" y="111.79" width="7.86" height="7.89" fill="#f29072"/><rect x="602.22" y="111.79" width="7.86" height="7.89" fill="#f7a98b"/><rect x="609.58" y="111.79" width="7.86" height="7.89" fill="#f5c0a7"/><rect x="616.94" y="111.79" width="7.86" height="7.89" fill="#efcebd"/><rect x="624.3" y="111.79" width="7.86" height="7.89" fill="#efcebd"/><rect x="396.14" y="119.18" width="7.86" height="7.89" fill="#d7dce3"/><rect x="403.5" y="119.18" width="7.86" height="7.89" fill="#d7dce3"/><rect x="410.86" y="119.18" width="7.86" height="7.89" fill="#ccd9ed"/><rect x="418.22" y="119.18" width="7.86" height="7.89" fill="#cedaeb"/><rect x="425.58" y="119.18" width="7.86" height="7.89" fill="#dadce0"/><rect x="432.94" y="119.18" width="7.86" height="7.89" fill="#edd1c2"/><rect x="440.3" y="119.18" width="7.86" height="7.89" fill="#f7b599"/><rect x="447.66" y="119.18" width="7.86" height="7.89" fill="#f18f71"/><rect x="455.02" y="119.18" width="7.86" height="7.89" fill="#e36b54"/><rect x="462.38" y="119.18" width="7.86" height="7.89" fill="#d44e41"/><rect x="469.74" y="119.18" width="7.86" height="7.89" fill="#cf453c"/><rect x="477.1" y="119.18" width="7.86" height="7.89" fill="#d55042"/><rect x="484.46" y="119.18" width="7.86" height="7.89" fill="#e57058"/><rect x="491.82" y="119.18" width="7.86" height="7.89" fill="#f49a7b"/><rect x="499.18" y="119.18" width="7.86" height="7.89" fill="#f5c1a9"/><rect x="506.54" y="119.18" width="7.86" height="7.89" fill="#e3d9d3"/><rect x="513.9" y="119.18" width="7.86" height="7.89" fill="#d2dbe8"/><rect x="521.26" y="119.18" width="7.86" height="7.89" fill="#c5d6f2"/><rect x="528.62" y="119.18" width="7.86" height="7.89" fill="#bed2f6"/><rect x="535.98" y="119.18" width="7.86" height="7.89" fill="#bfd3f6"/><rect x="543.34" y="119.18" width="7.86" height="7.89" fill="#c7d7f0"/><rect x="550.7" y="119.18" width="7.86" height="7.89" fill="#d8dce2"/><rect x="558.06" y="119.18" width="7.86" height="7.89" fill="#ecd3c5"/><rect x="565.42" y="119.18" width="7.86" height="7.89" fill="#f6bfa6"/><rect x="572.78" y="119.18" width="7.86" height="7.89" fill="#f7ad90"/><rect x="580.14" y="119.18" width="7.86" height="7.89" fill="#f6a385"/><rect x="587.5" y="119.18" width="7.86" height="7.89" fill="#f6a385"/><rect x="594.86" y="119.18" width="7.86" height="7.89" fill="#f7ad90"/><rect x="602.22" y="119.18" width="7.86" height="7.89" fill="#f6bea4"/><rect x="609.58" y="119.18" width="7.86" height="7.89" fill="#efcebd"/><rect x="616.94" y="119.18" width="7.86" height="7.89" fill="#e5d8d1"/><rect x="624.3" y="119.18" width="7.86" height="7.89" fill="#e5d8d1"/><rect x="396.14" y="126.57" width="7.86" height="7.89" fill="#c1d4f4"/><rect x="403.5" y="126.57" width="7.86" height="7.89" fill="#c1d4f4"/><rect x="410.86" y="126.57" width="7.86" height="7.89" fill="#b6cefa"/><rect x="418.22" y="126.57" width="7.86" height="7.89" fill="#b7cff9"/><rect x="425.58" y="126.57" width="7.86" height="7.89" fill="#c4d5f3"/><rect x="432.94" y="126.57" width="7.86" height="7.89" fill="#d7dce3"/><rect x="440.3" y="126.57" width="7.86" height="7.89" fill="#efcebd"/><rect x="447.66" y="126.57" width="7.86" height="7.89" fill="#f7b093"/><rect x="455.02" y="126.57" width="7.86" height="7.89" fill="#f18d6f"/><rect x="462.38" y="126.57" width="7.86" height="7.89" fill="#e7745b"/><rect x="469.74" y="126.57" width="7.86" height="7.89" fill="#e36b54"/><rect x="477.1" y="126.57" width="7.86" height="7.89" fill="#e8765c"/><rect x="484.46" y="126.57" width="7.86" height="7.89" fill="#f29274"/><rect x="491.82" y="126.57" width="7.86" height="7.89" fill="#f7b599"/><rect x="499.18" y="126.57" width="7.86" height="7.89" fill="#ead4c8"/><rect x="506.54" y="126.57" width="7.86" height="7.89" fill="#cfdaea"/><rect x="513.9" y="126.57" width="7.86" height="7.89" fill="#bad0f8"/><rect x="521.26" y="126.57" width="7.86" height="7.89" fill="#a9c6fd"/><rect x="528.62" y="126.57" width="7.86" height="7.89" fill="#a1c0ff"/><rect x="535.98" y="126.57" width="7.86" height="7.89" fill="#a2c1ff"/><rect x="543.34" y="126.57" width="7.86" height="7.89" fill="#adc9fd"/><rect x="550.7" y="126.57" width="7.86" height="7.89" fill="#c0d4f5"/><rect x="558.06" y="126.57" width="7.86" height="7.89" fill="#d6dce4"/><rect x="565.42" y="126.57" width="7.86" height="7.89" fill="#e8d6cc"/><rect x="572.78" y="126.57" width="7.86" height="7.89" fill="#f2cbb7"/><rect x="580.14" y="126.57" width="7.86" height="7.89" fill="#f4c5ad"/><rect x="587.5" y="126.57" width="7.86" height="7.89" fill="#f4c6af"/><rect x="594.86" y="126.57" width="7.86" height="7.89" fill="#f1ccb8"/><rect x="602.22" y="126.57" width="7.86" height="7.89" fill="#ead5c9"/><rect x="609.58" y="126.57" width="7.86" height="7.89" fill="#dcdddd"/><rect x="616.94" y="126.57" width="7.86" height="7.89" fill="#cedaeb"/><rect x="624.3" y="126.57" width="7.86" height="7.89" fill="#cedaeb"/><rect x="396.14" y="133.96" width="7.86" height="7.89" fill="#a6c4fe"/><rect x="403.5" y="133.96" width="7.86" height="7.89" fill="#a6c4fe"/><rect x="410.86" y="133.96" width="7.86" height="7.89" fill="#98b9ff"/><rect x="418.22" y="133.96" width="7.86" height="7.89" fill="#9bbcff"/><rect x="425.58" y="133.96" width="7.86" height="7.89" fill="#aac7fd"/><rect x="432.94" y="133.96" width="7.86" height="7.89" fill="#c3d5f4"/><rect x="440.3" y="133.96" width="7.86" height="7.89" fill="#dcdddd"/><rect x="447.66" y="133.96" width="7.86" height="7.89" fill="#f3c8b2"/><rect x="455.02" y="133.96" width="7.86" height="7.89" fill="#f7ac8e"/><rect x="462.38" y="133.96" width="7.86" height="7.89" fill="#f39577"/><rect x="469.74" y="133.96" width="7.86" height="7.89" fill="#f18f71"/><rect x="477.1" y="133.96" width="7.86" height="7.89" fill="#f4987a"/><rect x="484.46" y="133.96" width="7.86" height="7.89" fill="#f7af91"/><rect x="491.82" y="133.96" width="7.86" height="7.89" fill="#f2cab5"/><rect x="499.18" y="133.96" width="7.86" height="7.89" fill="#d8dce2"/><rect x="506.54" y="133.96" width="7.86" height="7.89" fill="#bad0f8"/><rect x="513.9" y="133.96" width="7.86" height="7.89" fill="#9ebeff"/><rect x="521.26" y="133.96" width="7.86" height="7.89" fill="#89acfd"/><rect x="528.62" y="133.96" width="7.86" height="7.89" fill="#80a3fa"/><rect x="535.98" y="133.96" width="7.86" height="7.89" fill="#81a4fb"/><rect x="543.34" y="133.96" width="7.86" height="7.89" fill="#8db0fe"/><rect x="550.7" y="133.96" width="7.86" height="7.89" fill="#a3c2fe"/><rect x="558.06" y="133.96" width="7.86" height="7.89" fill="#bfd3f6"/><rect x="565.42" y="133.96" width="7.86" height="7.89" fill="#d3dbe7"/><rect x="572.78" y="133.96" width="7.86" height="7.89" fill="#dfdbd9"/><rect x="580.14" y="133.96" width="7.86" height="7.89" fill="#e5d8d1"/><rect x="587.5" y="133.96" width="7.86" height="7.89" fill="#e3d9d3"/><rect x="594.86" y="133.96" width="7.86" height="7.89" fill="#dddcdc"/><rect x="602.22" y="133.96" width="7.86" height="7.89" fill="#d5dbe5"/><rect x="609.58" y="133.96" width="7.86" height="7.89" fill="#c7d7f0"/><rect x="616.94" y="133.96" width="7.86" height="7.89" fill="#b2ccfb"/><rect x="624.3" y="133.96" width="7.86" height="7.89" fill="#b2ccfb"/><rect x="396.14" y="141.35" width="7.86" height="7.89" fill="#8fb1fe"/><rect x="403.5" y="141.35" width="7.86" height="7.89" fill="#8fb1fe"/><rect x="410.86" y="141.35" width="7.86" height="7.89" fill="#82a6fb"/><rect x="418.22" y="141.35" width="7.86" height="7.89" fill="#85a8fc"/><rect x="425.58" y="141.35" width="7.86" height="7.89" fill="#97b8ff"/><rect x="432.94" y="141.35" width="7.86" height="7.89" fill="#b1cbfc"/><rect x="440.3" y="141.35" width="7.86" height="7.89" fill="#cedaeb"/><rect x="447.66" y="141.35" width="7.86" height="7.89" fill="#e9d5cb"/><rect x="455.02" y="141.35" width="7.86" height="7.89" fill="#f6bfa6"/><rect x="462.38" y="141.35" width="7.86" height="7.89" fill="#f7ac8e"/><rect x="469.74" y="141.35" width="7.86" height="7.89" fill="#f7a688"/><rect x="477.1" y="141.35" width="7.86" height="7.89" fill="#f7af91"/><rect x="484.46" y="141.35" width="7.86" height="7.89" fill="#f5c0a7"/><rect x="491.82" y="141.35" width="7.86" height="7.89" fill="#e9d5cb"/><rect x="499.18" y="141.35" width="7.86" height="7.89" fill="#ccd9ed"/><rect x="506.54" y="141.35" width="7.86" height="7.89" fill="#aac7fd"/><rect x="513.9" y="141.35" width="7.86" height="7.89" fill="#89acfd"/><rect x="521.26" y="141.35" width="7.86" height="7.89" fill="#7396f5"/><rect x="528.62" y="141.35" width="7.86" height="7.89" fill="#6788ee"/><rect x="535.98" y="141.35" width="7.86" height="7.89" fill="#6788ee"/><rect x="543.34" y="141.35" width="7.86" height="7.89" fill="#7597f6"/><rect x="550.7" y="141.35" width="7.86" height="7.89" fill="#8db0fe"/><rect x="558.06" y="141.35" width="7.86" height="7.89" fill="#abc8fd"/><rect x="565.42" y="141.35" width="7.86" height="7.89" fill="#c5d6f2"/><rect x="572.78" y="141.35" width="7.86" height="7.89" fill="#d2dbe8"/><rect x="580.14" y="141.35" width="7.86" height="7.89" fill="#d7dce3"/><rect x="587.5" y="141.35" width="7.86" height="7.89" fill="#d5dbe5"/><rect x="594.86" y="141.35" width="7.86" height="7.89" fill="#cfdaea"/><rect x="602.22" y="141.35" width="7.86" height="7.89" fill="#c6d6f1"/><rect x="609.58" y="141.35" width="7.86" height="7.89" fill="#b6cefa"/><rect x="616.94" y="141.35" width="7.86" height="7.89" fill="#9bbcff"/><rect x="624.3" y="141.35" width="7.86" height="7.89" fill="#9bbcff"/><rect x="396.14" y="148.74" width="7.86" height="7.89" fill="#86a9fc"/><rect x="403.5" y="148.74" width="7.86" height="7.89" fill="#86a9fc"/><rect x="410.86" y="148.74" width="7.86" height="7.89" fill="#799cf8"/><rect x="418.22" y="148.74" width="7.86" height="7.89" fill="#7da0f9"/><rect x="425.58" y="148.74" width="7.86" height="7.89" fill="#8fb1fe"/><rect x="432.94" y="148.74" width="7.86" height="7.89" fill="#aac7fd"/><rect x="440.3" y="148.74" width="7.86" height="7.89" fill="#c7d7f0"/><rect x="447.66" y="148.74" width="7.86" height="7.89" fill="#e2dad5"/><rect x="455.02" y="148.74" width="7.86" height="7.89" fill="#f4c6af"/><rect x="462.38" y="148.74" width="7.86" height="7.89" fill="#f7b497"/><rect x="469.74" y="148.74" width="7.86" height="7.89" fill="#f7af91"/><rect x="477.1" y="148.74" width="7.86" height="7.89" fill="#f7b599"/><rect x="484.46" y="148.74" width="7.86" height="7.89" fill="#f4c5ad"/><rect x="491.82" y="148.74" width="7.86" height="7.89" fill="#e5d8d1"/><rect x="499.18" y="148.74" width="7.86" height="7.89" fill="#c7d7f0"/><rect x="506.54" y="148.74" width="7.86" height="7.89" fill="#a3c2fe"/><rect x="513.9" y="148.74" width="7.86" height="7.89" fill="#84a7fc"/><rect x="521.26" y="148.74" width="7.86" height="7.89" fill="#6c8ff1"/><rect x="528.62" y="148.74" width="7.86" height="7.89" fill="#6282ea"/><rect x="535.98" y="148.74" width="7.86" height="7.89" fill="#6282ea"/><rect x="543.34" y="148.74" width="7.86" height="7.89" fill="#6f92f3"/><rect x="550.7" y="148.74" width="7.86" height="7.89" fill="#88abfd"/><rect x="558.06" y="148.74" width="7.86" height="7.89" fill="#a6c4fe"/><rect x="565.42" y="148.74" width="7.86" height="7.89" fill="#c0d4f5"/><rect x="572.78" y="148.74" width="7.86" height="7.89" fill="#cdd9ec"/><rect x="580.14" y="148.74" width="7.86" height="7.89" fill="#d3dbe7"/><rect x="587.5" y="148.74" width="7.86" height="7.89" fill="#d1dae9"/><rect x="594.86" y="148.74" width="7.86" height="7.89" fill="#cbd8ee"/><rect x="602.22" y="148.74" width="7.86" height="7.89" fill="#c1d4f4"/><rect x="609.58" y="148.74" width="7.86" height="7.89" fill="#b2ccfb"/><rect x="616.94" y="148.74" width="7.86" height="7.89" fill="#98b9ff"/><rect x="624.3" y="148.74" width="7.86" height="7.89" fill="#98b9ff"/><rect x="396.14" y="156.13" width="7.86" height="7.89" fill="#8db0fe"/><rect x="403.5" y="156.13" width="7.86" height="7.89" fill="#8db0fe"/><rect x="410.86" y="156.13" width="7.86" height="7.89" fill="#81a4fb"/><rect x="418.22" y="156.13" width="7.86" height="7.89" fill="#85a8fc"/><rect x="425.58" y="156.13" width="7.86" height="7.89" fill="#96b7ff"/><rect x="432.94" y="156.13" width="7.86" height="7.89" fill="#afcafc"/><rect x="440.3" y="156.13" width="7.86" height="7.89" fill="#cdd9ec"/><rect x="447.66" y="156.13" width="7.86" height="7.89" fill="#e8d6cc"/><rect x="455.02" y="156.13" width="7.86" height="7.89" fill="#f5c0a7"/><rect x="462.38" y="156.13" width="7.86" height="7.89" fill="#f7ac8e"/><rect x="469.74" y="156.13" width="7.86" height="7.89" fill="#f6a586"/><rect x="477.1" y="156.13" width="7.86" height="7.89" fill="#f7ac8e"/><rect x="484.46" y="156.13" width="7.86" height="7.89" fill="#f6bea4"/><rect x="491.82" y="156.13" width="7.86" height="7.89" fill="#ead4c8"/><rect x="499.18" y="156.13" width="7.86" height="7.89" fill="#cdd9ec"/><rect x="506.54" y="156.13" width="7.86" height="7.89" fill="#abc8fd"/><rect x="513.9" y="156.13" width="7.86" height="7.89" fill="#8db0fe"/><rect x="521.26" y="156.13" width="7.86" height="7.89" fill="#779af7"/><rect x="528.62" y="156.13" width="7.86" height="7.89" fill="#6e90f2"/><rect x="535.98" y="156.13" width="7.86" height="7.89" fill="#6f92f3"/><rect x="543.34" y="156.13" width="7.86" height="7.89" fill="#7b9ff9"/><rect x="550.7" y="156.13" width="7.86" height="7.89" fill="#93b5fe"/><rect x="558.06" y="156.13" width="7.86" height="7.89" fill="#afcafc"/><rect x="565.42" y="156.13" width="7.86" height="7.89" fill="#c6d6f1"/><rect x="572.78" y="156.13" width="7.86" height="7.89" fill="#d4dbe6"/><rect x="580.14" y="156.13" width="7.86" height="7.89" fill="#d8dce2"/><rect x="587.5" y="156.13" width="7.86" height="7.89" fill="#d7dce3"/><rect x="594.86" y="156.13" width="7.86" height="7.89" fill="#d2dbe8"/><rect x="602.22" y="156.13" width="7.86" height="7.89" fill="#cad8ef"/><rect x="609.58" y="156.13" width="7.86" height="7.89" fill="#bbd1f8"/><rect x="616.94" y="156.13" width="7.86" height="7.89" fill="#a6c4fe"/><rect x="624.3" y="156.13" width="7.86" height="7.89" fill="#a6c4fe"/><rect x="396.14" y="163.52" width="7.86" height="7.89" fill="#a7c5fe"/><rect x="403.5" y="163.52" width="7.86" height="7.89" fill="#a7c5fe"/><rect x="410.86" y="163.52" width="7.86" height="7.89" fill="#9bbcff"/><rect x="418.22" y="163.52" width="7.86" height="7.89" fill="#9fbfff"/><rect x="425.58" y="163.52" width="7.86" height="7.89" fill="#afcafc"/><rect x="432.94" y="163.52" width="7.86" height="7.89" fill="#c7d7f0"/><rect x="440.3" y="163.52" width="7.86" height="7.89" fill="#e1dad6"/><rect x="447.66" y="163.52" width="7.86" height="7.89" fill="#f5c4ac"/><rect x="455.02" y="163.52" width="7.86" height="7.89" fill="#f7a688"/><rect x="462.38" y="163.52" width="7.86" height="7.89" fill="#f18f71"/><rect x="469.74" y="163.52" width="7.86" height="7.89" fill="#ef886b"/><rect x="477.1" y="163.52" width="7.86" height="7.89" fill="#f29072"/><rect x="484.46" y="163.52" width="7.86" height="7.89" fill="#f7a889"/><rect x="491.82" y="163.52" width="7.86" height="7.89" fill="#f4c5ad"/><rect x="499.18" y="163.52" width="7.86" height="7.89" fill="#dddcdc"/><rect x="506.54" y="163.52" width="7.86" height="7.89" fill="#c0d4f5"/><rect x="513.9" y="163.52" width="7.86" height="7.89" fill="#a6c4fe"/><rect x="521.26" y="163.52" width="7.86" height="7.89" fill="#94b6ff"/><rect x="528.62" y="163.52" width="7.86" height="7.89" fill="#8caffe"/><rect x="535.98" y="163.52" width="7.86" height="7.89" fill="#8db0fe"/><rect x="543.34" y="163.52" width="7.86" height="7.89" fill="#98b9ff"/><rect x="550.7" y="163.52" width="7.86" height="7.89" fill="#afcafc"/><rect x="558.06" y="163.52" width="7.86" height="7.89" fill="#c7d7f0"/><rect x="565.42" y="163.52" width="7.86" height="7.89" fill="#d9dce1"/><rect x="572.78" y="163.52" width="7.86" height="7.89" fill="#e5d8d1"/><rect x="580.14" y="163.52" width="7.86" height="7.89" fill="#e9d5cb"/><rect x="587.5" y="163.52" width="7.86" height="7.89" fill="#e8d6cc"/><rect x="594.86" y="163.52" width="7.86" height="7.89" fill="#e2dad5"/><rect x="602.22" y="163.52" width="7.86" height="7.89" fill="#d9dce1"/><rect x="609.58" y="163.52" width="7.86" height="7.89" fill="#cedaeb"/><rect x="616.94" y="163.52" width="7.86" height="7.89" fill="#bfd3f6"/><rect x="624.3" y="163.52" width="7.86" height="7.89" fill="#bfd3f6"/><rect x="396.14" y="170.91" width="7.86" height="7.89" fill="#d1dae9"/><rect x="403.5" y="170.91" width="7.86" height="7.89" fill="#d1dae9"/><rect x="410.86" y="170.91" width="7.86" height="7.89" fill="#c5d6f2"/><rect x="418.22" y="170.91" width="7.86" height="7.89" fill="#cad8ef"/><rect x="425.58" y="170.91" width="7.86" height="7.89" fill="#d8dce2"/><rect x="432.94" y="170.91" width="7.86" height="7.89" fill="#eed0c0"/><rect x="440.3" y="170.91" width="7.86" height="7.89" fill="#f7b396"/><rect x="447.66" y="170.91" width="7.86" height="7.89" fill="#f18f71"/><rect x="455.02" y="170.91" width="7.86" height="7.89" fill="#e36c55"/><rect x="462.38" y="170.91" width="7.86" height="7.89" fill="#d75445"/><rect x="469.74" y="170.91" width="7.86" height="7.89" fill="#d55042"/><rect x="477.1" y="170.91" width="7.86" height="7.89" fill="#dc5d4a"/><rect x="484.46" y="170.91" width="7.86" height="7.89" fill="#ea7b60"/><rect x="491.82" y="170.91" width="7.86" height="7.89" fill="#f6a283"/><rect x="499.18" y="170.91" width="7.86" height="7.89" fill="#f4c5ad"/><rect x="506.54" y="170.91" width="7.86" height="7.89" fill="#e0dbd8"/><rect x="513.9" y="170.91" width="7.86" height="7.89" fill="#cdd9ec"/><rect x="521.26" y="170.91" width="7.86" height="7.89" fill="#bfd3f6"/><rect x="528.62" y="170.91" width="7.86" height="7.89" fill="#b7cff9"/><rect x="535.98" y="170.91" width="7.86" height="7.89" fill="#b9d0f9"/><rect x="543.34" y="170.91" width="7.86" height="7.89" fill="#c4d5f3"/><rect x="550.7" y="170.91" width="7.86" height="7.89" fill="#d5dbe5"/><rect x="558.06" y="170.91" width="7.86" height="7.89" fill="#ead5c9"/><rect x="565.42" y="170.91" width="7.86" height="7.89" fill="#f4c6af"/><rect x="572.78" y="170.91" width="7.86" height="7.89" fill="#f7ba9f"/><rect x="580.14" y="170.91" width="7.86" height="7.89" fill="#f7b89c"/><rect x="587.5" y="170.91" width="7.86" height="7.89" fill="#f6bda2"/><rect x="594.86" y="170.91" width="7.86" height="7.89" fill="#f4c5ad"/><rect x="602.22" y="170.91" width="7.86" height="7.89" fill="#efcebd"/><rect x="609.58" y="170.91" width="7.86" height="7.89" fill="#e7d7ce"/><rect x="616.94" y="170.91" width="7.86" height="7.89" fill="#dcdddd"/><rect x="624.3" y="170.91" width="7.86" height="7.89" fill="#dcdddd"/><rect x="396.14" y="178.3" width="7.86" height="7.89" fill="#d1dae9"/><rect x="403.5" y="178.3" width="7.86" height="7.89" fill="#d1dae9"/><rect x="410.86" y="178.3" width="7.86" height="7.89" fill="#c5d6f2"/><rect x="418.22" y="178.3" width="7.86" height="7.89" fill="#cad8ef"/><rect x="425.58" y="178.3" width="7.86" height="7.89" fill="#d8dce2"/><rect x="432.94" y="178.3" width="7.86" height="7.89" fill="#eed0c0"/><rect x="440.3" y="178.3" width="7.86" height="7.89" fill="#f7b396"/><rect x="447.66" y="178.3" width="7.86" height="7.89" fill="#f18f71"/><rect x="455.02" y="178.3" width="7.86" height="7.89" fill="#e36c55"/><rect x="462.38" y="178.3" width="7.86" height="7.89" fill="#d75445"/><rect x="469.74" y="178.3" width="7.86" height="7.89" fill="#d55042"/><rect x="477.1" y="178.3" width="7.86" height="7.89" fill="#dc5d4a"/><rect x="484.46" y="178.3" width="7.86" height="7.89" fill="#ea7b60"/><rect x="491.82" y="178.3" width="7.86" height="7.89" fill="#f6a283"/><rect x="499.18" y="178.3" width="7.86" height="7.89" fill="#f4c5ad"/><rect x="506.54" y="178.3" width="7.86" height="7.89" fill="#e0dbd8"/><rect x="513.9" y="178.3" width="7.86" height="7.89" fill="#cdd9ec"/><rect x="521.26" y="178.3" width="7.86" height="7.89" fill="#bfd3f6"/><rect x="528.62" y="178.3" width="7.86" height="7.89" fill="#b7cff9"/><rect x="535.98" y="178.3" width="7.86" height="7.89" fill="#b9d0f9"/><rect x="543.34" y="178.3" width="7.86" height="7.89" fill="#c4d5f3"/><rect x="550.7" y="178.3" width="7.86" height="7.89" fill="#d5dbe5"/><rect x="558.06" y="178.3" width="7.86" height="7.89" fill="#ead5c9"/><rect x="565.42" y="178.3" width="7.86" height="7.89" fill="#f4c6af"/><rect x="572.78" y="178.3" width="7.86" height="7.89" fill="#f7ba9f"/><rect x="580.14" y="178.3" width="7.86" height="7.89" fill="#f7b89c"/><rect x="587.5" y="178.3" width="7.86" height="7.89" fill="#f6bda2"/><rect x="594.86" y="178.3" width="7.86" height="7.89" fill="#f4c5ad"/><rect x="602.22" y="178.3" width="7.86" height="7.89" fill="#efcebd"/><rect x="609.58" y="178.3" width="7.86" height="7.89" fill="#e7d7ce"/><rect x="616.94" y="178.3" width="7.86" height="7.89" fill="#dcdddd"/><rect x="624.3" y="178.3" width="7.86" height="7.89" fill="#dcdddd"/></g></g>
<rect x="403.5" y="30.5" width="220.8" height="147.8" fill="none" stroke="#262626" stroke-width="0.9"/>
<line x1="407.18" y1="178.3" x2="407.18" y2="181.2" stroke="#262626" stroke-width="1"/>
<text class="t" x="407.18" y="189.17" font-size="8.38" textLength="4.84" lengthAdjust="spacingAndGlyphs" text-anchor="middle">0</text>
<line x1="443.98" y1="178.3" x2="443.98" y2="181.2" stroke="#262626" stroke-width="1"/>
<text class="t" x="443.98" y="189.17" font-size="8.38" textLength="4.84" lengthAdjust="spacingAndGlyphs" text-anchor="middle">5</text>
<line x1="480.78" y1="178.3" x2="480.78" y2="181.2" stroke="#262626" stroke-width="1"/>
<text class="t" x="480.78" y="189.17" font-size="8.38" textLength="9.68" lengthAdjust="spacingAndGlyphs" text-anchor="middle">10</text>
<line x1="517.58" y1="178.3" x2="517.58" y2="181.2" stroke="#262626" stroke-width="1"/>
<text class="t" x="517.58" y="189.17" font-size="8.38" textLength="9.68" lengthAdjust="spacingAndGlyphs" text-anchor="middle">15</text>
<line x1="554.38" y1="178.3" x2="554.38" y2="181.2" stroke="#262626" stroke-width="1"/>
<text class="t" x="554.38" y="189.17" font-size="8.38" textLength="9.68" lengthAdjust="spacingAndGlyphs" text-anchor="middle">20</text>
<line x1="591.18" y1="178.3" x2="591.18" y2="181.2" stroke="#262626" stroke-width="1"/>
<text class="t" x="591.18" y="189.17" font-size="8.38" textLength="9.68" lengthAdjust="spacingAndGlyphs" text-anchor="middle">25</text>
<line x1="400.6" y1="34.2" x2="403.5" y2="34.2" stroke="#262626" stroke-width="1"/>
<text class="t" x="398.12" y="36.99" font-size="8.38" textLength="12.1" lengthAdjust="spacingAndGlyphs" text-anchor="end">0.0</text>
<line x1="400.6" y1="52.67" x2="403.5" y2="52.67" stroke="#262626" stroke-width="1"/>
<text class="t" x="398.12" y="55.46" font-size="8.38" textLength="12.1" lengthAdjust="spacingAndGlyphs" text-anchor="end">2.5</text>
<line x1="400.6" y1="71.15" x2="403.5" y2="71.15" stroke="#262626" stroke-width="1"/>
<text class="t" x="398.12" y="73.94" font-size="8.38" textLength="12.1" lengthAdjust="spacingAndGlyphs" text-anchor="end">5.0</text>
<line x1="400.6" y1="89.62" x2="403.5" y2="89.62" stroke="#262626" stroke-width="1"/>
<text class="t" x="398.12" y="92.41" font-size="8.38" textLength="12.1" lengthAdjust="spacingAndGlyphs" text-anchor="end">7.5</text>
<line x1="400.6" y1="108.09" x2="403.5" y2="108.09" stroke="#262626" stroke-width="1"/>
<text class="t" x="398.12" y="110.89" font-size="8.38" textLength="16.94" lengthAdjust="spacingAndGlyphs" text-anchor="end">10.0</text>
<line x1="400.6" y1="126.57" x2="403.5" y2="126.57" stroke="#262626" stroke-width="1"/>
<text class="t" x="398.12" y="129.36" font-size="8.38" textLength="16.94" lengthAdjust="spacingAndGlyphs" text-anchor="end">12.5</text>
<line x1="400.6" y1="145.05" x2="403.5" y2="145.05" stroke="#262626" stroke-width="1"/>
<text class="t" x="398.12" y="147.84" font-size="8.38" textLength="16.94" lengthAdjust="spacingAndGlyphs" text-anchor="end">15.0</text>
<line x1="400.6" y1="163.52" x2="403.5" y2="163.52" stroke="#262626" stroke-width="1"/>
<text class="t" x="398.12" y="166.31" font-size="8.38" textLength="16.94" lengthAdjust="spacingAndGlyphs" text-anchor="end">17.5</text>
<text class="t" x="513.9" y="200.35" font-size="8.38" textLength="21.65" lengthAdjust="spacingAndGlyphs" text-anchor="middle">Angle</text>
<text class="t" transform="translate(375.4 105) rotate(-90)" font-size="8.38" textLength="27.66" lengthAdjust="spacingAndGlyphs" text-anchor="middle">Mesh Z</text>
<path d="M638.4 12.3 L638.4 10.8 L643.5 1.2 L648.6 10.8 L648.6 12.3 Z" fill="#b40426"/>
<path d="M638.4 196.9 L638.4 198.4 L643.5 206.9 L648.6 198.4 L648.6 196.9 Z" fill="#3b4cc0"/>
<rect x="638.4" y="10.8" width="10.2" height="187.6" fill="url(#cw)"/>
<path d="M638.4 10.8 L643.5 1.2 L648.6 10.8 L648.6 198.4 L643.5 206.9 L638.4 198.4 Z" fill="none" stroke="#262626" stroke-width="0.9" stroke-linejoin="miter"/>
<line x1="648.6" y1="193.14" x2="650.26" y2="193.14" stroke="#262626" stroke-width="0.8"/>
<line x1="648.6" y1="186.63" x2="650.26" y2="186.63" stroke="#262626" stroke-width="0.8"/>
<line x1="648.6" y1="181.31" x2="650.26" y2="181.31" stroke="#262626" stroke-width="0.8"/>
<line x1="648.6" y1="176.81" x2="650.26" y2="176.81" stroke="#262626" stroke-width="0.8"/>
<line x1="648.6" y1="172.91" x2="650.26" y2="172.91" stroke="#262626" stroke-width="0.8"/>
<line x1="648.6" y1="169.47" x2="650.26" y2="169.47" stroke="#262626" stroke-width="0.8"/>
<line x1="648.6" y1="166.4" x2="651.5" y2="166.4" stroke="#262626" stroke-width="1"/>
<text class="t" x="654.71" y="170.02" font-size="8.38" textLength="9.68" lengthAdjust="spacingAndGlyphs">10</text>
<text class="ts" x="664.39" y="167.23" font-size="5.87" textLength="7.85" lengthAdjust="spacingAndGlyphs">−4</text>
<line x1="648.6" y1="146.17" x2="650.26" y2="146.17" stroke="#262626" stroke-width="0.8"/>
<line x1="648.6" y1="134.34" x2="650.26" y2="134.34" stroke="#262626" stroke-width="0.8"/>
<line x1="648.6" y1="125.94" x2="650.26" y2="125.94" stroke="#262626" stroke-width="0.8"/>
<line x1="648.6" y1="119.43" x2="650.26" y2="119.43" stroke="#262626" stroke-width="0.8"/>
<line x1="648.6" y1="114.11" x2="650.26" y2="114.11" stroke="#262626" stroke-width="0.8"/>
<line x1="648.6" y1="109.61" x2="650.26" y2="109.61" stroke="#262626" stroke-width="0.8"/>
<line x1="648.6" y1="105.71" x2="650.26" y2="105.71" stroke="#262626" stroke-width="0.8"/>
<line x1="648.6" y1="102.27" x2="650.26" y2="102.27" stroke="#262626" stroke-width="0.8"/>
<line x1="648.6" y1="99.2" x2="651.5" y2="99.2" stroke="#262626" stroke-width="1"/>
<text class="t" x="654.71" y="102.82" font-size="8.38" textLength="9.68" lengthAdjust="spacingAndGlyphs">10</text>
<text class="ts" x="664.39" y="100.03" font-size="5.87" textLength="7.85" lengthAdjust="spacingAndGlyphs">−3</text>
<line x1="648.6" y1="78.97" x2="650.26" y2="78.97" stroke="#262626" stroke-width="0.8"/>
<line x1="648.6" y1="67.14" x2="650.26" y2="67.14" stroke="#262626" stroke-width="0.8"/>
<line x1="648.6" y1="58.74" x2="650.26" y2="58.74" stroke="#262626" stroke-width="0.8"/>
<line x1="648.6" y1="52.23" x2="650.26" y2="52.23" stroke="#262626" stroke-width="0.8"/>
<line x1="648.6" y1="46.91" x2="650.26" y2="46.91" stroke="#262626" stroke-width="0.8"/>
<line x1="648.6" y1="42.41" x2="650.26" y2="42.41" stroke="#262626" stroke-width="0.8"/>
<line x1="648.6" y1="38.51" x2="650.26" y2="38.51" stroke="#262626" stroke-width="0.8"/>
<line x1="648.6" y1="35.07" x2="650.26" y2="35.07" stroke="#262626" stroke-width="0.8"/>
<line x1="648.6" y1="32" x2="651.5" y2="32" stroke="#262626" stroke-width="1"/>
<text class="t" x="654.71" y="35.62" font-size="8.38" textLength="9.68" lengthAdjust="spacingAndGlyphs">10</text>
<text class="ts" x="664.39" y="32.83" font-size="5.87" textLength="7.85" lengthAdjust="spacingAndGlyphs">−2</text>
<line x1="648.6" y1="11.77" x2="650.26" y2="11.77" stroke="#262626" stroke-width="0.8"/>
<text class="t" transform="translate(681.8 105.3) rotate(-90)" font-size="8.38" textLength="33.11" lengthAdjust="spacingAndGlyphs" text-anchor="middle">Intensity</text>
<text x="527" y="229" text-anchor="middle" font-size="19.8" font-family="'Liberation Serif', serif" fill="#000">(b)</text>
<g clip-path="url(#cp2)"><g filter="url(#bl)" shape-rendering="crispEdges"><rect x="27.27" y="281.87" width="7.73" height="7.73" fill="#cad8ef"/><rect x="34.5" y="281.87" width="7.73" height="7.73" fill="#cad8ef"/><rect x="41.73" y="281.87" width="7.73" height="7.73" fill="#b5cdfa"/><rect x="48.95" y="281.87" width="7.73" height="7.73" fill="#a6c4fe"/><rect x="56.18" y="281.87" width="7.73" height="7.73" fill="#9dbdff"/><rect x="63.41" y="281.87" width="7.73" height="7.73" fill="#94b6ff"/><rect x="70.63" y="281.87" width="7.73" height="7.73" fill="#8caffe"/><rect x="77.86" y="281.87" width="7.73" height="7.73" fill="#84a7fc"/><rect x="85.09" y="281.87" width="7.73" height="7.73" fill="#7a9df8"/><rect x="92.31" y="281.87" width="7.73" height="7.73" fill="#7093f3"/><rect x="99.54" y="281.87" width="7.73" height="7.73" fill="#6687ed"/><rect x="106.77" y="281.87" width="7.73" height="7.73" fill="#5b7ae5"/><rect x="113.99" y="281.87" width="7.73" height="7.73" fill="#536edd"/><rect x="121.22" y="281.87" width="7.73" height="7.73" fill="#4e68d8"/><rect x="128.45" y="281.87" width="7.73" height="7.73" fill="#4a63d3"/><rect x="135.67" y="281.87" width="7.73" height="7.73" fill="#4a63d3"/><rect x="142.9" y="281.87" width="7.73" height="7.73" fill="#4e68d8"/><rect x="150.13" y="281.87" width="7.73" height="7.73" fill="#5572df"/><rect x="157.35" y="281.87" width="7.73" height="7.73" fill="#6180e9"/><rect x="164.58" y="281.87" width="7.73" height="7.73" fill="#6e90f2"/><rect x="171.81" y="281.87" width="7.73" height="7.73" fill="#7da0f9"/><rect x="179.03" y="281.87" width="7.73" height="7.73" fill="#8caffe"/><rect x="186.26" y="281.87" width="7.73" height="7.73" fill="#9bbcff"/><rect x="193.49" y="281.87" width="7.73" height="7.73" fill="#a9c6fd"/><rect x="200.71" y="281.87" width="7.73" height="7.73" fill="#b3cdfb"/><rect x="207.94" y="281.87" width="7.73" height="7.73" fill="#bbd1f8"/><rect x="215.17" y="281.87" width="7.73" height="7.73" fill="#c0d4f5"/><rect x="222.39" y="281.87" width="7.73" height="7.73" fill="#c3d5f4"/><rect x="229.62" y="281.87" width="7.73" height="7.73" fill="#c3d5f4"/><rect x="236.85" y="281.87" width="7.73" height="7.73" fill="#bfd3f6"/><rect x="244.07" y="281.87" width="7.73" height="7.73" fill="#b9d0f9"/><rect x="251.3" y="281.87" width="7.73" height="7.73" fill="#b9d0f9"/><rect x="27.27" y="289.1" width="7.73" height="7.73" fill="#cad8ef"/><rect x="34.5" y="289.1" width="7.73" height="7.73" fill="#cad8ef"/><rect x="41.73" y="289.1" width="7.73" height="7.73" fill="#b5cdfa"/><rect x="48.95" y="289.1" width="7.73" height="7.73" fill="#a6c4fe"/><rect x="56.18" y="289.1" width="7.73" height="7.73" fill="#9dbdff"/><rect x="63.41" y="289.1" width="7.73" height="7.73" fill="#94b6ff"/><rect x="70.63" y="289.1" width="7.73" height="7.73" fill="#8caffe"/><rect x="77.86" y="289.1" width="7.73" height="7.73" fill="#84a7fc"/><rect x="85.09" y="289.1" width="7.73" height="7.73" fill="#7a9df8"/><rect x="92.31" y="289.1" width="7.73" height="7.73" fill="#7093f3"/><rect x="99.54" y="289.1" width="7.73" height="7.73" fill="#6687ed"/><rect x="106.77" y="289.1" width="7.73" height="7.73" fill="#5b7ae5"/><rect x="113.99" y="289.1" width="7.73" height="7.73" fill="#536edd"/><rect x="121.22" y="289.1" width="7.73" height="7.73" fill="#4e68d8"/><rect x="128.45" y="289.1" width="7.73" height="7.73" fill="#4a63d3"/><rect x="135.67" y="289.1" width="7.73" height="7.73" fill="#4a63d3"/><rect x="142.9" y="289.1" width="7.73" height="7.73" fill="#4e68d8"/><rect x="150.13" y="289.1" width="7.73" height="7.73" fill="#5572df"/><rect x="157.35" y="289.1" width="7.73" height="7.73" fill="#6180e9"/><rect x="164.58" y="289.1" width="7.73" height="7.73" fill="#6e90f2"/><rect x="171.81" y="289.1" width="7.73" height="7.73" fill="#7da0f9"/><rect x="179.03" y="289.1" width="7.73" height="7.73" fill="#8caffe"/><rect x="186.26" y="289.1" width="7.73" height="7.73" fill="#9bbcff"/><rect x="193.49" y="289.1" width="7.73" height="7.73" fill="#a9c6fd"/><rect x="200.71" y="289.1" width="7.73" height="7.73" fill="#b3cdfb"/><rect x="207.94" y="289.1" width="7.73" height="7.73" fill="#bbd1f8"/><rect x="215.17" y="289.1" width="7.73" height="7.73" fill="#c0d4f5"/><rect x="222.39" y="289.1" width="7.73" height="7.73" fill="#c3d5f4"/><rect x="229.62" y="289.1" width="7.73" height="7.73" fill="#c3d5f4"/><rect x="236.85" y="289.1" width="7.73" height="7.73" fill="#bfd3f6"/><rect x="244.07" y="289.1" width="7.73" height="7.73" fill="#b9d0f9"/><rect x="251.3" y="289.1" width="7.73" height="7.73" fill="#b9d0f9"/><rect x="27.27" y="296.33" width="7.73" height="7.73" fill="#e4d9d2"/><rect x="34.5" y="296.33" width="7.73" height="7.73" fill="#e4d9d2"/><rect x="41.73" y="296.33" width="7.73" height="7.73" fill="#d2dbe8"/><rect x="48.95" y="296.33" width="7.73" height="7.73" fill="#c5d6f2"/><rect x="56.18" y="296.33" width="7.73" height="7.73" fill="#bbd1f8"/><rect x="63.41" y="296.33" width="7.73" height="7.73" fill="#b3cdfb"/><rect x="70.63" y="296.33" width="7.73" height="7.73" fill="#abc8fd"/><rect x="77.86" y="296.33" width="7.73" height="7.73" fill="#a2c1ff"/><rect x="85.09" y="296.33" width="7.73" height="7.73" fill="#97b8ff"/><rect x="92.31" y="296.33" width="7.73" height="7.73" fill="#8caffe"/><rect x="99.54" y="296.33" width="7.73" height="7.73" fill="#81a4fb"/><rect x="106.77" y="296.33" width="7.73" height="7.73" fill="#7699f6"/><rect x="113.99" y="296.33" width="7.73" height="7.73" fill="#6e90f2"/><rect x="121.22" y="296.33" width="7.73" height="7.73" fill="#688aef"/><rect x="128.45" y="296.33" width="7.73" height="7.73" fill="#6687ed"/><rect x="135.67" y="296.33" width="7.73" height="7.73" fill="#6788ee"/><rect x="142.9" y="296.33" width="7.73" height="7.73" fill="#6b8df0"/><rect x="150.13" y="296.33" width="7.73" height="7.73" fill="#7597f6"/><rect x="157.35" y="296.33" width="7.73" height="7.73" fill="#82a6fb"/><rect x="164.58" y="296.33" width="7.73" height="7.73" fill="#92b4fe"/><rect x="171.81" y="296.33" width="7.73" height="7.73" fill="#a2c1ff"/><rect x="179.03" y="296.33" width="7.73" height="7.73" fill="#b1cbfc"/><rect x="186.26" y="296.33" width="7.73" height="7.73" fill="#c0d4f5"/><rect x="193.49" y="296.33" width="7.73" height="7.73" fill="#ccd9ed"/><rect x="200.71" y="296.33" width="7.73" height="7.73" fill="#d6dce4"/><rect x="207.94" y="296.33" width="7.73" height="7.73" fill="#dedcdb"/><rect x="215.17" y="296.33" width="7.73" height="7.73" fill="#e2dad5"/><rect x="222.39" y="296.33" width="7.73" height="7.73" fill="#e5d8d1"/><rect x="229.62" y="296.33" width="7.73" height="7.73" fill="#e4d9d2"/><rect x="236.85" y="296.33" width="7.73" height="7.73" fill="#e1dad6"/><rect x="244.07" y="296.33" width="7.73" height="7.73" fill="#d8dce2"/><rect x="251.3" y="296.33" width="7.73" height="7.73" fill="#d8dce2"/><rect x="27.27" y="303.56" width="7.73" height="7.73" fill="#f1ccb8"/><rect x="34.5" y="303.56" width="7.73" height="7.73" fill="#f1ccb8"/><rect x="41.73" y="303.56" width="7.73" height="7.73" fill="#e5d8d1"/><rect x="48.95" y="303.56" width="7.73" height="7.73" fill="#dbdcde"/><rect x="56.18" y="303.56" width="7.73" height="7.73" fill="#d3dbe7"/><rect x="63.41" y="303.56" width="7.73" height="7.73" fill="#ccd9ed"/><rect x="70.63" y="303.56" width="7.73" height="7.73" fill="#c5d6f2"/><rect x="77.86" y="303.56" width="7.73" height="7.73" fill="#bbd1f8"/><rect x="85.09" y="303.56" width="7.73" height="7.73" fill="#b1cbfc"/><rect x="92.31" y="303.56" width="7.73" height="7.73" fill="#a5c3fe"/><rect x="99.54" y="303.56" width="7.73" height="7.73" fill="#98b9ff"/><rect x="106.77" y="303.56" width="7.73" height="7.73" fill="#8db0fe"/><rect x="113.99" y="303.56" width="7.73" height="7.73" fill="#84a7fc"/><rect x="121.22" y="303.56" width="7.73" height="7.73" fill="#7ea1fa"/><rect x="128.45" y="303.56" width="7.73" height="7.73" fill="#7b9ff9"/><rect x="135.67" y="303.56" width="7.73" height="7.73" fill="#7da0f9"/><rect x="142.9" y="303.56" width="7.73" height="7.73" fill="#84a7fc"/><rect x="150.13" y="303.56" width="7.73" height="7.73" fill="#8db0fe"/><rect x="157.35" y="303.56" width="7.73" height="7.73" fill="#9dbdff"/><rect x="164.58" y="303.56" width="7.73" height="7.73" fill="#adc9fd"/><rect x="171.81" y="303.56" width="7.73" height="7.73" fill="#bed2f6"/><rect x="179.03" y="303.56" width="7.73" height="7.73" fill="#ccd9ed"/><rect x="186.26" y="303.56" width="7.73" height="7.73" fill="#dadce0"/><rect x="193.49" y="303.56" width="7.73" height="7.73" fill="#e4d9d2"/><rect x="200.71" y="303.56" width="7.73" height="7.73" fill="#ecd3c5"/><rect x="207.94" y="303.56" width="7.73" height="7.73" fill="#f1ccb8"/><rect x="215.17" y="303.56" width="7.73" height="7.73" fill="#f4c6af"/><rect x="222.39" y="303.56" width="7.73" height="7.73" fill="#f5c4ac"/><rect x="229.62" y="303.56" width="7.73" height="7.73" fill="#f4c5ad"/><rect x="236.85" y="303.56" width="7.73" height="7.73" fill="#f2cab5"/><rect x="244.07" y="303.56" width="7.73" height="7.73" fill="#ecd3c5"/><rect x="251.3" y="303.56" width="7.73" height="7.73" fill="#ecd3c5"/><rect x="27.27" y="310.79" width="7.73" height="7.73" fill="#f6bfa6"/><rect x="34.5" y="310.79" width="7.73" height="7.73" fill="#f6bfa6"/><rect x="41.73" y="310.79" width="7.73" height="7.73" fill="#efcebd"/><rect x="48.95" y="310.79" width="7.73" height="7.73" fill="#e8d6cc"/><rect x="56.18" y="310.79" width="7.73" height="7.73" fill="#e2dad5"/><rect x="63.41" y="310.79" width="7.73" height="7.73" fill="#dddcdc"/><rect x="70.63" y="310.79" width="7.73" height="7.73" fill="#d6dce4"/><rect x="77.86" y="310.79" width="7.73" height="7.73" fill="#ccd9ed"/><rect x="85.09" y="310.79" width="7.73" height="7.73" fill="#c1d4f4"/><rect x="92.31" y="310.79" width="7.73" height="7.73" fill="#b6cefa"/><rect x="99.54" y="310.79" width="7.73" height="7.73" fill="#a9c6fd"/><rect x="106.77" y="310.79" width="7.73" height="7.73" fill="#9dbdff"/><rect x="113.99" y="310.79" width="7.73" height="7.73" fill="#93b5fe"/><rect x="121.22" y="310.79" width="7.73" height="7.73" fill="#8caffe"/><rect x="128.45" y="310.79" width="7.73" height="7.73" fill="#89acfd"/><rect x="135.67" y="310.79" width="7.73" height="7.73" fill="#8caffe"/><rect x="142.9" y="310.79" width="7.73" height="7.73" fill="#92b4fe"/><rect x="150.13" y="310.79" width="7.73" height="7.73" fill="#9ebeff"/><rect x="157.35" y="310.79" width="7.73" height="7.73" fill="#adc9fd"/><rect x="164.58" y="310.79" width="7.73" height="7.73" fill="#bed2f6"/><rect x="171.81" y="310.79" width="7.73" height="7.73" fill="#cedaeb"/><rect x="179.03" y="310.79" width="7.73" height="7.73" fill="#dddcdc"/><rect x="186.26" y="310.79" width="7.73" height="7.73" fill="#e8d6cc"/><rect x="193.49" y="310.79" width="7.73" height="7.73" fill="#f0cdbb"/><rect x="200.71" y="310.79" width="7.73" height="7.73" fill="#f5c4ac"/><rect x="207.94" y="310.79" width="7.73" height="7.73" fill="#f7b99e"/><rect x="215.17" y="310.79" width="7.73" height="7.73" fill="#f7b093"/><rect x="222.39" y="310.79" width="7.73" height="7.73" fill="#f7ac8e"/><rect x="229.62" y="310.79" width="7.73" height="7.73" fill="#f7ad90"/><rect x="236.85" y="310.79" width="7.73" height="7.73" fill="#f7b79b"/><rect x="244.07" y="310.79" width="7.73" height="7.73" fill="#f4c6af"/><rect x="251.3" y="310.79" width="7.73" height="7.73" fill="#f4c6af"/><rect x="27.27" y="318.02" width="7.73" height="7.73" fill="#f7b89c"/><rect x="34.5" y="318.02" width="7.73" height="7.73" fill="#f7b89c"/><rect x="41.73" y="318.02" width="7.73" height="7.73" fill="#f2c9b4"/><rect x="48.95" y="318.02" width="7.73" height="7.73" fill="#edd1c2"/><rect x="56.18" y="318.02" width="7.73" height="7.73" fill="#e9d5cb"/><rect x="63.41" y="318.02" width="7.73" height="7.73" fill="#e4d9d2"/><rect x="70.63" y="318.02" width="7.73" height="7.73" fill="#dedcdb"/><rect x="77.86" y="318.02" width="7.73" height="7.73" fill="#d6dce4"/><rect x="85.09" y="318.02" width="7.73" height="7.73" fill="#cbd8ee"/><rect x="92.31" y="318.02" width="7.73" height="7.73" fill="#bfd3f6"/><rect x="99.54" y="318.02" width="7.73" height="7.73" fill="#b1cbfc"/><rect x="106.77" y="318.02" width="7.73" height="7.73" fill="#a5c3fe"/><rect x="113.99" y="318.02" width="7.73" height="7.73" fill="#98b9ff"/><rect x="121.22" y="318.02" width="7.73" height="7.73" fill="#92b4fe"/><rect x="128.45" y="318.02" width="7.73" height="7.73" fill="#8fb1fe"/><rect x="135.67" y="318.02" width="7.73" height="7.73" fill="#90b2fe"/><rect x="142.9" y="318.02" width="7.73" height="7.73" fill="#97b8ff"/><rect x="150.13" y="318.02" width="7.73" height="7.73" fill="#a3c2fe"/><rect x="157.35" y="318.02" width="7.73" height="7.73" fill="#b2ccfb"/><rect x="164.58" y="318.02" width="7.73" height="7.73" fill="#c4d5f3"/><rect x="171.81" y="318.02" width="7.73" height="7.73" fill="#d5dbe5"/><rect x="179.03" y="318.02" width="7.73" height="7.73" fill="#e3d9d3"/><rect x="186.26" y="318.02" width="7.73" height="7.73" fill="#edd1c2"/><rect x="193.49" y="318.02" width="7.73" height="7.73" fill="#f4c6af"/><rect x="200.71" y="318.02" width="7.73" height="7.73" fill="#f7b89c"/><rect x="207.94" y="318.02" width="7.73" height="7.73" fill="#f7aa8c"/><rect x="215.17" y="318.02" width="7.73" height="7.73" fill="#f5a081"/><rect x="222.39" y="318.02" width="7.73" height="7.73" fill="#f49a7b"/><rect x="229.62" y="318.02" width="7.73" height="7.73" fill="#f59d7e"/><rect x="236.85" y="318.02" width="7.73" height="7.73" fill="#f7a98b"/><rect x="244.07" y="318.02" width="7.73" height="7.73" fill="#f6bda2"/><rect x="251.3" y="318.02" width="7.73" height="7.73" fill="#f6bda2"/><rect x="27.27" y="325.25" width="7.73" height="7.73" fill="#f7b99e"/><rect x="34.5" y="325.25" width="7.73" height="7.73" fill="#f7b99e"/><rect x="41.73" y="325.25" width="7.73" height="7.73" fill="#f2c9b4"/><rect x="48.95" y="325.25" width="7.73" height="7.73" fill="#edd1c2"/><rect x="56.18" y="325.25" width="7.73" height="7.73" fill="#e9d5cb"/><rect x="63.41" y="325.25" width="7.73" height="7.73" fill="#e4d9d2"/><rect x="70.63" y="325.25" width="7.73" height="7.73" fill="#dedcdb"/><rect x="77.86" y="325.25" width="7.73" height="7.73" fill="#d6dce4"/><rect x="85.09" y="325.25" width="7.73" height="7.73" fill="#cbd8ee"/><rect x="92.31" y="325.25" width="7.73" height="7.73" fill="#bed2f6"/><rect x="99.54" y="325.25" width="7.73" height="7.73" fill="#afcafc"/><rect x="106.77" y="325.25" width="7.73" height="7.73" fill="#a2c1ff"/><rect x="113.99" y="325.25" width="7.73" height="7.73" fill="#96b7ff"/><rect x="121.22" y="325.25" width="7.73" height="7.73" fill="#8db0fe"/><rect x="128.45" y="325.25" width="7.73" height="7.73" fill="#89acfd"/><rect x="135.67" y="325.25" width="7.73" height="7.73" fill="#8caffe"/><rect x="142.9" y="325.25" width="7.73" height="7.73" fill="#93b5fe"/><rect x="150.13" y="325.25" width="7.73" height="7.73" fill="#9fbfff"/><rect x="157.35" y="325.25" width="7.73" height="7.73" fill="#afcafc"/><rect x="164.58" y="325.25" width="7.73" height="7.73" fill="#c1d4f4"/><rect x="171.81" y="325.25" width="7.73" height="7.73" fill="#d3dbe7"/><rect x="179.03" y="325.25" width="7.73" height="7.73" fill="#e2dad5"/><rect x="186.26" y="325.25" width="7.73" height="7.73" fill="#edd1c2"/><rect x="193.49" y="325.25" width="7.73" height="7.73" fill="#f4c6af"/><rect x="200.71" y="325.25" width="7.73" height="7.73" fill="#f7b89c"/><rect x="207.94" y="325.25" width="7.73" height="7.73" fill="#f7aa8c"/><rect x="215.17" y="325.25" width="7.73" height="7.73" fill="#f59f80"/><rect x="222.39" y="325.25" width="7.73" height="7.73" fill="#f4987a"/><rect x="229.62" y="325.25" width="7.73" height="7.73" fill="#f59c7d"/><rect x="236.85" y="325.25" width="7.73" height="7.73" fill="#f7a889"/><rect x="244.07" y="325.25" width="7.73" height="7.73" fill="#f7bca1"/><rect x="251.3" y="325.25" width="7.73" height="7.73" fill="#f7bca1"/><rect x="27.27" y="332.48" width="7.73" height="7.73" fill="#f5c2aa"/><rect x="34.5" y="332.48" width="7.73" height="7.73" fill="#f5c2aa"/><rect x="41.73" y="332.48" width="7.73" height="7.73" fill="#efcfbf"/><rect x="48.95" y="332.48" width="7.73" height="7.73" fill="#e8d6cc"/><rect x="56.18" y="332.48" width="7.73" height="7.73" fill="#e2dad5"/><rect x="63.41" y="332.48" width="7.73" height="7.73" fill="#dddcdc"/><rect x="70.63" y="332.48" width="7.73" height="7.73" fill="#d5dbe5"/><rect x="77.86" y="332.48" width="7.73" height="7.73" fill="#ccd9ed"/><rect x="85.09" y="332.48" width="7.73" height="7.73" fill="#c1d4f4"/><rect x="92.31" y="332.48" width="7.73" height="7.73" fill="#b3cdfb"/><rect x="99.54" y="332.48" width="7.73" height="7.73" fill="#a5c3fe"/><rect x="106.77" y="332.48" width="7.73" height="7.73" fill="#96b7ff"/><rect x="113.99" y="332.48" width="7.73" height="7.73" fill="#89acfd"/><rect x="121.22" y="332.48" width="7.73" height="7.73" fill="#81a4fb"/><rect x="128.45" y="332.48" width="7.73" height="7.73" fill="#7da0f9"/><rect x="135.67" y="332.48" width="7.73" height="7.73" fill="#80a3fa"/><rect x="142.9" y="332.48" width="7.73" height="7.73" fill="#86a9fc"/><rect x="150.13" y="332.48" width="7.73" height="7.73" fill="#93b5fe"/><rect x="157.35" y="332.48" width="7.73" height="7.73" fill="#a3c2fe"/><rect x="164.58" y="332.48" width="7.73" height="7.73" fill="#b6cefa"/><rect x="171.81" y="332.48" width="7.73" height="7.73" fill="#c9d7f0"/><rect x="179.03" y="332.48" width="7.73" height="7.73" fill="#dadce0"/><rect x="186.26" y="332.48" width="7.73" height="7.73" fill="#e7d7ce"/><rect x="193.49" y="332.48" width="7.73" height="7.73" fill="#f0cdbb"/><rect x="200.71" y="332.48" width="7.73" height="7.73" fill="#f5c2aa"/><rect x="207.94" y="332.48" width="7.73" height="7.73" fill="#f7b79b"/><rect x="215.17" y="332.48" width="7.73" height="7.73" fill="#f7ad90"/><rect x="222.39" y="332.48" width="7.73" height="7.73" fill="#f7a889"/><rect x="229.62" y="332.48" width="7.73" height="7.73" fill="#f7a98b"/><rect x="236.85" y="332.48" width="7.73" height="7.73" fill="#f7b497"/><rect x="244.07" y="332.48" width="7.73" height="7.73" fill="#f4c5ad"/><rect x="251.3" y="332.48" width="7.73" height="7.73" fill="#f4c5ad"/><rect x="27.27" y="339.71" width="7.73" height="7.73" fill="#efcfbf"/><rect x="34.5" y="339.71" width="7.73" height="7.73" fill="#efcfbf"/><rect x="41.73" y="339.71" width="7.73" height="7.73" fill="#e5d8d1"/><rect x="48.95" y="339.71" width="7.73" height="7.73" fill="#dcdddd"/><rect x="56.18" y="339.71" width="7.73" height="7.73" fill="#d5dbe5"/><rect x="63.41" y="339.71" width="7.73" height="7.73" fill="#cedaeb"/><rect x="70.63" y="339.71" width="7.73" height="7.73" fill="#c6d6f1"/><rect x="77.86" y="339.71" width="7.73" height="7.73" fill="#bcd2f7"/><rect x="85.09" y="339.71" width="7.73" height="7.73" fill="#b1cbfc"/><rect x="92.31" y="339.71" width="7.73" height="7.73" fill="#a3c2fe"/><rect x="99.54" y="339.71" width="7.73" height="7.73" fill="#94b6ff"/><rect x="106.77" y="339.71" width="7.73" height="7.73" fill="#85a8fc"/><rect x="113.99" y="339.71" width="7.73" height="7.73" fill="#799cf8"/><rect x="121.22" y="339.71" width="7.73" height="7.73" fill="#7093f3"/><rect x="128.45" y="339.71" width="7.73" height="7.73" fill="#6c8ff1"/><rect x="135.67" y="339.71" width="7.73" height="7.73" fill="#6e90f2"/><rect x="142.9" y="339.71" width="7.73" height="7.73" fill="#7699f6"/><rect x="150.13" y="339.71" width="7.73" height="7.73" fill="#82a6fb"/><rect x="157.35" y="339.71" width="7.73" height="7.73" fill="#93b5fe"/><rect x="164.58" y="339.71" width="7.73" height="7.73" fill="#a6c4fe"/><rect x="171.81" y="339.71" width="7.73" height="7.73" fill="#bad0f8"/><rect x="179.03" y="339.71" width="7.73" height="7.73" fill="#cbd8ee"/><rect x="186.26" y="339.71" width="7.73" height="7.73" fill="#d9dce1"/><rect x="193.49" y="339.71" width="7.73" height="7.73" fill="#e5d8d1"/><rect x="200.71" y="339.71" width="7.73" height="7.73" fill="#edd1c2"/><rect x="207.94" y="339.71" width="7.73" height="7.73" fill="#f2c9b4"/><rect x="215.17" y="339.71" width="7.73" height="7.73" fill="#f5c1a9"/><rect x="222.39" y="339.71" width="7.73" height="7.73" fill="#f6bea4"/><rect x="229.62" y="339.71" width="7.73" height="7.73" fill="#f6bfa6"/><rect x="236.85" y="339.71" width="7.73" height="7.73" fill="#f4c6af"/><rect x="244.07" y="339.71" width="7.73" height="7.73" fill="#edd1c2"/><rect x="251.3" y="339.71" width="7.73" height="7.73" fill="#edd1c2"/><rect x="27.27" y="346.94" width="7.73" height="7.73" fill="#e4d9d2"/><rect x="34.5" y="346.94" width="7.73" height="7.73" fill="#e4d9d2"/><rect x="41.73" y="346.94" width="7.73" height="7.73" fill="#d7dce3"/><rect x="48.95" y="346.94" width="7.73" height="7.73" fill="#cdd9ec"/><rect x="56.18" y="346.94" width="7.73" height="7.73" fill="#c5d6f2"/><rect x="63.41" y="346.94" width="7.73" height="7.73" fill="#bcd2f7"/><rect x="70.63" y="346.94" width="7.73" height="7.73" fill="#b5cdfa"/><rect x="77.86" y="346.94" width="7.73" height="7.73" fill="#aac7fd"/><rect x="85.09" y="346.94" width="7.73" height="7.73" fill="#9ebeff"/><rect x="92.31" y="346.94" width="7.73" height="7.73" fill="#92b4fe"/><rect x="99.54" y="346.94" width="7.73" height="7.73" fill="#82a6fb"/><rect x="106.77" y="346.94" width="7.73" height="7.73" fill="#7597f6"/><rect x="113.99" y="346.94" width="7.73" height="7.73" fill="#688aef"/><rect x="121.22" y="346.94" width="7.73" height="7.73" fill="#6180e9"/><rect x="128.45" y="346.94" width="7.73" height="7.73" fill="#5e7de7"/><rect x="135.67" y="346.94" width="7.73" height="7.73" fill="#5f7fe8"/><rect x="142.9" y="346.94" width="7.73" height="7.73" fill="#6687ed"/><rect x="150.13" y="346.94" width="7.73" height="7.73" fill="#7295f4"/><rect x="157.35" y="346.94" width="7.73" height="7.73" fill="#82a6fb"/><rect x="164.58" y="346.94" width="7.73" height="7.73" fill="#96b7ff"/><rect x="171.81" y="346.94" width="7.73" height="7.73" fill="#a9c6fd"/><rect x="179.03" y="346.94" width="7.73" height="7.73" fill="#bad0f8"/><rect x="186.26" y="346.94" width="7.73" height="7.73" fill="#c7d7f0"/><rect x="193.49" y="346.94" width="7.73" height="7.73" fill="#d4dbe6"/><rect x="200.71" y="346.94" width="7.73" height="7.73" fill="#dedcdb"/><rect x="207.94" y="346.94" width="7.73" height="7.73" fill="#e6d7cf"/><rect x="215.17" y="346.94" width="7.73" height="7.73" fill="#ebd3c6"/><rect x="222.39" y="346.94" width="7.73" height="7.73" fill="#edd1c2"/><rect x="229.62" y="346.94" width="7.73" height="7.73" fill="#edd1c2"/><rect x="236.85" y="346.94" width="7.73" height="7.73" fill="#ead5c9"/><rect x="244.07" y="346.94" width="7.73" height="7.73" fill="#e1dad6"/><rect x="251.3" y="346.94" width="7.73" height="7.73" fill="#e1dad6"/><rect x="27.27" y="354.17" width="7.73" height="7.73" fill="#d8dce2"/><rect x="34.5" y="354.17" width="7.73" height="7.73" fill="#d8dce2"/><rect x="41.73" y="354.17" width="7.73" height="7.73" fill="#cad8ef"/><rect x="48.95" y="354.17" width="7.73" height="7.73" fill="#bfd3f6"/><rect x="56.18" y="354.17" width="7.73" height="7.73" fill="#b6cefa"/><rect x="63.41" y="354.17" width="7.73" height="7.73" fill="#aec9fc"/><rect x="70.63" y="354.17" width="7.73" height="7.73" fill="#a6c4fe"/><rect x="77.86" y="354.17" width="7.73" height="7.73" fill="#9dbdff"/><rect x="85.09" y="354.17" width="7.73" height="7.73" fill="#90b2fe"/><rect x="92.31" y="354.17" width="7.73" height="7.73" fill="#84a7fc"/><rect x="99.54" y="354.17" width="7.73" height="7.73" fill="#7699f6"/><rect x="106.77" y="354.17" width="7.73" height="7.73" fill="#688aef"/><rect x="113.99" y="354.17" width="7.73" height="7.73" fill="#5d7ce6"/><rect x="121.22" y="354.17" width="7.73" height="7.73" fill="#5572df"/><rect x="128.45" y="354.17" width="7.73" height="7.73" fill="#536edd"/><rect x="135.67" y="354.17" width="7.73" height="7.73" fill="#5470de"/><rect x="142.9" y="354.17" width="7.73" height="7.73" fill="#5a78e4"/><rect x="150.13" y="354.17" width="7.73" height="7.73" fill="#6687ed"/><rect x="157.35" y="354.17" width="7.73" height="7.73" fill="#7699f6"/><rect x="164.58" y="354.17" width="7.73" height="7.73" fill="#89acfd"/><rect x="171.81" y="354.17" width="7.73" height="7.73" fill="#9bbcff"/><rect x="179.03" y="354.17" width="7.73" height="7.73" fill="#abc8fd"/><rect x="186.26" y="354.17" width="7.73" height="7.73" fill="#b9d0f9"/><rect x="193.49" y="354.17" width="7.73" height="7.73" fill="#c4d5f3"/><rect x="200.71" y="354.17" width="7.73" height="7.73" fill="#cedaeb"/><rect x="207.94" y="354.17" width="7.73" height="7.73" fill="#d6dce4"/><rect x="215.17" y="354.17" width="7.73" height="7.73" fill="#dcdddd"/><rect x="222.39" y="354.17" width="7.73" height="7.73" fill="#dfdbd9"/><rect x="229.62" y="354.17" width="7.73" height="7.73" fill="#dfdbd9"/><rect x="236.85" y="354.17" width="7.73" height="7.73" fill="#dcdddd"/><rect x="244.07" y="354.17" width="7.73" height="7.73" fill="#d4dbe6"/><rect x="251.3" y="354.17" width="7.73" height="7.73" fill="#d4dbe6"/><rect x="27.27" y="361.4" width="7.73" height="7.73" fill="#d2dbe8"/><rect x="34.5" y="361.4" width="7.73" height="7.73" fill="#d2dbe8"/><rect x="41.73" y="361.4" width="7.73" height="7.73" fill="#c4d5f3"/><rect x="48.95" y="361.4" width="7.73" height="7.73" fill="#b9d0f9"/><rect x="56.18" y="361.4" width="7.73" height="7.73" fill="#b1cbfc"/><rect x="63.41" y="361.4" width="7.73" height="7.73" fill="#a9c6fd"/><rect x="70.63" y="361.4" width="7.73" height="7.73" fill="#a1c0ff"/><rect x="77.86" y="361.4" width="7.73" height="7.73" fill="#97b8ff"/><rect x="85.09" y="361.4" width="7.73" height="7.73" fill="#8caffe"/><rect x="92.31" y="361.4" width="7.73" height="7.73" fill="#80a3fa"/><rect x="99.54" y="361.4" width="7.73" height="7.73" fill="#7093f3"/><rect x="106.77" y="361.4" width="7.73" height="7.73" fill="#6384eb"/><rect x="113.99" y="361.4" width="7.73" height="7.73" fill="#5977e3"/><rect x="121.22" y="361.4" width="7.73" height="7.73" fill="#516ddb"/><rect x="128.45" y="361.4" width="7.73" height="7.73" fill="#4f69d9"/><rect x="135.67" y="361.4" width="7.73" height="7.73" fill="#506bda"/><rect x="142.9" y="361.4" width="7.73" height="7.73" fill="#5673e0"/><rect x="150.13" y="361.4" width="7.73" height="7.73" fill="#6282ea"/><rect x="157.35" y="361.4" width="7.73" height="7.73" fill="#7295f4"/><rect x="164.58" y="361.4" width="7.73" height="7.73" fill="#85a8fc"/><rect x="171.81" y="361.4" width="7.73" height="7.73" fill="#97b8ff"/><rect x="179.03" y="361.4" width="7.73" height="7.73" fill="#a6c4fe"/><rect x="186.26" y="361.4" width="7.73" height="7.73" fill="#b2ccfb"/><rect x="193.49" y="361.4" width="7.73" height="7.73" fill="#bcd2f7"/><rect x="200.71" y="361.4" width="7.73" height="7.73" fill="#c6d6f1"/><rect x="207.94" y="361.4" width="7.73" height="7.73" fill="#cdd9ec"/><rect x="215.17" y="361.4" width="7.73" height="7.73" fill="#d3dbe7"/><rect x="222.39" y="361.4" width="7.73" height="7.73" fill="#d6dce4"/><rect x="229.62" y="361.4" width="7.73" height="7.73" fill="#d6dce4"/><rect x="236.85" y="361.4" width="7.73" height="7.73" fill="#d4dbe6"/><rect x="244.07" y="361.4" width="7.73" height="7.73" fill="#cdd9ec"/><rect x="251.3" y="361.4" width="7.73" height="7.73" fill="#cdd9ec"/><rect x="27.27" y="368.63" width="7.73" height="7.73" fill="#d6dce4"/><rect x="34.5" y="368.63" width="7.73" height="7.73" fill="#d6dce4"/><rect x="41.73" y="368.63" width="7.73" height="7.73" fill="#c7d7f0"/><rect x="48.95" y="368.63" width="7.73" height="7.73" fill="#bed2f6"/><rect x="56.18" y="368.63" width="7.73" height="7.73" fill="#b7cff9"/><rect x="63.41" y="368.63" width="7.73" height="7.73" fill="#b1cbfc"/><rect x="70.63" y="368.63" width="7.73" height="7.73" fill="#a9c6fd"/><rect x="77.86" y="368.63" width="7.73" height="7.73" fill="#9fbfff"/><rect x="85.09" y="368.63" width="7.73" height="7.73" fill="#94b6ff"/><rect x="92.31" y="368.63" width="7.73" height="7.73" fill="#86a9fc"/><rect x="99.54" y="368.63" width="7.73" height="7.73" fill="#779af7"/><rect x="106.77" y="368.63" width="7.73" height="7.73" fill="#6a8bef"/><rect x="113.99" y="368.63" width="7.73" height="7.73" fill="#5e7de7"/><rect x="121.22" y="368.63" width="7.73" height="7.73" fill="#5673e0"/><rect x="128.45" y="368.63" width="7.73" height="7.73" fill="#5470de"/><rect x="135.67" y="368.63" width="7.73" height="7.73" fill="#5572df"/><rect x="142.9" y="368.63" width="7.73" height="7.73" fill="#5b7ae5"/><rect x="150.13" y="368.63" width="7.73" height="7.73" fill="#6788ee"/><rect x="157.35" y="368.63" width="7.73" height="7.73" fill="#799cf8"/><rect x="164.58" y="368.63" width="7.73" height="7.73" fill="#8badfd"/><rect x="171.81" y="368.63" width="7.73" height="7.73" fill="#9dbdff"/><rect x="179.03" y="368.63" width="7.73" height="7.73" fill="#adc9fd"/><rect x="186.26" y="368.63" width="7.73" height="7.73" fill="#bad0f8"/><rect x="193.49" y="368.63" width="7.73" height="7.73" fill="#c4d5f3"/><rect x="200.71" y="368.63" width="7.73" height="7.73" fill="#ccd9ed"/><rect x="207.94" y="368.63" width="7.73" height="7.73" fill="#d4dbe6"/><rect x="215.17" y="368.63" width="7.73" height="7.73" fill="#d8dce2"/><rect x="222.39" y="368.63" width="7.73" height="7.73" fill="#dbdcde"/><rect x="229.62" y="368.63" width="7.73" height="7.73" fill="#dbdcde"/><rect x="236.85" y="368.63" width="7.73" height="7.73" fill="#d8dce2"/><rect x="244.07" y="368.63" width="7.73" height="7.73" fill="#d2dbe8"/><rect x="251.3" y="368.63" width="7.73" height="7.73" fill="#d2dbe8"/><rect x="27.27" y="375.86" width="7.73" height="7.73" fill="#e2dad5"/><rect x="34.5" y="375.86" width="7.73" height="7.73" fill="#e2dad5"/><rect x="41.73" y="375.86" width="7.73" height="7.73" fill="#d6dce4"/><rect x="48.95" y="375.86" width="7.73" height="7.73" fill="#cdd9ec"/><rect x="56.18" y="375.86" width="7.73" height="7.73" fill="#c9d7f0"/><rect x="63.41" y="375.86" width="7.73" height="7.73" fill="#c4d5f3"/><rect x="70.63" y="375.86" width="7.73" height="7.73" fill="#bcd2f7"/><rect x="77.86" y="375.86" width="7.73" height="7.73" fill="#b2ccfb"/><rect x="85.09" y="375.86" width="7.73" height="7.73" fill="#a6c4fe"/><rect x="92.31" y="375.86" width="7.73" height="7.73" fill="#98b9ff"/><rect x="99.54" y="375.86" width="7.73" height="7.73" fill="#88abfd"/><rect x="106.77" y="375.86" width="7.73" height="7.73" fill="#799cf8"/><rect x="113.99" y="375.86" width="7.73" height="7.73" fill="#6c8ff1"/><rect x="121.22" y="375.86" width="7.73" height="7.73" fill="#6384eb"/><rect x="128.45" y="375.86" width="7.73" height="7.73" fill="#6180e9"/><rect x="135.67" y="375.86" width="7.73" height="7.73" fill="#6384eb"/><rect x="142.9" y="375.86" width="7.73" height="7.73" fill="#6a8bef"/><rect x="150.13" y="375.86" width="7.73" height="7.73" fill="#7699f6"/><rect x="157.35" y="375.86" width="7.73" height="7.73" fill="#88abfd"/><rect x="164.58" y="375.86" width="7.73" height="7.73" fill="#9bbcff"/><rect x="171.81" y="375.86" width="7.73" height="7.73" fill="#aec9fc"/><rect x="179.03" y="375.86" width="7.73" height="7.73" fill="#bed2f6"/><rect x="186.26" y="375.86" width="7.73" height="7.73" fill="#cbd8ee"/><rect x="193.49" y="375.86" width="7.73" height="7.73" fill="#d6dce4"/><rect x="200.71" y="375.86" width="7.73" height="7.73" fill="#dedcdb"/><rect x="207.94" y="375.86" width="7.73" height="7.73" fill="#e3d9d3"/><rect x="215.17" y="375.86" width="7.73" height="7.73" fill="#e7d7ce"/><rect x="222.39" y="375.86" width="7.73" height="7.73" fill="#e9d5cb"/><rect x="229.62" y="375.86" width="7.73" height="7.73" fill="#e8d6cc"/><rect x="236.85" y="375.86" width="7.73" height="7.73" fill="#e5d8d1"/><rect x="244.07" y="375.86" width="7.73" height="7.73" fill="#dedcdb"/><rect x="251.3" y="375.86" width="7.73" height="7.73" fill="#dedcdb"/><rect x="27.27" y="383.09" width="7.73" height="7.73" fill="#f0cdbb"/><rect x="34.5" y="383.09" width="7.73" height="7.73" fill="#f0cdbb"/><rect x="41.73" y="383.09" width="7.73" height="7.73" fill="#e7d7ce"/><rect x="48.95" y="383.09" width="7.73" height="7.73" fill="#e1dad6"/><rect x="56.18" y="383.09" width="7.73" height="7.73" fill="#dedcdb"/><rect x="63.41" y="383.09" width="7.73" height="7.73" fill="#dbdcde"/><rect x="70.63" y="383.09" width="7.73" height="7.73" fill="#d5dbe5"/><rect x="77.86" y="383.09" width="7.73" height="7.73" fill="#ccd9ed"/><rect x="85.09" y="383.09" width="7.73" height="7.73" fill="#c0d4f5"/><rect x="92.31" y="383.09" width="7.73" height="7.73" fill="#b2ccfb"/><rect x="99.54" y="383.09" width="7.73" height="7.73" fill="#a1c0ff"/><rect x="106.77" y="383.09" width="7.73" height="7.73" fill="#90b2fe"/><rect x="113.99" y="383.09" width="7.73" height="7.73" fill="#82a6fb"/><rect x="121.22" y="383.09" width="7.73" height="7.73" fill="#799cf8"/><rect x="128.45" y="383.09" width="7.73" height="7.73" fill="#7699f6"/><rect x="135.67" y="383.09" width="7.73" height="7.73" fill="#779af7"/><rect x="142.9" y="383.09" width="7.73" height="7.73" fill="#80a3fa"/><rect x="150.13" y="383.09" width="7.73" height="7.73" fill="#8db0fe"/><rect x="157.35" y="383.09" width="7.73" height="7.73" fill="#9ebeff"/><rect x="164.58" y="383.09" width="7.73" height="7.73" fill="#b2ccfb"/><rect x="171.81" y="383.09" width="7.73" height="7.73" fill="#c5d6f2"/><rect x="179.03" y="383.09" width="7.73" height="7.73" fill="#d5dbe5"/><rect x="186.26" y="383.09" width="7.73" height="7.73" fill="#e1dad6"/><rect x="193.49" y="383.09" width="7.73" height="7.73" fill="#ead5c9"/><rect x="200.71" y="383.09" width="7.73" height="7.73" fill="#efcfbf"/><rect x="207.94" y="383.09" width="7.73" height="7.73" fill="#f2cab5"/><rect x="215.17" y="383.09" width="7.73" height="7.73" fill="#f4c6af"/><rect x="222.39" y="383.09" width="7.73" height="7.73" fill="#f5c4ac"/><rect x="229.62" y="383.09" width="7.73" height="7.73" fill="#f4c6af"/><rect x="236.85" y="383.09" width="7.73" height="7.73" fill="#f2cab5"/><rect x="244.07" y="383.09" width="7.73" height="7.73" fill="#edd1c2"/><rect x="251.3" y="383.09" width="7.73" height="7.73" fill="#edd1c2"/><rect x="27.27" y="390.32" width="7.73" height="7.73" fill="#f7b89c"/><rect x="34.5" y="390.32" width="7.73" height="7.73" fill="#f7b89c"/><rect x="41.73" y="390.32" width="7.73" height="7.73" fill="#f3c7b1"/><rect x="48.95" y="390.32" width="7.73" height="7.73" fill="#f1cdba"/><rect x="56.18" y="390.32" width="7.73" height="7.73" fill="#efcebd"/><rect x="63.41" y="390.32" width="7.73" height="7.73" fill="#eed0c0"/><rect x="70.63" y="390.32" width="7.73" height="7.73" fill="#ebd3c6"/><rect x="77.86" y="390.32" width="7.73" height="7.73" fill="#e5d8d1"/><rect x="85.09" y="390.32" width="7.73" height="7.73" fill="#dbdcde"/><rect x="92.31" y="390.32" width="7.73" height="7.73" fill="#cdd9ec"/><rect x="99.54" y="390.32" width="7.73" height="7.73" fill="#bed2f6"/><rect x="106.77" y="390.32" width="7.73" height="7.73" fill="#adc9fd"/><rect x="113.99" y="390.32" width="7.73" height="7.73" fill="#9ebeff"/><rect x="121.22" y="390.32" width="7.73" height="7.73" fill="#94b6ff"/><rect x="128.45" y="390.32" width="7.73" height="7.73" fill="#90b2fe"/><rect x="135.67" y="390.32" width="7.73" height="7.73" fill="#93b5fe"/><rect x="142.9" y="390.32" width="7.73" height="7.73" fill="#9bbcff"/><rect x="150.13" y="390.32" width="7.73" height="7.73" fill="#a9c6fd"/><rect x="157.35" y="390.32" width="7.73" height="7.73" fill="#bad0f8"/><rect x="164.58" y="390.32" width="7.73" height="7.73" fill="#ccd9ed"/><rect x="171.81" y="390.32" width="7.73" height="7.73" fill="#dddcdc"/><rect x="179.03" y="390.32" width="7.73" height="7.73" fill="#ead5c9"/><rect x="186.26" y="390.32" width="7.73" height="7.73" fill="#f1ccb8"/><rect x="193.49" y="390.32" width="7.73" height="7.73" fill="#f5c1a9"/><rect x="200.71" y="390.32" width="7.73" height="7.73" fill="#f7b79b"/><rect x="207.94" y="390.32" width="7.73" height="7.73" fill="#f7af91"/><rect x="215.17" y="390.32" width="7.73" height="7.73" fill="#f7a98b"/><rect x="222.39" y="390.32" width="7.73" height="7.73" fill="#f7a889"/><rect x="229.62" y="390.32" width="7.73" height="7.73" fill="#f7aa8c"/><rect x="236.85" y="390.32" width="7.73" height="7.73" fill="#f7b194"/><rect x="244.07" y="390.32" width="7.73" height="7.73" fill="#f6bea4"/><rect x="251.3" y="390.32" width="7.73" height="7.73" fill="#f6bea4"/><rect x="27.27" y="397.55" width="7.73" height="7.73" fill="#f49a7b"/><rect x="34.5" y="397.55" width="7.73" height="7.73" fill="#f49a7b"/><rect x="41.73" y="397.55" width="7.73" height="7.73" fill="#f7ad90"/><rect x="48.95" y="397.55" width="7.73" height="7.73" fill="#f7b599"/><rect x="56.18" y="397.55" width="7.73" height="7.73" fill="#f7b89c"/><rect x="63.41" y="397.55" width="7.73" height="7.73" fill="#f7ba9f"/><rect x="70.63" y="397.55" width="7.73" height="7.73" fill="#f6bfa6"/><rect x="77.86" y="397.55" width="7.73" height="7.73" fill="#f3c7b1"/><rect x="85.09" y="397.55" width="7.73" height="7.73" fill="#eed0c0"/><rect x="92.31" y="397.55" width="7.73" height="7.73" fill="#e5d8d1"/><rect x="99.54" y="397.55" width="7.73" height="7.73" fill="#d8dce2"/><rect x="106.77" y="397.55" width="7.73" height="7.73" fill="#c9d7f0"/><rect x="113.99" y="397.55" width="7.73" height="7.73" fill="#bbd1f8"/><rect x="121.22" y="397.55" width="7.73" height="7.73" fill="#b1cbfc"/><rect x="128.45" y="397.55" width="7.73" height="7.73" fill="#adc9fd"/><rect x="135.67" y="397.55" width="7.73" height="7.73" fill="#afcafc"/><rect x="142.9" y="397.55" width="7.73" height="7.73" fill="#b7cff9"/><rect x="150.13" y="397.55" width="7.73" height="7.73" fill="#c5d6f2"/><rect x="157.35" y="397.55" width="7.73" height="7.73" fill="#d5dbe5"/><rect x="164.58" y="397.55" width="7.73" height="7.73" fill="#e3d9d3"/><rect x="171.81" y="397.55" width="7.73" height="7.73" fill="#efcfbf"/><rect x="179.03" y="397.55" width="7.73" height="7.73" fill="#f5c2aa"/><rect x="186.26" y="397.55" width="7.73" height="7.73" fill="#f7b396"/><rect x="193.49" y="397.55" width="7.73" height="7.73" fill="#f6a586"/><rect x="200.71" y="397.55" width="7.73" height="7.73" fill="#f39778"/><rect x="207.94" y="397.55" width="7.73" height="7.73" fill="#f18d6f"/><rect x="215.17" y="397.55" width="7.73" height="7.73" fill="#ee8669"/><rect x="222.39" y="397.55" width="7.73" height="7.73" fill="#ee8468"/><rect x="229.62" y="397.55" width="7.73" height="7.73" fill="#ef886b"/><rect x="236.85" y="397.55" width="7.73" height="7.73" fill="#f39475"/><rect x="244.07" y="397.55" width="7.73" height="7.73" fill="#f6a385"/><rect x="251.3" y="397.55" width="7.73" height="7.73" fill="#f6a385"/><rect x="27.27" y="404.78" width="7.73" height="7.73" fill="#e8765c"/><rect x="34.5" y="404.78" width="7.73" height="7.73" fill="#e8765c"/><rect x="41.73" y="404.78" width="7.73" height="7.73" fill="#f18d6f"/><rect x="48.95" y="404.78" width="7.73" height="7.73" fill="#f4987a"/><rect x="56.18" y="404.78" width="7.73" height="7.73" fill="#f59c7d"/><rect x="63.41" y="404.78" width="7.73" height="7.73" fill="#f59f80"/><rect x="70.63" y="404.78" width="7.73" height="7.73" fill="#f7a688"/><rect x="77.86" y="404.78" width="7.73" height="7.73" fill="#f7b093"/><rect x="85.09" y="404.78" width="7.73" height="7.73" fill="#f6bda2"/><rect x="92.31" y="404.78" width="7.73" height="7.73" fill="#f2cab5"/><rect x="99.54" y="404.78" width="7.73" height="7.73" fill="#ead4c8"/><rect x="106.77" y="404.78" width="7.73" height="7.73" fill="#dfdbd9"/><rect x="113.99" y="404.78" width="7.73" height="7.73" fill="#d3dbe7"/><rect x="121.22" y="404.78" width="7.73" height="7.73" fill="#cad8ef"/><rect x="128.45" y="404.78" width="7.73" height="7.73" fill="#c7d7f0"/><rect x="135.67" y="404.78" width="7.73" height="7.73" fill="#cad8ef"/><rect x="142.9" y="404.78" width="7.73" height="7.73" fill="#d2dbe8"/><rect x="150.13" y="404.78" width="7.73" height="7.73" fill="#dddcdc"/><rect x="157.35" y="404.78" width="7.73" height="7.73" fill="#e8d6cc"/><rect x="164.58" y="404.78" width="7.73" height="7.73" fill="#f2cbb7"/><rect x="171.81" y="404.78" width="7.73" height="7.73" fill="#f7bca1"/><rect x="179.03" y="404.78" width="7.73" height="7.73" fill="#f7aa8c"/><rect x="186.26" y="404.78" width="7.73" height="7.73" fill="#f39778"/><rect x="193.49" y="404.78" width="7.73" height="7.73" fill="#ee8669"/><rect x="200.71" y="404.78" width="7.73" height="7.73" fill="#e8765c"/><rect x="207.94" y="404.78" width="7.73" height="7.73" fill="#e36b54"/><rect x="215.17" y="404.78" width="7.73" height="7.73" fill="#df634e"/><rect x="222.39" y="404.78" width="7.73" height="7.73" fill="#df634e"/><rect x="229.62" y="404.78" width="7.73" height="7.73" fill="#e16751"/><rect x="236.85" y="404.78" width="7.73" height="7.73" fill="#e67259"/><rect x="244.07" y="404.78" width="7.73" height="7.73" fill="#ee8468"/><rect x="251.3" y="404.78" width="7.73" height="7.73" fill="#ee8468"/><rect x="27.27" y="412.01" width="7.73" height="7.73" fill="#d65244"/><rect x="34.5" y="412.01" width="7.73" height="7.73" fill="#d65244"/><rect x="41.73" y="412.01" width="7.73" height="7.73" fill="#e46e56"/><rect x="48.95" y="412.01" width="7.73" height="7.73" fill="#e97a5f"/><rect x="56.18" y="412.01" width="7.73" height="7.73" fill="#ec7f63"/><rect x="63.41" y="412.01" width="7.73" height="7.73" fill="#ee8468"/><rect x="70.63" y="412.01" width="7.73" height="7.73" fill="#f18d6f"/><rect x="77.86" y="412.01" width="7.73" height="7.73" fill="#f59c7d"/><rect x="85.09" y="412.01" width="7.73" height="7.73" fill="#f7aa8c"/><rect x="92.31" y="412.01" width="7.73" height="7.73" fill="#f7ba9f"/><rect x="99.54" y="412.01" width="7.73" height="7.73" fill="#f3c8b2"/><rect x="106.77" y="412.01" width="7.73" height="7.73" fill="#ecd3c5"/><rect x="113.99" y="412.01" width="7.73" height="7.73" fill="#e3d9d3"/><rect x="121.22" y="412.01" width="7.73" height="7.73" fill="#dcdddd"/><rect x="128.45" y="412.01" width="7.73" height="7.73" fill="#d9dce1"/><rect x="135.67" y="412.01" width="7.73" height="7.73" fill="#dcdddd"/><rect x="142.9" y="412.01" width="7.73" height="7.73" fill="#e2dad5"/><rect x="150.13" y="412.01" width="7.73" height="7.73" fill="#ead4c8"/><rect x="157.35" y="412.01" width="7.73" height="7.73" fill="#f2cab5"/><rect x="164.58" y="412.01" width="7.73" height="7.73" fill="#f7bca1"/><rect x="171.81" y="412.01" width="7.73" height="7.73" fill="#f7a98b"/><rect x="179.03" y="412.01" width="7.73" height="7.73" fill="#f39475"/><rect x="186.26" y="412.01" width="7.73" height="7.73" fill="#ec7f63"/><rect x="193.49" y="412.01" width="7.73" height="7.73" fill="#e36b54"/><rect x="200.71" y="412.01" width="7.73" height="7.73" fill="#d95847"/><rect x="207.94" y="412.01" width="7.73" height="7.73" fill="#d44e41"/><rect x="215.17" y="412.01" width="7.73" height="7.73" fill="#cf453c"/><rect x="222.39" y="412.01" width="7.73" height="7.73" fill="#cf453c"/><rect x="229.62" y="412.01" width="7.73" height="7.73" fill="#d1493f"/><rect x="236.85" y="412.01" width="7.73" height="7.73" fill="#d85646"/><rect x="244.07" y="412.01" width="7.73" height="7.73" fill="#e16751"/><rect x="251.3" y="412.01" width="7.73" height="7.73" fill="#e16751"/><rect x="27.27" y="419.24" width="7.73" height="7.73" fill="#ca3b37"/><rect x="34.5" y="419.24" width="7.73" height="7.73" fill="#ca3b37"/><rect x="41.73" y="419.24" width="7.73" height="7.73" fill="#d85646"/><rect x="48.95" y="419.24" width="7.73" height="7.73" fill="#e0654f"/><rect x="56.18" y="419.24" width="7.73" height="7.73" fill="#e36b54"/><rect x="63.41" y="419.24" width="7.73" height="7.73" fill="#e67259"/><rect x="70.63" y="419.24" width="7.73" height="7.73" fill="#eb7d62"/><rect x="77.86" y="419.24" width="7.73" height="7.73" fill="#f18d6f"/><rect x="85.09" y="419.24" width="7.73" height="7.73" fill="#f5a081"/><rect x="92.31" y="419.24" width="7.73" height="7.73" fill="#f7b194"/><rect x="99.54" y="419.24" width="7.73" height="7.73" fill="#f5c0a7"/><rect x="106.77" y="419.24" width="7.73" height="7.73" fill="#f1cdba"/><rect x="113.99" y="419.24" width="7.73" height="7.73" fill="#ead5c9"/><rect x="121.22" y="419.24" width="7.73" height="7.73" fill="#e4d9d2"/><rect x="128.45" y="419.24" width="7.73" height="7.73" fill="#e2dad5"/><rect x="135.67" y="419.24" width="7.73" height="7.73" fill="#e4d9d2"/><rect x="142.9" y="419.24" width="7.73" height="7.73" fill="#e9d5cb"/><rect x="150.13" y="419.24" width="7.73" height="7.73" fill="#f0cdbb"/><rect x="157.35" y="419.24" width="7.73" height="7.73" fill="#f5c2aa"/><rect x="164.58" y="419.24" width="7.73" height="7.73" fill="#f7b194"/><rect x="171.81" y="419.24" width="7.73" height="7.73" fill="#f59d7e"/><rect x="179.03" y="419.24" width="7.73" height="7.73" fill="#ee8669"/><rect x="186.26" y="419.24" width="7.73" height="7.73" fill="#e46e56"/><rect x="193.49" y="419.24" width="7.73" height="7.73" fill="#d95847"/><rect x="200.71" y="419.24" width="7.73" height="7.73" fill="#cf453c"/><rect x="207.94" y="419.24" width="7.73" height="7.73" fill="#c73635"/><rect x="215.17" y="419.24" width="7.73" height="7.73" fill="#c32e31"/><rect x="222.39" y="419.24" width="7.73" height="7.73" fill="#c12b30"/><rect x="229.62" y="419.24" width="7.73" height="7.73" fill="#c53334"/><rect x="236.85" y="419.24" width="7.73" height="7.73" fill="#cc403a"/><rect x="244.07" y="419.24" width="7.73" height="7.73" fill="#d65244"/><rect x="251.3" y="419.24" width="7.73" height="7.73" fill="#d65244"/><rect x="27.27" y="426.47" width="7.73" height="7.73" fill="#c53334"/><rect x="34.5" y="426.47" width="7.73" height="7.73" fill="#c53334"/><rect x="41.73" y="426.47" width="7.73" height="7.73" fill="#d44e41"/><rect x="48.95" y="426.47" width="7.73" height="7.73" fill="#da5a49"/><rect x="56.18" y="426.47" width="7.73" height="7.73" fill="#df634e"/><rect x="63.41" y="426.47" width="7.73" height="7.73" fill="#e36b54"/><rect x="70.63" y="426.47" width="7.73" height="7.73" fill="#e97a5f"/><rect x="77.86" y="426.47" width="7.73" height="7.73" fill="#f18d6f"/><rect x="85.09" y="426.47" width="7.73" height="7.73" fill="#f5a081"/><rect x="92.31" y="426.47" width="7.73" height="7.73" fill="#f7b396"/><rect x="99.54" y="426.47" width="7.73" height="7.73" fill="#f5c2aa"/><rect x="106.77" y="426.47" width="7.73" height="7.73" fill="#efcebd"/><rect x="113.99" y="426.47" width="7.73" height="7.73" fill="#e8d6cc"/><rect x="121.22" y="426.47" width="7.73" height="7.73" fill="#e2dad5"/><rect x="128.45" y="426.47" width="7.73" height="7.73" fill="#e0dbd8"/><rect x="135.67" y="426.47" width="7.73" height="7.73" fill="#e2dad5"/><rect x="142.9" y="426.47" width="7.73" height="7.73" fill="#e8d6cc"/><rect x="150.13" y="426.47" width="7.73" height="7.73" fill="#efcfbf"/><rect x="157.35" y="426.47" width="7.73" height="7.73" fill="#f4c5ad"/><rect x="164.58" y="426.47" width="7.73" height="7.73" fill="#f7b599"/><rect x="171.81" y="426.47" width="7.73" height="7.73" fill="#f5a081"/><rect x="179.03" y="426.47" width="7.73" height="7.73" fill="#ef886b"/><rect x="186.26" y="426.47" width="7.73" height="7.73" fill="#e46e56"/><rect x="193.49" y="426.47" width="7.73" height="7.73" fill="#d75445"/><rect x="200.71" y="426.47" width="7.73" height="7.73" fill="#cb3e38"/><rect x="207.94" y="426.47" width="7.73" height="7.73" fill="#c12b30"/><rect x="215.17" y="426.47" width="7.73" height="7.73" fill="#ba162b"/><rect x="222.39" y="426.47" width="7.73" height="7.73" fill="#b8122a"/><rect x="229.62" y="426.47" width="7.73" height="7.73" fill="#bd1f2d"/><rect x="236.85" y="426.47" width="7.73" height="7.73" fill="#c43032"/><rect x="244.07" y="426.47" width="7.73" height="7.73" fill="#d0473d"/><rect x="251.3" y="426.47" width="7.73" height="7.73" fill="#d0473d"/><rect x="27.27" y="433.7" width="7.73" height="7.73" fill="#c53334"/><rect x="34.5" y="433.7" width="7.73" height="7.73" fill="#c53334"/><rect x="41.73" y="433.7" width="7.73" height="7.73" fill="#d44e41"/><rect x="48.95" y="433.7" width="7.73" height="7.73" fill="#da5a49"/><rect x="56.18" y="433.7" width="7.73" height="7.73" fill="#df634e"/><rect x="63.41" y="433.7" width="7.73" height="7.73" fill="#e36b54"/><rect x="70.63" y="433.7" width="7.73" height="7.73" fill="#e97a5f"/><rect x="77.86" y="433.7" width="7.73" height="7.73" fill="#f18d6f"/><rect x="85.09" y="433.7" width="7.73" height="7.73" fill="#f5a081"/><rect x="92.31" y="433.7" width="7.73" height="7.73" fill="#f7b396"/><rect x="99.54" y="433.7" width="7.73" height="7.73" fill="#f5c2aa"/><rect x="106.77" y="433.7" width="7.73" height="7.73" fill="#efcebd"/><rect x="113.99" y="433.7" width="7.73" height="7.73" fill="#e8d6cc"/><rect x="121.22" y="433.7" width="7.73" height="7.73" fill="#e2dad5"/><rect x="128.45" y="433.7" width="7.73" height="7.73" fill="#e0dbd8"/><rect x="135.67" y="433.7" width="7.73" height="7.73" fill="#e2dad5"/><rect x="142.9" y="433.7" width="7.73" height="7.73" fill="#e8d6cc"/><rect x="150.13" y="433.7" width="7.73" height="7.73" fill="#efcfbf"/><rect x="157.35" y="433.7" width="7.73" height="7.73" fill="#f4c5ad"/><rect x="164.58" y="433.7" width="7.73" height="7.73" fill="#f7b599"/><rect x="171.81" y="433.7" width="7.73" height="7.73" fill="#f5a081"/><rect x="179.03" y="433.7" width="7.73" height="7.73" fill="#ef886b"/><rect x="186.26" y="433.7" width="7.73" height="7.73" fill="#e46e56"/><rect x="193.49" y="433.7" width="7.73" height="7.73" fill="#d75445"/><rect x="200.71" y="433.7" width="7.73" height="7.73" fill="#cb3e38"/><rect x="207.94" y="433.7" width="7.73" height="7.73" fill="#c12b30"/><rect x="215.17" y="433.7" width="7.73" height="7.73" fill="#ba162b"/><rect x="222.39" y="433.7" width="7.73" height="7.73" fill="#b8122a"/><rect x="229.62" y="433.7" width="7.73" height="7.73" fill="#bd1f2d"/><rect x="236.85" y="433.7" width="7.73" height="7.73" fill="#c43032"/><rect x="244.07" y="433.7" width="7.73" height="7.73" fill="#d0473d"/><rect x="251.3" y="433.7" width="7.73" height="7.73" fill="#d0473d"/></g></g>
<rect x="34.5" y="289.1" width="216.8" height="144.6" fill="none" stroke="#262626" stroke-width="0.9"/>
<line x1="38.11" y1="433.7" x2="38.11" y2="436.5" stroke="#262626" stroke-width="1"/>
<text class="t" x="38.11" y="444.2" font-size="8.1" textLength="4.68" lengthAdjust="spacingAndGlyphs" text-anchor="middle">0</text>
<line x1="74.25" y1="433.7" x2="74.25" y2="436.5" stroke="#262626" stroke-width="1"/>
<text class="t" x="74.25" y="444.2" font-size="8.1" textLength="4.68" lengthAdjust="spacingAndGlyphs" text-anchor="middle">5</text>
<line x1="110.38" y1="433.7" x2="110.38" y2="436.5" stroke="#262626" stroke-width="1"/>
<text class="t" x="110.38" y="444.2" font-size="8.1" textLength="9.35" lengthAdjust="spacingAndGlyphs" text-anchor="middle">10</text>
<line x1="146.51" y1="433.7" x2="146.51" y2="436.5" stroke="#262626" stroke-width="1"/>
<text class="t" x="146.51" y="444.2" font-size="8.1" textLength="9.35" lengthAdjust="spacingAndGlyphs" text-anchor="middle">15</text>
<line x1="182.65" y1="433.7" x2="182.65" y2="436.5" stroke="#262626" stroke-width="1"/>
<text class="t" x="182.65" y="444.2" font-size="8.1" textLength="9.35" lengthAdjust="spacingAndGlyphs" text-anchor="middle">20</text>
<line x1="218.78" y1="433.7" x2="218.78" y2="436.5" stroke="#262626" stroke-width="1"/>
<text class="t" x="218.78" y="444.2" font-size="8.1" textLength="9.35" lengthAdjust="spacingAndGlyphs" text-anchor="middle">25</text>
<line x1="31.7" y1="292.72" x2="34.5" y2="292.72" stroke="#262626" stroke-width="1"/>
<text class="t" x="29.3" y="295.42" font-size="8.1" textLength="11.69" lengthAdjust="spacingAndGlyphs" text-anchor="end">0.0</text>
<line x1="31.7" y1="310.79" x2="34.5" y2="310.79" stroke="#262626" stroke-width="1"/>
<text class="t" x="29.3" y="313.49" font-size="8.1" textLength="11.69" lengthAdjust="spacingAndGlyphs" text-anchor="end">2.5</text>
<line x1="31.7" y1="328.87" x2="34.5" y2="328.87" stroke="#262626" stroke-width="1"/>
<text class="t" x="29.3" y="331.56" font-size="8.1" textLength="11.69" lengthAdjust="spacingAndGlyphs" text-anchor="end">5.0</text>
<line x1="31.7" y1="346.94" x2="34.5" y2="346.94" stroke="#262626" stroke-width="1"/>
<text class="t" x="29.3" y="349.64" font-size="8.1" textLength="11.69" lengthAdjust="spacingAndGlyphs" text-anchor="end">7.5</text>
<line x1="31.7" y1="365.01" x2="34.5" y2="365.01" stroke="#262626" stroke-width="1"/>
<text class="t" x="29.3" y="367.71" font-size="8.1" textLength="16.37" lengthAdjust="spacingAndGlyphs" text-anchor="end">10.0</text>
<line x1="31.7" y1="383.09" x2="34.5" y2="383.09" stroke="#262626" stroke-width="1"/>
<text class="t" x="29.3" y="385.79" font-size="8.1" textLength="16.37" lengthAdjust="spacingAndGlyphs" text-anchor="end">12.5</text>
<line x1="31.7" y1="401.17" x2="34.5" y2="401.17" stroke="#262626" stroke-width="1"/>
<text class="t" x="29.3" y="403.87" font-size="8.1" textLength="16.37" lengthAdjust="spacingAndGlyphs" text-anchor="end">15.0</text>
<line x1="31.7" y1="419.24" x2="34.5" y2="419.24" stroke="#262626" stroke-width="1"/>
<text class="t" x="29.3" y="421.94" font-size="8.1" textLength="16.37" lengthAdjust="spacingAndGlyphs" text-anchor="end">17.5</text>
<text class="t" x="142.9" y="455" font-size="8.1" textLength="20.92" lengthAdjust="spacingAndGlyphs" text-anchor="middle">Angle</text>
<text class="t" transform="translate(7.3 362) rotate(-90)" font-size="8.1" textLength="26.72" lengthAdjust="spacingAndGlyphs" text-anchor="middle">Mesh Z</text>
<path d="M264.3 271.1 L264.3 269.6 L269.5 260.5 L274.7 269.6 L274.7 271.1 Z" fill="#b40426"/>
<path d="M264.3 451.5 L264.3 453 L269.5 461.6 L274.7 453 L274.7 451.5 Z" fill="#3b4cc0"/>
<rect x="264.3" y="269.6" width="10.4" height="183.4" fill="url(#cw)"/>
<path d="M264.3 269.6 L269.5 260.5 L274.7 269.6 L274.7 453 L269.5 461.6 L264.3 453 Z" fill="none" stroke="#262626" stroke-width="0.9" stroke-linejoin="miter"/>
<line x1="274.7" y1="445.46" x2="276.3" y2="445.46" stroke="#262626" stroke-width="0.8"/>
<line x1="274.7" y1="429.84" x2="276.3" y2="429.84" stroke="#262626" stroke-width="0.8"/>
<line x1="274.7" y1="417.73" x2="276.3" y2="417.73" stroke="#262626" stroke-width="0.8"/>
<line x1="274.7" y1="407.83" x2="276.3" y2="407.83" stroke="#262626" stroke-width="0.8"/>
<line x1="274.7" y1="399.46" x2="276.3" y2="399.46" stroke="#262626" stroke-width="0.8"/>
<line x1="274.7" y1="392.21" x2="276.3" y2="392.21" stroke="#262626" stroke-width="0.8"/>
<line x1="274.7" y1="385.82" x2="276.3" y2="385.82" stroke="#262626" stroke-width="0.8"/>
<line x1="274.7" y1="380.1" x2="277.5" y2="380.1" stroke="#262626" stroke-width="1"/>
<text class="t" x="280.6" y="383.6" font-size="8.1" textLength="9.35" lengthAdjust="spacingAndGlyphs">10</text>
<text class="ts" x="289.95" y="380.9" font-size="5.67" textLength="7.58" lengthAdjust="spacingAndGlyphs">−3</text>
<line x1="274.7" y1="342.47" x2="276.3" y2="342.47" stroke="#262626" stroke-width="0.8"/>
<line x1="274.7" y1="320.46" x2="276.3" y2="320.46" stroke="#262626" stroke-width="0.8"/>
<line x1="274.7" y1="304.84" x2="276.3" y2="304.84" stroke="#262626" stroke-width="0.8"/>
<line x1="274.7" y1="292.73" x2="276.3" y2="292.73" stroke="#262626" stroke-width="0.8"/>
<line x1="274.7" y1="282.83" x2="276.3" y2="282.83" stroke="#262626" stroke-width="0.8"/>
<line x1="274.7" y1="274.46" x2="276.3" y2="274.46" stroke="#262626" stroke-width="0.8"/>
<text class="t" transform="translate(307.4 362.8) rotate(-90)" font-size="8.1" textLength="31.99" lengthAdjust="spacingAndGlyphs" text-anchor="middle">Intensity</text>
<text x="148.9" y="493" text-anchor="middle" font-size="19.8" font-family="'Liberation Serif', serif" fill="#000">(c)</text>
<g clip-path="url(#cp3)"><g filter="url(#bl)" shape-rendering="crispEdges"><rect x="396.14" y="283.01" width="7.86" height="7.89" fill="#5e7de7"/><rect x="403.5" y="283.01" width="7.86" height="7.89" fill="#5e7de7"/><rect x="410.86" y="283.01" width="7.86" height="7.89" fill="#5673e0"/><rect x="418.22" y="283.01" width="7.86" height="7.89" fill="#5470de"/><rect x="425.58" y="283.01" width="7.86" height="7.89" fill="#5977e3"/><rect x="432.94" y="283.01" width="7.86" height="7.89" fill="#6384eb"/><rect x="440.3" y="283.01" width="7.86" height="7.89" fill="#7597f6"/><rect x="447.66" y="283.01" width="7.86" height="7.89" fill="#92b4fe"/><rect x="455.02" y="283.01" width="7.86" height="7.89" fill="#b5cdfa"/><rect x="462.38" y="283.01" width="7.86" height="7.89" fill="#dbdcde"/><rect x="469.74" y="283.01" width="7.86" height="7.89" fill="#f3c7b1"/><rect x="477.1" y="283.01" width="7.86" height="7.89" fill="#f6a586"/><rect x="484.46" y="283.01" width="7.86" height="7.89" fill="#ec8165"/><rect x="491.82" y="283.01" width="7.86" height="7.89" fill="#e0654f"/><rect x="499.18" y="283.01" width="7.86" height="7.89" fill="#d75445"/><rect x="506.54" y="283.01" width="7.86" height="7.89" fill="#d65244"/><rect x="513.9" y="283.01" width="7.86" height="7.89" fill="#de614d"/><rect x="521.26" y="283.01" width="7.86" height="7.89" fill="#ea7b60"/><rect x="528.62" y="283.01" width="7.86" height="7.89" fill="#f59d7e"/><rect x="535.98" y="283.01" width="7.86" height="7.89" fill="#f5c0a7"/><rect x="543.34" y="283.01" width="7.86" height="7.89" fill="#e2dad5"/><rect x="550.7" y="283.01" width="7.86" height="7.89" fill="#bed2f6"/><rect x="558.06" y="283.01" width="7.86" height="7.89" fill="#98b9ff"/><rect x="565.42" y="283.01" width="7.86" height="7.89" fill="#7a9df8"/><rect x="572.78" y="283.01" width="7.86" height="7.89" fill="#6687ed"/><rect x="580.14" y="283.01" width="7.86" height="7.89" fill="#5a78e4"/><rect x="587.5" y="283.01" width="7.86" height="7.89" fill="#5572df"/><rect x="594.86" y="283.01" width="7.86" height="7.89" fill="#5572df"/><rect x="602.22" y="283.01" width="7.86" height="7.89" fill="#5d7ce6"/><rect x="609.58" y="283.01" width="7.86" height="7.89" fill="#6a8bef"/><rect x="616.94" y="283.01" width="7.86" height="7.89" fill="#81a4fb"/><rect x="624.3" y="283.01" width="7.86" height="7.89" fill="#81a4fb"/><rect x="396.14" y="290.4" width="7.86" height="7.89" fill="#5e7de7"/><rect x="403.5" y="290.4" width="7.86" height="7.89" fill="#5e7de7"/><rect x="410.86" y="290.4" width="7.86" height="7.89" fill="#5673e0"/><rect x="418.22" y="290.4" width="7.86" height="7.89" fill="#5470de"/><rect x="425.58" y="290.4" width="7.86" height="7.89" fill="#5977e3"/><rect x="432.94" y="290.4" width="7.86" height="7.89" fill="#6384eb"/><rect x="440.3" y="290.4" width="7.86" height="7.89" fill="#7597f6"/><rect x="447.66" y="290.4" width="7.86" height="7.89" fill="#92b4fe"/><rect x="455.02" y="290.4" width="7.86" height="7.89" fill="#b5cdfa"/><rect x="462.38" y="290.4" width="7.86" height="7.89" fill="#dbdcde"/><rect x="469.74" y="290.4" width="7.86" height="7.89" fill="#f3c7b1"/><rect x="477.1" y="290.4" width="7.86" height="7.89" fill="#f6a586"/><rect x="484.46" y="290.4" width="7.86" height="7.89" fill="#ec8165"/><rect x="491.82" y="290.4" width="7.86" height="7.89" fill="#e0654f"/><rect x="499.18" y="290.4" width="7.86" height="7.89" fill="#d75445"/><rect x="506.54" y="290.4" width="7.86" height="7.89" fill="#d65244"/><rect x="513.9" y="290.4" width="7.86" height="7.89" fill="#de614d"/><rect x="521.26" y="290.4" width="7.86" height="7.89" fill="#ea7b60"/><rect x="528.62" y="290.4" width="7.86" height="7.89" fill="#f59d7e"/><rect x="535.98" y="290.4" width="7.86" height="7.89" fill="#f5c0a7"/><rect x="543.34" y="290.4" width="7.86" height="7.89" fill="#e2dad5"/><rect x="550.7" y="290.4" width="7.86" height="7.89" fill="#bed2f6"/><rect x="558.06" y="290.4" width="7.86" height="7.89" fill="#98b9ff"/><rect x="565.42" y="290.4" width="7.86" height="7.89" fill="#7a9df8"/><rect x="572.78" y="290.4" width="7.86" height="7.89" fill="#6687ed"/><rect x="580.14" y="290.4" width="7.86" height="7.89" fill="#5a78e4"/><rect x="587.5" y="290.4" width="7.86" height="7.89" fill="#5572df"/><rect x="594.86" y="290.4" width="7.86" height="7.89" fill="#5572df"/><rect x="602.22" y="290.4" width="7.86" height="7.89" fill="#5d7ce6"/><rect x="609.58" y="290.4" width="7.86" height="7.89" fill="#6a8bef"/><rect x="616.94" y="290.4" width="7.86" height="7.89" fill="#81a4fb"/><rect x="624.3" y="290.4" width="7.86" height="7.89" fill="#81a4fb"/><rect x="396.14" y="297.79" width="7.86" height="7.89" fill="#6485ec"/><rect x="403.5" y="297.79" width="7.86" height="7.89" fill="#6485ec"/><rect x="410.86" y="297.79" width="7.86" height="7.89" fill="#5b7ae5"/><rect x="418.22" y="297.79" width="7.86" height="7.89" fill="#5a78e4"/><rect x="425.58" y="297.79" width="7.86" height="7.89" fill="#5e7de7"/><rect x="432.94" y="297.79" width="7.86" height="7.89" fill="#688aef"/><rect x="440.3" y="297.79" width="7.86" height="7.89" fill="#7b9ff9"/><rect x="447.66" y="297.79" width="7.86" height="7.89" fill="#97b8ff"/><rect x="455.02" y="297.79" width="7.86" height="7.89" fill="#bcd2f7"/><rect x="462.38" y="297.79" width="7.86" height="7.89" fill="#e1dad6"/><rect x="469.74" y="297.79" width="7.86" height="7.89" fill="#f5c0a7"/><rect x="477.1" y="297.79" width="7.86" height="7.89" fill="#f59c7d"/><rect x="484.46" y="297.79" width="7.86" height="7.89" fill="#e8765c"/><rect x="491.82" y="297.79" width="7.86" height="7.89" fill="#d95847"/><rect x="499.18" y="297.79" width="7.86" height="7.89" fill="#cf453c"/><rect x="506.54" y="297.79" width="7.86" height="7.89" fill="#cf453c"/><rect x="513.9" y="297.79" width="7.86" height="7.89" fill="#d65244"/><rect x="521.26" y="297.79" width="7.86" height="7.89" fill="#e46e56"/><rect x="528.62" y="297.79" width="7.86" height="7.89" fill="#f39475"/><rect x="535.98" y="297.79" width="7.86" height="7.89" fill="#f7b99e"/><rect x="543.34" y="297.79" width="7.86" height="7.89" fill="#e8d6cc"/><rect x="550.7" y="297.79" width="7.86" height="7.89" fill="#c4d5f3"/><rect x="558.06" y="297.79" width="7.86" height="7.89" fill="#9fbfff"/><rect x="565.42" y="297.79" width="7.86" height="7.89" fill="#81a4fb"/><rect x="572.78" y="297.79" width="7.86" height="7.89" fill="#6c8ff1"/><rect x="580.14" y="297.79" width="7.86" height="7.89" fill="#5f7fe8"/><rect x="587.5" y="297.79" width="7.86" height="7.89" fill="#5a78e4"/><rect x="594.86" y="297.79" width="7.86" height="7.89" fill="#5b7ae5"/><rect x="602.22" y="297.79" width="7.86" height="7.89" fill="#6282ea"/><rect x="609.58" y="297.79" width="7.86" height="7.89" fill="#7093f3"/><rect x="616.94" y="297.79" width="7.86" height="7.89" fill="#86a9fc"/><rect x="624.3" y="297.79" width="7.86" height="7.89" fill="#86a9fc"/><rect x="396.14" y="305.18" width="7.86" height="7.89" fill="#6f92f3"/><rect x="403.5" y="305.18" width="7.86" height="7.89" fill="#6f92f3"/><rect x="410.86" y="305.18" width="7.86" height="7.89" fill="#6788ee"/><rect x="418.22" y="305.18" width="7.86" height="7.89" fill="#6687ed"/><rect x="425.58" y="305.18" width="7.86" height="7.89" fill="#6a8bef"/><rect x="432.94" y="305.18" width="7.86" height="7.89" fill="#7396f5"/><rect x="440.3" y="305.18" width="7.86" height="7.89" fill="#85a8fc"/><rect x="447.66" y="305.18" width="7.86" height="7.89" fill="#9ebeff"/><rect x="455.02" y="305.18" width="7.86" height="7.89" fill="#c0d4f5"/><rect x="462.38" y="305.18" width="7.86" height="7.89" fill="#e3d9d3"/><rect x="469.74" y="305.18" width="7.86" height="7.89" fill="#f5c0a7"/><rect x="477.1" y="305.18" width="7.86" height="7.89" fill="#f59c7d"/><rect x="484.46" y="305.18" width="7.86" height="7.89" fill="#e8765c"/><rect x="491.82" y="305.18" width="7.86" height="7.89" fill="#d85646"/><rect x="499.18" y="305.18" width="7.86" height="7.89" fill="#cf453c"/><rect x="506.54" y="305.18" width="7.86" height="7.89" fill="#cd423b"/><rect x="513.9" y="305.18" width="7.86" height="7.89" fill="#d65244"/><rect x="521.26" y="305.18" width="7.86" height="7.89" fill="#e46e56"/><rect x="528.62" y="305.18" width="7.86" height="7.89" fill="#f39475"/><rect x="535.98" y="305.18" width="7.86" height="7.89" fill="#f7b99e"/><rect x="543.34" y="305.18" width="7.86" height="7.89" fill="#e9d5cb"/><rect x="550.7" y="305.18" width="7.86" height="7.89" fill="#c7d7f0"/><rect x="558.06" y="305.18" width="7.86" height="7.89" fill="#a5c3fe"/><rect x="565.42" y="305.18" width="7.86" height="7.89" fill="#89acfd"/><rect x="572.78" y="305.18" width="7.86" height="7.89" fill="#7699f6"/><rect x="580.14" y="305.18" width="7.86" height="7.89" fill="#6b8df0"/><rect x="587.5" y="305.18" width="7.86" height="7.89" fill="#6687ed"/><rect x="594.86" y="305.18" width="7.86" height="7.89" fill="#6687ed"/><rect x="602.22" y="305.18" width="7.86" height="7.89" fill="#6c8ff1"/><rect x="609.58" y="305.18" width="7.86" height="7.89" fill="#7a9df8"/><rect x="616.94" y="305.18" width="7.86" height="7.89" fill="#8fb1fe"/><rect x="624.3" y="305.18" width="7.86" height="7.89" fill="#8fb1fe"/><rect x="396.14" y="312.57" width="7.86" height="7.89" fill="#7a9df8"/><rect x="403.5" y="312.57" width="7.86" height="7.89" fill="#7a9df8"/><rect x="410.86" y="312.57" width="7.86" height="7.89" fill="#7295f4"/><rect x="418.22" y="312.57" width="7.86" height="7.89" fill="#7093f3"/><rect x="425.58" y="312.57" width="7.86" height="7.89" fill="#7597f6"/><rect x="432.94" y="312.57" width="7.86" height="7.89" fill="#7ea1fa"/><rect x="440.3" y="312.57" width="7.86" height="7.89" fill="#8db0fe"/><rect x="447.66" y="312.57" width="7.86" height="7.89" fill="#a6c4fe"/><rect x="455.02" y="312.57" width="7.86" height="7.89" fill="#c6d6f1"/><rect x="462.38" y="312.57" width="7.86" height="7.89" fill="#e7d7ce"/><rect x="469.74" y="312.57" width="7.86" height="7.89" fill="#f7bca1"/><rect x="477.1" y="312.57" width="7.86" height="7.89" fill="#f39475"/><rect x="484.46" y="312.57" width="7.86" height="7.89" fill="#e36c55"/><rect x="491.82" y="312.57" width="7.86" height="7.89" fill="#d1493f"/><rect x="499.18" y="312.57" width="7.86" height="7.89" fill="#c73635"/><rect x="506.54" y="312.57" width="7.86" height="7.89" fill="#c53334"/><rect x="513.9" y="312.57" width="7.86" height="7.89" fill="#cf453c"/><rect x="521.26" y="312.57" width="7.86" height="7.89" fill="#e0654f"/><rect x="528.62" y="312.57" width="7.86" height="7.89" fill="#f08b6e"/><rect x="535.98" y="312.57" width="7.86" height="7.89" fill="#f7b497"/><rect x="543.34" y="312.57" width="7.86" height="7.89" fill="#ecd3c5"/><rect x="550.7" y="312.57" width="7.86" height="7.89" fill="#cdd9ec"/><rect x="558.06" y="312.57" width="7.86" height="7.89" fill="#adc9fd"/><rect x="565.42" y="312.57" width="7.86" height="7.89" fill="#93b5fe"/><rect x="572.78" y="312.57" width="7.86" height="7.89" fill="#81a4fb"/><rect x="580.14" y="312.57" width="7.86" height="7.89" fill="#7699f6"/><rect x="587.5" y="312.57" width="7.86" height="7.89" fill="#7093f3"/><rect x="594.86" y="312.57" width="7.86" height="7.89" fill="#7295f4"/><rect x="602.22" y="312.57" width="7.86" height="7.89" fill="#779af7"/><rect x="609.58" y="312.57" width="7.86" height="7.89" fill="#84a7fc"/><rect x="616.94" y="312.57" width="7.86" height="7.89" fill="#97b8ff"/><rect x="624.3" y="312.57" width="7.86" height="7.89" fill="#97b8ff"/><rect x="396.14" y="319.96" width="7.86" height="7.89" fill="#82a6fb"/><rect x="403.5" y="319.96" width="7.86" height="7.89" fill="#82a6fb"/><rect x="410.86" y="319.96" width="7.86" height="7.89" fill="#7b9ff9"/><rect x="418.22" y="319.96" width="7.86" height="7.89" fill="#7a9df8"/><rect x="425.58" y="319.96" width="7.86" height="7.89" fill="#7da0f9"/><rect x="432.94" y="319.96" width="7.86" height="7.89" fill="#86a9fc"/><rect x="440.3" y="319.96" width="7.86" height="7.89" fill="#96b7ff"/><rect x="447.66" y="319.96" width="7.86" height="7.89" fill="#adc9fd"/><rect x="455.02" y="319.96" width="7.86" height="7.89" fill="#ccd9ed"/><rect x="462.38" y="319.96" width="7.86" height="7.89" fill="#ead4c8"/><rect x="469.74" y="319.96" width="7.86" height="7.89" fill="#f7b599"/><rect x="477.1" y="319.96" width="7.86" height="7.89" fill="#f18d6f"/><rect x="484.46" y="319.96" width="7.86" height="7.89" fill="#de614d"/><rect x="491.82" y="319.96" width="7.86" height="7.89" fill="#cb3e38"/><rect x="499.18" y="319.96" width="7.86" height="7.89" fill="#be242e"/><rect x="506.54" y="319.96" width="7.86" height="7.89" fill="#bd1f2d"/><rect x="513.9" y="319.96" width="7.86" height="7.89" fill="#c73635"/><rect x="521.26" y="319.96" width="7.86" height="7.89" fill="#d95847"/><rect x="528.62" y="319.96" width="7.86" height="7.89" fill="#ed8366"/><rect x="535.98" y="319.96" width="7.86" height="7.89" fill="#f7ad90"/><rect x="543.34" y="319.96" width="7.86" height="7.89" fill="#efcfbf"/><rect x="550.7" y="319.96" width="7.86" height="7.89" fill="#d3dbe7"/><rect x="558.06" y="319.96" width="7.86" height="7.89" fill="#b3cdfb"/><rect x="565.42" y="319.96" width="7.86" height="7.89" fill="#9abbff"/><rect x="572.78" y="319.96" width="7.86" height="7.89" fill="#89acfd"/><rect x="580.14" y="319.96" width="7.86" height="7.89" fill="#7ea1fa"/><rect x="587.5" y="319.96" width="7.86" height="7.89" fill="#7a9df8"/><rect x="594.86" y="319.96" width="7.86" height="7.89" fill="#7b9ff9"/><rect x="602.22" y="319.96" width="7.86" height="7.89" fill="#81a4fb"/><rect x="609.58" y="319.96" width="7.86" height="7.89" fill="#8caffe"/><rect x="616.94" y="319.96" width="7.86" height="7.89" fill="#9fbfff"/><rect x="624.3" y="319.96" width="7.86" height="7.89" fill="#9fbfff"/><rect x="396.14" y="327.35" width="7.86" height="7.89" fill="#88abfd"/><rect x="403.5" y="327.35" width="7.86" height="7.89" fill="#88abfd"/><rect x="410.86" y="327.35" width="7.86" height="7.89" fill="#82a6fb"/><rect x="418.22" y="327.35" width="7.86" height="7.89" fill="#81a4fb"/><rect x="425.58" y="327.35" width="7.86" height="7.89" fill="#84a7fc"/><rect x="432.94" y="327.35" width="7.86" height="7.89" fill="#8caffe"/><rect x="440.3" y="327.35" width="7.86" height="7.89" fill="#9bbcff"/><rect x="447.66" y="327.35" width="7.86" height="7.89" fill="#b2ccfb"/><rect x="455.02" y="327.35" width="7.86" height="7.89" fill="#cfdaea"/><rect x="462.38" y="327.35" width="7.86" height="7.89" fill="#edd2c3"/><rect x="469.74" y="327.35" width="7.86" height="7.89" fill="#f7b396"/><rect x="477.1" y="327.35" width="7.86" height="7.89" fill="#ef886b"/><rect x="484.46" y="327.35" width="7.86" height="7.89" fill="#da5a49"/><rect x="491.82" y="327.35" width="7.86" height="7.89" fill="#c53334"/><rect x="499.18" y="327.35" width="7.86" height="7.89" fill="#bd1f2d"/><rect x="506.54" y="327.35" width="7.86" height="7.89" fill="#bd1f2d"/><rect x="513.9" y="327.35" width="7.86" height="7.89" fill="#c12b30"/><rect x="521.26" y="327.35" width="7.86" height="7.89" fill="#d65244"/><rect x="528.62" y="327.35" width="7.86" height="7.89" fill="#eb7d62"/><rect x="535.98" y="327.35" width="7.86" height="7.89" fill="#f7aa8c"/><rect x="543.34" y="327.35" width="7.86" height="7.89" fill="#f1cdba"/><rect x="550.7" y="327.35" width="7.86" height="7.89" fill="#d6dce4"/><rect x="558.06" y="327.35" width="7.86" height="7.89" fill="#b7cff9"/><rect x="565.42" y="327.35" width="7.86" height="7.89" fill="#9fbfff"/><rect x="572.78" y="327.35" width="7.86" height="7.89" fill="#8fb1fe"/><rect x="580.14" y="327.35" width="7.86" height="7.89" fill="#85a8fc"/><rect x="587.5" y="327.35" width="7.86" height="7.89" fill="#81a4fb"/><rect x="594.86" y="327.35" width="7.86" height="7.89" fill="#81a4fb"/><rect x="602.22" y="327.35" width="7.86" height="7.89" fill="#86a9fc"/><rect x="609.58" y="327.35" width="7.86" height="7.89" fill="#92b4fe"/><rect x="616.94" y="327.35" width="7.86" height="7.89" fill="#a3c2fe"/><rect x="624.3" y="327.35" width="7.86" height="7.89" fill="#a3c2fe"/><rect x="396.14" y="334.74" width="7.86" height="7.89" fill="#89acfd"/><rect x="403.5" y="334.74" width="7.86" height="7.89" fill="#89acfd"/><rect x="410.86" y="334.74" width="7.86" height="7.89" fill="#84a7fc"/><rect x="418.22" y="334.74" width="7.86" height="7.89" fill="#82a6fb"/><rect x="425.58" y="334.74" width="7.86" height="7.89" fill="#85a8fc"/><rect x="432.94" y="334.74" width="7.86" height="7.89" fill="#8caffe"/><rect x="440.3" y="334.74" width="7.86" height="7.89" fill="#9bbcff"/><rect x="447.66" y="334.74" width="7.86" height="7.89" fill="#b1cbfc"/><rect x="455.02" y="334.74" width="7.86" height="7.89" fill="#cfdaea"/><rect x="462.38" y="334.74" width="7.86" height="7.89" fill="#edd2c3"/><rect x="469.74" y="334.74" width="7.86" height="7.89" fill="#f7b194"/><rect x="477.1" y="334.74" width="7.86" height="7.89" fill="#ee8669"/><rect x="484.46" y="334.74" width="7.86" height="7.89" fill="#d95847"/><rect x="491.82" y="334.74" width="7.86" height="7.89" fill="#c32e31"/><rect x="499.18" y="334.74" width="7.86" height="7.89" fill="#bd1f2d"/><rect x="506.54" y="334.74" width="7.86" height="7.89" fill="#bd1f2d"/><rect x="513.9" y="334.74" width="7.86" height="7.89" fill="#c0282f"/><rect x="521.26" y="334.74" width="7.86" height="7.89" fill="#d55042"/><rect x="528.62" y="334.74" width="7.86" height="7.89" fill="#ea7b60"/><rect x="535.98" y="334.74" width="7.86" height="7.89" fill="#f7a98b"/><rect x="543.34" y="334.74" width="7.86" height="7.89" fill="#f1cdba"/><rect x="550.7" y="334.74" width="7.86" height="7.89" fill="#d6dce4"/><rect x="558.06" y="334.74" width="7.86" height="7.89" fill="#b7cff9"/><rect x="565.42" y="334.74" width="7.86" height="7.89" fill="#9fbfff"/><rect x="572.78" y="334.74" width="7.86" height="7.89" fill="#8fb1fe"/><rect x="580.14" y="334.74" width="7.86" height="7.89" fill="#86a9fc"/><rect x="587.5" y="334.74" width="7.86" height="7.89" fill="#82a6fb"/><rect x="594.86" y="334.74" width="7.86" height="7.89" fill="#82a6fb"/><rect x="602.22" y="334.74" width="7.86" height="7.89" fill="#88abfd"/><rect x="609.58" y="334.74" width="7.86" height="7.89" fill="#92b4fe"/><rect x="616.94" y="334.74" width="7.86" height="7.89" fill="#a3c2fe"/><rect x="624.3" y="334.74" width="7.86" height="7.89" fill="#a3c2fe"/><rect x="396.14" y="342.13" width="7.86" height="7.89" fill="#85a8fc"/><rect x="403.5" y="342.13" width="7.86" height="7.89" fill="#85a8fc"/><rect x="410.86" y="342.13" width="7.86" height="7.89" fill="#7ea1fa"/><rect x="418.22" y="342.13" width="7.86" height="7.89" fill="#7da0f9"/><rect x="425.58" y="342.13" width="7.86" height="7.89" fill="#80a3fa"/><rect x="432.94" y="342.13" width="7.86" height="7.89" fill="#89acfd"/><rect x="440.3" y="342.13" width="7.86" height="7.89" fill="#98b9ff"/><rect x="447.66" y="342.13" width="7.86" height="7.89" fill="#b1cbfc"/><rect x="455.02" y="342.13" width="7.86" height="7.89" fill="#cfdaea"/><rect x="462.38" y="342.13" width="7.86" height="7.89" fill="#edd2c3"/><rect x="469.74" y="342.13" width="7.86" height="7.89" fill="#f7b396"/><rect x="477.1" y="342.13" width="7.86" height="7.89" fill="#ef886b"/><rect x="484.46" y="342.13" width="7.86" height="7.89" fill="#dc5d4a"/><rect x="491.82" y="342.13" width="7.86" height="7.89" fill="#c83836"/><rect x="499.18" y="342.13" width="7.86" height="7.89" fill="#bd1f2d"/><rect x="506.54" y="342.13" width="7.86" height="7.89" fill="#bd1f2d"/><rect x="513.9" y="342.13" width="7.86" height="7.89" fill="#c43032"/><rect x="521.26" y="342.13" width="7.86" height="7.89" fill="#d75445"/><rect x="528.62" y="342.13" width="7.86" height="7.89" fill="#ec7f63"/><rect x="535.98" y="342.13" width="7.86" height="7.89" fill="#f7aa8c"/><rect x="543.34" y="342.13" width="7.86" height="7.89" fill="#f1cdba"/><rect x="550.7" y="342.13" width="7.86" height="7.89" fill="#d6dce4"/><rect x="558.06" y="342.13" width="7.86" height="7.89" fill="#b6cefa"/><rect x="565.42" y="342.13" width="7.86" height="7.89" fill="#9dbdff"/><rect x="572.78" y="342.13" width="7.86" height="7.89" fill="#8caffe"/><rect x="580.14" y="342.13" width="7.86" height="7.89" fill="#81a4fb"/><rect x="587.5" y="342.13" width="7.86" height="7.89" fill="#7da0f9"/><rect x="594.86" y="342.13" width="7.86" height="7.89" fill="#7ea1fa"/><rect x="602.22" y="342.13" width="7.86" height="7.89" fill="#84a7fc"/><rect x="609.58" y="342.13" width="7.86" height="7.89" fill="#8fb1fe"/><rect x="616.94" y="342.13" width="7.86" height="7.89" fill="#a2c1ff"/><rect x="624.3" y="342.13" width="7.86" height="7.89" fill="#a2c1ff"/><rect x="396.14" y="349.52" width="7.86" height="7.89" fill="#7da0f9"/><rect x="403.5" y="349.52" width="7.86" height="7.89" fill="#7da0f9"/><rect x="410.86" y="349.52" width="7.86" height="7.89" fill="#7699f6"/><rect x="418.22" y="349.52" width="7.86" height="7.89" fill="#7597f6"/><rect x="425.58" y="349.52" width="7.86" height="7.89" fill="#779af7"/><rect x="432.94" y="349.52" width="7.86" height="7.89" fill="#81a4fb"/><rect x="440.3" y="349.52" width="7.86" height="7.89" fill="#90b2fe"/><rect x="447.66" y="349.52" width="7.86" height="7.89" fill="#a9c6fd"/><rect x="455.02" y="349.52" width="7.86" height="7.89" fill="#c7d7f0"/><rect x="462.38" y="349.52" width="7.86" height="7.89" fill="#e8d6cc"/><rect x="469.74" y="349.52" width="7.86" height="7.89" fill="#f7ba9f"/><rect x="477.1" y="349.52" width="7.86" height="7.89" fill="#f29274"/><rect x="484.46" y="349.52" width="7.86" height="7.89" fill="#e26952"/><rect x="491.82" y="349.52" width="7.86" height="7.89" fill="#d0473d"/><rect x="499.18" y="349.52" width="7.86" height="7.89" fill="#c43032"/><rect x="506.54" y="349.52" width="7.86" height="7.89" fill="#c32e31"/><rect x="513.9" y="349.52" width="7.86" height="7.89" fill="#cc403a"/><rect x="521.26" y="349.52" width="7.86" height="7.89" fill="#de614d"/><rect x="528.62" y="349.52" width="7.86" height="7.89" fill="#f08a6c"/><rect x="535.98" y="349.52" width="7.86" height="7.89" fill="#f7b396"/><rect x="543.34" y="349.52" width="7.86" height="7.89" fill="#edd2c3"/><rect x="550.7" y="349.52" width="7.86" height="7.89" fill="#cfdaea"/><rect x="558.06" y="349.52" width="7.86" height="7.89" fill="#aec9fc"/><rect x="565.42" y="349.52" width="7.86" height="7.89" fill="#94b6ff"/><rect x="572.78" y="349.52" width="7.86" height="7.89" fill="#84a7fc"/><rect x="580.14" y="349.52" width="7.86" height="7.89" fill="#799cf8"/><rect x="587.5" y="349.52" width="7.86" height="7.89" fill="#7597f6"/><rect x="594.86" y="349.52" width="7.86" height="7.89" fill="#7597f6"/><rect x="602.22" y="349.52" width="7.86" height="7.89" fill="#7b9ff9"/><rect x="609.58" y="349.52" width="7.86" height="7.89" fill="#86a9fc"/><rect x="616.94" y="349.52" width="7.86" height="7.89" fill="#9abbff"/><rect x="624.3" y="349.52" width="7.86" height="7.89" fill="#9abbff"/><rect x="396.14" y="356.91" width="7.86" height="7.89" fill="#7699f6"/><rect x="403.5" y="356.91" width="7.86" height="7.89" fill="#7699f6"/><rect x="410.86" y="356.91" width="7.86" height="7.89" fill="#6e90f2"/><rect x="418.22" y="356.91" width="7.86" height="7.89" fill="#6c8ff1"/><rect x="425.58" y="356.91" width="7.86" height="7.89" fill="#7093f3"/><rect x="432.94" y="356.91" width="7.86" height="7.89" fill="#7a9df8"/><rect x="440.3" y="356.91" width="7.86" height="7.89" fill="#8caffe"/><rect x="447.66" y="356.91" width="7.86" height="7.89" fill="#a6c4fe"/><rect x="455.02" y="356.91" width="7.86" height="7.89" fill="#c7d7f0"/><rect x="462.38" y="356.91" width="7.86" height="7.89" fill="#e8d6cc"/><rect x="469.74" y="356.91" width="7.86" height="7.89" fill="#f7ba9f"/><rect x="477.1" y="356.91" width="7.86" height="7.89" fill="#f39577"/><rect x="484.46" y="356.91" width="7.86" height="7.89" fill="#e46e56"/><rect x="491.82" y="356.91" width="7.86" height="7.89" fill="#d55042"/><rect x="499.18" y="356.91" width="7.86" height="7.89" fill="#cb3e38"/><rect x="506.54" y="356.91" width="7.86" height="7.89" fill="#ca3b37"/><rect x="513.9" y="356.91" width="7.86" height="7.89" fill="#d24b40"/><rect x="521.26" y="356.91" width="7.86" height="7.89" fill="#e16751"/><rect x="528.62" y="356.91" width="7.86" height="7.89" fill="#f18d6f"/><rect x="535.98" y="356.91" width="7.86" height="7.89" fill="#f7b396"/><rect x="543.34" y="356.91" width="7.86" height="7.89" fill="#edd2c3"/><rect x="550.7" y="356.91" width="7.86" height="7.89" fill="#cfdaea"/><rect x="558.06" y="356.91" width="7.86" height="7.89" fill="#adc9fd"/><rect x="565.42" y="356.91" width="7.86" height="7.89" fill="#92b4fe"/><rect x="572.78" y="356.91" width="7.86" height="7.89" fill="#7da0f9"/><rect x="580.14" y="356.91" width="7.86" height="7.89" fill="#7295f4"/><rect x="587.5" y="356.91" width="7.86" height="7.89" fill="#6c8ff1"/><rect x="594.86" y="356.91" width="7.86" height="7.89" fill="#6c8ff1"/><rect x="602.22" y="356.91" width="7.86" height="7.89" fill="#7396f5"/><rect x="609.58" y="356.91" width="7.86" height="7.89" fill="#81a4fb"/><rect x="616.94" y="356.91" width="7.86" height="7.89" fill="#97b8ff"/><rect x="624.3" y="356.91" width="7.86" height="7.89" fill="#97b8ff"/><rect x="396.14" y="364.3" width="7.86" height="7.89" fill="#688aef"/><rect x="403.5" y="364.3" width="7.86" height="7.89" fill="#688aef"/><rect x="410.86" y="364.3" width="7.86" height="7.89" fill="#6180e9"/><rect x="418.22" y="364.3" width="7.86" height="7.89" fill="#5e7de7"/><rect x="425.58" y="364.3" width="7.86" height="7.89" fill="#6282ea"/><rect x="432.94" y="364.3" width="7.86" height="7.89" fill="#6c8ff1"/><rect x="440.3" y="364.3" width="7.86" height="7.89" fill="#7ea1fa"/><rect x="447.66" y="364.3" width="7.86" height="7.89" fill="#98b9ff"/><rect x="455.02" y="364.3" width="7.86" height="7.89" fill="#bbd1f8"/><rect x="462.38" y="364.3" width="7.86" height="7.89" fill="#dfdbd9"/><rect x="469.74" y="364.3" width="7.86" height="7.89" fill="#f5c4ac"/><rect x="477.1" y="364.3" width="7.86" height="7.89" fill="#f5a081"/><rect x="484.46" y="364.3" width="7.86" height="7.89" fill="#ea7b60"/><rect x="491.82" y="364.3" width="7.86" height="7.89" fill="#dd5f4b"/><rect x="499.18" y="364.3" width="7.86" height="7.89" fill="#d44e41"/><rect x="506.54" y="364.3" width="7.86" height="7.89" fill="#d24b40"/><rect x="513.9" y="364.3" width="7.86" height="7.89" fill="#da5a49"/><rect x="521.26" y="364.3" width="7.86" height="7.89" fill="#e8765c"/><rect x="528.62" y="364.3" width="7.86" height="7.89" fill="#f4987a"/><rect x="535.98" y="364.3" width="7.86" height="7.89" fill="#f6bda2"/><rect x="543.34" y="364.3" width="7.86" height="7.89" fill="#e6d7cf"/><rect x="550.7" y="364.3" width="7.86" height="7.89" fill="#c3d5f4"/><rect x="558.06" y="364.3" width="7.86" height="7.89" fill="#9fbfff"/><rect x="565.42" y="364.3" width="7.86" height="7.89" fill="#84a7fc"/><rect x="572.78" y="364.3" width="7.86" height="7.89" fill="#6f92f3"/><rect x="580.14" y="364.3" width="7.86" height="7.89" fill="#6485ec"/><rect x="587.5" y="364.3" width="7.86" height="7.89" fill="#5f7fe8"/><rect x="594.86" y="364.3" width="7.86" height="7.89" fill="#5f7fe8"/><rect x="602.22" y="364.3" width="7.86" height="7.89" fill="#6687ed"/><rect x="609.58" y="364.3" width="7.86" height="7.89" fill="#7396f5"/><rect x="616.94" y="364.3" width="7.86" height="7.89" fill="#89acfd"/><rect x="624.3" y="364.3" width="7.86" height="7.89" fill="#89acfd"/><rect x="396.14" y="371.69" width="7.86" height="7.89" fill="#5a78e4"/><rect x="403.5" y="371.69" width="7.86" height="7.89" fill="#5a78e4"/><rect x="410.86" y="371.69" width="7.86" height="7.89" fill="#536edd"/><rect x="418.22" y="371.69" width="7.86" height="7.89" fill="#506bda"/><rect x="425.58" y="371.69" width="7.86" height="7.89" fill="#5470de"/><rect x="432.94" y="371.69" width="7.86" height="7.89" fill="#5f7fe8"/><rect x="440.3" y="371.69" width="7.86" height="7.89" fill="#7295f4"/><rect x="447.66" y="371.69" width="7.86" height="7.89" fill="#8db0fe"/><rect x="455.02" y="371.69" width="7.86" height="7.89" fill="#b2ccfb"/><rect x="462.38" y="371.69" width="7.86" height="7.89" fill="#d8dce2"/><rect x="469.74" y="371.69" width="7.86" height="7.89" fill="#f2cbb7"/><rect x="477.1" y="371.69" width="7.86" height="7.89" fill="#f7ad90"/><rect x="484.46" y="371.69" width="7.86" height="7.89" fill="#f18d6f"/><rect x="491.82" y="371.69" width="7.86" height="7.89" fill="#e7745b"/><rect x="499.18" y="371.69" width="7.86" height="7.89" fill="#e0654f"/><rect x="506.54" y="371.69" width="7.86" height="7.89" fill="#e0654f"/><rect x="513.9" y="371.69" width="7.86" height="7.89" fill="#e57058"/><rect x="521.26" y="371.69" width="7.86" height="7.89" fill="#ef886b"/><rect x="528.62" y="371.69" width="7.86" height="7.89" fill="#f7a688"/><rect x="535.98" y="371.69" width="7.86" height="7.89" fill="#f4c6af"/><rect x="543.34" y="371.69" width="7.86" height="7.89" fill="#dfdbd9"/><rect x="550.7" y="371.69" width="7.86" height="7.89" fill="#bad0f8"/><rect x="558.06" y="371.69" width="7.86" height="7.89" fill="#94b6ff"/><rect x="565.42" y="371.69" width="7.86" height="7.89" fill="#779af7"/><rect x="572.78" y="371.69" width="7.86" height="7.89" fill="#6282ea"/><rect x="580.14" y="371.69" width="7.86" height="7.89" fill="#5673e0"/><rect x="587.5" y="371.69" width="7.86" height="7.89" fill="#506bda"/><rect x="594.86" y="371.69" width="7.86" height="7.89" fill="#516ddb"/><rect x="602.22" y="371.69" width="7.86" height="7.89" fill="#5977e3"/><rect x="609.58" y="371.69" width="7.86" height="7.89" fill="#6687ed"/><rect x="616.94" y="371.69" width="7.86" height="7.89" fill="#7da0f9"/><rect x="624.3" y="371.69" width="7.86" height="7.89" fill="#7da0f9"/><rect x="396.14" y="379.08" width="7.86" height="7.89" fill="#536edd"/><rect x="403.5" y="379.08" width="7.86" height="7.89" fill="#536edd"/><rect x="410.86" y="379.08" width="7.86" height="7.89" fill="#4a63d3"/><rect x="418.22" y="379.08" width="7.86" height="7.89" fill="#4961d2"/><rect x="425.58" y="379.08" width="7.86" height="7.89" fill="#4c66d6"/><rect x="432.94" y="379.08" width="7.86" height="7.89" fill="#5673e0"/><rect x="440.3" y="379.08" width="7.86" height="7.89" fill="#688aef"/><rect x="447.66" y="379.08" width="7.86" height="7.89" fill="#84a7fc"/><rect x="455.02" y="379.08" width="7.86" height="7.89" fill="#a7c5fe"/><rect x="462.38" y="379.08" width="7.86" height="7.89" fill="#cfdaea"/><rect x="469.74" y="379.08" width="7.86" height="7.89" fill="#edd1c2"/><rect x="477.1" y="379.08" width="7.86" height="7.89" fill="#f7b497"/><rect x="484.46" y="379.08" width="7.86" height="7.89" fill="#f39778"/><rect x="491.82" y="379.08" width="7.86" height="7.89" fill="#eb7d62"/><rect x="499.18" y="379.08" width="7.86" height="7.89" fill="#e57058"/><rect x="506.54" y="379.08" width="7.86" height="7.89" fill="#e46e56"/><rect x="513.9" y="379.08" width="7.86" height="7.89" fill="#e97a5f"/><rect x="521.26" y="379.08" width="7.86" height="7.89" fill="#f29072"/><rect x="528.62" y="379.08" width="7.86" height="7.89" fill="#f7af91"/><rect x="535.98" y="379.08" width="7.86" height="7.89" fill="#f1ccb8"/><rect x="543.34" y="379.08" width="7.86" height="7.89" fill="#d7dce3"/><rect x="550.7" y="379.08" width="7.86" height="7.89" fill="#b1cbfc"/><rect x="558.06" y="379.08" width="7.86" height="7.89" fill="#8badfd"/><rect x="565.42" y="379.08" width="7.86" height="7.89" fill="#6e90f2"/><rect x="572.78" y="379.08" width="7.86" height="7.89" fill="#5a78e4"/><rect x="580.14" y="379.08" width="7.86" height="7.89" fill="#4e68d8"/><rect x="587.5" y="379.08" width="7.86" height="7.89" fill="#4961d2"/><rect x="594.86" y="379.08" width="7.86" height="7.89" fill="#4a63d3"/><rect x="602.22" y="379.08" width="7.86" height="7.89" fill="#506bda"/><rect x="609.58" y="379.08" width="7.86" height="7.89" fill="#5e7de7"/><rect x="616.94" y="379.08" width="7.86" height="7.89" fill="#7396f5"/><rect x="624.3" y="379.08" width="7.86" height="7.89" fill="#7396f5"/><rect x="396.14" y="386.47" width="7.86" height="7.89" fill="#4e68d8"/><rect x="403.5" y="386.47" width="7.86" height="7.89" fill="#4e68d8"/><rect x="410.86" y="386.47" width="7.86" height="7.89" fill="#465ecf"/><rect x="418.22" y="386.47" width="7.86" height="7.89" fill="#445acc"/><rect x="425.58" y="386.47" width="7.86" height="7.89" fill="#485fd1"/><rect x="432.94" y="386.47" width="7.86" height="7.89" fill="#516ddb"/><rect x="440.3" y="386.47" width="7.86" height="7.89" fill="#6282ea"/><rect x="447.66" y="386.47" width="7.86" height="7.89" fill="#7a9df8"/><rect x="455.02" y="386.47" width="7.86" height="7.89" fill="#9ebeff"/><rect x="462.38" y="386.47" width="7.86" height="7.89" fill="#c6d6f1"/><rect x="469.74" y="386.47" width="7.86" height="7.89" fill="#ead5c9"/><rect x="477.1" y="386.47" width="7.86" height="7.89" fill="#f7b99e"/><rect x="484.46" y="386.47" width="7.86" height="7.89" fill="#f4987a"/><rect x="491.82" y="386.47" width="7.86" height="7.89" fill="#eb7d62"/><rect x="499.18" y="386.47" width="7.86" height="7.89" fill="#e36c55"/><rect x="506.54" y="386.47" width="7.86" height="7.89" fill="#e36b54"/><rect x="513.9" y="386.47" width="7.86" height="7.89" fill="#e9785d"/><rect x="521.26" y="386.47" width="7.86" height="7.89" fill="#f29274"/><rect x="528.62" y="386.47" width="7.86" height="7.89" fill="#f7b194"/><rect x="535.98" y="386.47" width="7.86" height="7.89" fill="#eed0c0"/><rect x="543.34" y="386.47" width="7.86" height="7.89" fill="#cfdaea"/><rect x="550.7" y="386.47" width="7.86" height="7.89" fill="#a6c4fe"/><rect x="558.06" y="386.47" width="7.86" height="7.89" fill="#81a4fb"/><rect x="565.42" y="386.47" width="7.86" height="7.89" fill="#6687ed"/><rect x="572.78" y="386.47" width="7.86" height="7.89" fill="#5470de"/><rect x="580.14" y="386.47" width="7.86" height="7.89" fill="#4961d2"/><rect x="587.5" y="386.47" width="7.86" height="7.89" fill="#455cce"/><rect x="594.86" y="386.47" width="7.86" height="7.89" fill="#455cce"/><rect x="602.22" y="386.47" width="7.86" height="7.89" fill="#4b64d5"/><rect x="609.58" y="386.47" width="7.86" height="7.89" fill="#5875e1"/><rect x="616.94" y="386.47" width="7.86" height="7.89" fill="#6b8df0"/><rect x="624.3" y="386.47" width="7.86" height="7.89" fill="#6b8df0"/><rect x="396.14" y="393.86" width="7.86" height="7.89" fill="#4e68d8"/><rect x="403.5" y="393.86" width="7.86" height="7.89" fill="#4e68d8"/><rect x="410.86" y="393.86" width="7.86" height="7.89" fill="#465ecf"/><rect x="418.22" y="393.86" width="7.86" height="7.89" fill="#445acc"/><rect x="425.58" y="393.86" width="7.86" height="7.89" fill="#485fd1"/><rect x="432.94" y="393.86" width="7.86" height="7.89" fill="#516ddb"/><rect x="440.3" y="393.86" width="7.86" height="7.89" fill="#6282ea"/><rect x="447.66" y="393.86" width="7.86" height="7.89" fill="#7a9df8"/><rect x="455.02" y="393.86" width="7.86" height="7.89" fill="#9ebeff"/><rect x="462.38" y="393.86" width="7.86" height="7.89" fill="#c6d6f1"/><rect x="469.74" y="393.86" width="7.86" height="7.89" fill="#ead5c9"/><rect x="477.1" y="393.86" width="7.86" height="7.89" fill="#f7b99e"/><rect x="484.46" y="393.86" width="7.86" height="7.89" fill="#f4987a"/><rect x="491.82" y="393.86" width="7.86" height="7.89" fill="#eb7d62"/><rect x="499.18" y="393.86" width="7.86" height="7.89" fill="#e36c55"/><rect x="506.54" y="393.86" width="7.86" height="7.89" fill="#e36b54"/><rect x="513.9" y="393.86" width="7.86" height="7.89" fill="#e9785d"/><rect x="521.26" y="393.86" width="7.86" height="7.89" fill="#f29274"/><rect x="528.62" y="393.86" width="7.86" height="7.89" fill="#f7b194"/><rect x="535.98" y="393.86" width="7.86" height="7.89" fill="#eed0c0"/><rect x="543.34" y="393.86" width="7.86" height="7.89" fill="#cfdaea"/><rect x="550.7" y="393.86" width="7.86" height="7.89" fill="#a6c4fe"/><rect x="558.06" y="393.86" width="7.86" height="7.89" fill="#81a4fb"/><rect x="565.42" y="393.86" width="7.86" height="7.89" fill="#6687ed"/><rect x="572.78" y="393.86" width="7.86" height="7.89" fill="#5470de"/><rect x="580.14" y="393.86" width="7.86" height="7.89" fill="#4961d2"/><rect x="587.5" y="393.86" width="7.86" height="7.89" fill="#455cce"/><rect x="594.86" y="393.86" width="7.86" height="7.89" fill="#455cce"/><rect x="602.22" y="393.86" width="7.86" height="7.89" fill="#4b64d5"/><rect x="609.58" y="393.86" width="7.86" height="7.89" fill="#5875e1"/><rect x="616.94" y="393.86" width="7.86" height="7.89" fill="#6b8df0"/><rect x="624.3" y="393.86" width="7.86" height="7.89" fill="#6b8df0"/><rect x="396.14" y="401.25" width="7.86" height="7.89" fill="#536edd"/><rect x="403.5" y="401.25" width="7.86" height="7.89" fill="#536edd"/><rect x="410.86" y="401.25" width="7.86" height="7.89" fill="#4b64d5"/><rect x="418.22" y="401.25" width="7.86" height="7.89" fill="#4961d2"/><rect x="425.58" y="401.25" width="7.86" height="7.89" fill="#4c66d6"/><rect x="432.94" y="401.25" width="7.86" height="7.89" fill="#5673e0"/><rect x="440.3" y="401.25" width="7.86" height="7.89" fill="#688aef"/><rect x="447.66" y="401.25" width="7.86" height="7.89" fill="#84a7fc"/><rect x="455.02" y="401.25" width="7.86" height="7.89" fill="#a7c5fe"/><rect x="462.38" y="401.25" width="7.86" height="7.89" fill="#cfdaea"/><rect x="469.74" y="401.25" width="7.86" height="7.89" fill="#eed0c0"/><rect x="477.1" y="401.25" width="7.86" height="7.89" fill="#f7b497"/><rect x="484.46" y="401.25" width="7.86" height="7.89" fill="#f39577"/><rect x="491.82" y="401.25" width="7.86" height="7.89" fill="#ea7b60"/><rect x="499.18" y="401.25" width="7.86" height="7.89" fill="#e36c55"/><rect x="506.54" y="401.25" width="7.86" height="7.89" fill="#e36c55"/><rect x="513.9" y="401.25" width="7.86" height="7.89" fill="#e9785d"/><rect x="521.26" y="401.25" width="7.86" height="7.89" fill="#f18f71"/><rect x="528.62" y="401.25" width="7.86" height="7.89" fill="#f7ad90"/><rect x="535.98" y="401.25" width="7.86" height="7.89" fill="#f1ccb8"/><rect x="543.34" y="401.25" width="7.86" height="7.89" fill="#d7dce3"/><rect x="550.7" y="401.25" width="7.86" height="7.89" fill="#afcafc"/><rect x="558.06" y="401.25" width="7.86" height="7.89" fill="#8badfd"/><rect x="565.42" y="401.25" width="7.86" height="7.89" fill="#6e90f2"/><rect x="572.78" y="401.25" width="7.86" height="7.89" fill="#5a78e4"/><rect x="580.14" y="401.25" width="7.86" height="7.89" fill="#4f69d9"/><rect x="587.5" y="401.25" width="7.86" height="7.89" fill="#4961d2"/><rect x="594.86" y="401.25" width="7.86" height="7.89" fill="#4a63d3"/><rect x="602.22" y="401.25" width="7.86" height="7.89" fill="#506bda"/><rect x="609.58" y="401.25" width="7.86" height="7.89" fill="#5e7de7"/><rect x="616.94" y="401.25" width="7.86" height="7.89" fill="#7396f5"/><rect x="624.3" y="401.25" width="7.86" height="7.89" fill="#7396f5"/><rect x="396.14" y="408.64" width="7.86" height="7.89" fill="#5a78e4"/><rect x="403.5" y="408.64" width="7.86" height="7.89" fill="#5a78e4"/><rect x="410.86" y="408.64" width="7.86" height="7.89" fill="#536edd"/><rect x="418.22" y="408.64" width="7.86" height="7.89" fill="#506bda"/><rect x="425.58" y="408.64" width="7.86" height="7.89" fill="#5470de"/><rect x="432.94" y="408.64" width="7.86" height="7.89" fill="#5f7fe8"/><rect x="440.3" y="408.64" width="7.86" height="7.89" fill="#7093f3"/><rect x="447.66" y="408.64" width="7.86" height="7.89" fill="#8caffe"/><rect x="455.02" y="408.64" width="7.86" height="7.89" fill="#b1cbfc"/><rect x="462.38" y="408.64" width="7.86" height="7.89" fill="#d7dce3"/><rect x="469.74" y="408.64" width="7.86" height="7.89" fill="#f2cbb7"/><rect x="477.1" y="408.64" width="7.86" height="7.89" fill="#f7aa8c"/><rect x="484.46" y="408.64" width="7.86" height="7.89" fill="#ef886b"/><rect x="491.82" y="408.64" width="7.86" height="7.89" fill="#e36c55"/><rect x="499.18" y="408.64" width="7.86" height="7.89" fill="#dc5d4a"/><rect x="506.54" y="408.64" width="7.86" height="7.89" fill="#da5a49"/><rect x="513.9" y="408.64" width="7.86" height="7.89" fill="#e26952"/><rect x="521.26" y="408.64" width="7.86" height="7.89" fill="#ec8165"/><rect x="528.62" y="408.64" width="7.86" height="7.89" fill="#f6a385"/><rect x="535.98" y="408.64" width="7.86" height="7.89" fill="#f4c5ad"/><rect x="543.34" y="408.64" width="7.86" height="7.89" fill="#dfdbd9"/><rect x="550.7" y="408.64" width="7.86" height="7.89" fill="#b9d0f9"/><rect x="558.06" y="408.64" width="7.86" height="7.89" fill="#93b5fe"/><rect x="565.42" y="408.64" width="7.86" height="7.89" fill="#7699f6"/><rect x="572.78" y="408.64" width="7.86" height="7.89" fill="#6282ea"/><rect x="580.14" y="408.64" width="7.86" height="7.89" fill="#5673e0"/><rect x="587.5" y="408.64" width="7.86" height="7.89" fill="#516ddb"/><rect x="594.86" y="408.64" width="7.86" height="7.89" fill="#516ddb"/><rect x="602.22" y="408.64" width="7.86" height="7.89" fill="#5875e1"/><rect x="609.58" y="408.64" width="7.86" height="7.89" fill="#6687ed"/><rect x="616.94" y="408.64" width="7.86" height="7.89" fill="#7b9ff9"/><rect x="624.3" y="408.64" width="7.86" height="7.89" fill="#7b9ff9"/><rect x="396.14" y="416.03" width="7.86" height="7.89" fill="#6687ed"/><rect x="403.5" y="416.03" width="7.86" height="7.89" fill="#6687ed"/><rect x="410.86" y="416.03" width="7.86" height="7.89" fill="#5e7de7"/><rect x="418.22" y="416.03" width="7.86" height="7.89" fill="#5d7ce6"/><rect x="425.58" y="416.03" width="7.86" height="7.89" fill="#6180e9"/><rect x="432.94" y="416.03" width="7.86" height="7.89" fill="#6a8bef"/><rect x="440.3" y="416.03" width="7.86" height="7.89" fill="#7a9df8"/><rect x="447.66" y="416.03" width="7.86" height="7.89" fill="#93b5fe"/><rect x="455.02" y="416.03" width="7.86" height="7.89" fill="#b5cdfa"/><rect x="462.38" y="416.03" width="7.86" height="7.89" fill="#dadce0"/><rect x="469.74" y="416.03" width="7.86" height="7.89" fill="#f2c9b4"/><rect x="477.1" y="416.03" width="7.86" height="7.89" fill="#f7a688"/><rect x="484.46" y="416.03" width="7.86" height="7.89" fill="#ed8366"/><rect x="491.82" y="416.03" width="7.86" height="7.89" fill="#e0654f"/><rect x="499.18" y="416.03" width="7.86" height="7.89" fill="#d65244"/><rect x="506.54" y="416.03" width="7.86" height="7.89" fill="#d55042"/><rect x="513.9" y="416.03" width="7.86" height="7.89" fill="#dd5f4b"/><rect x="521.26" y="416.03" width="7.86" height="7.89" fill="#ea7b60"/><rect x="528.62" y="416.03" width="7.86" height="7.89" fill="#f59f80"/><rect x="535.98" y="416.03" width="7.86" height="7.89" fill="#f5c1a9"/><rect x="543.34" y="416.03" width="7.86" height="7.89" fill="#e1dad6"/><rect x="550.7" y="416.03" width="7.86" height="7.89" fill="#bed2f6"/><rect x="558.06" y="416.03" width="7.86" height="7.89" fill="#9abbff"/><rect x="565.42" y="416.03" width="7.86" height="7.89" fill="#80a3fa"/><rect x="572.78" y="416.03" width="7.86" height="7.89" fill="#6c8ff1"/><rect x="580.14" y="416.03" width="7.86" height="7.89" fill="#6282ea"/><rect x="587.5" y="416.03" width="7.86" height="7.89" fill="#5d7ce6"/><rect x="594.86" y="416.03" width="7.86" height="7.89" fill="#5e7de7"/><rect x="602.22" y="416.03" width="7.86" height="7.89" fill="#6384eb"/><rect x="609.58" y="416.03" width="7.86" height="7.89" fill="#7093f3"/><rect x="616.94" y="416.03" width="7.86" height="7.89" fill="#85a8fc"/><rect x="624.3" y="416.03" width="7.86" height="7.89" fill="#85a8fc"/><rect x="396.14" y="423.42" width="7.86" height="7.89" fill="#7093f3"/><rect x="403.5" y="423.42" width="7.86" height="7.89" fill="#7093f3"/><rect x="410.86" y="423.42" width="7.86" height="7.89" fill="#6a8bef"/><rect x="418.22" y="423.42" width="7.86" height="7.89" fill="#688aef"/><rect x="425.58" y="423.42" width="7.86" height="7.89" fill="#6b8df0"/><rect x="432.94" y="423.42" width="7.86" height="7.89" fill="#7597f6"/><rect x="440.3" y="423.42" width="7.86" height="7.89" fill="#85a8fc"/><rect x="447.66" y="423.42" width="7.86" height="7.89" fill="#9ebeff"/><rect x="455.02" y="423.42" width="7.86" height="7.89" fill="#bed2f6"/><rect x="462.38" y="423.42" width="7.86" height="7.89" fill="#e1dad6"/><rect x="469.74" y="423.42" width="7.86" height="7.89" fill="#f5c1a9"/><rect x="477.1" y="423.42" width="7.86" height="7.89" fill="#f59c7d"/><rect x="484.46" y="423.42" width="7.86" height="7.89" fill="#e7745b"/><rect x="491.82" y="423.42" width="7.86" height="7.89" fill="#d75445"/><rect x="499.18" y="423.42" width="7.86" height="7.89" fill="#cc403a"/><rect x="506.54" y="423.42" width="7.86" height="7.89" fill="#cb3e38"/><rect x="513.9" y="423.42" width="7.86" height="7.89" fill="#d44e41"/><rect x="521.26" y="423.42" width="7.86" height="7.89" fill="#e36c55"/><rect x="528.62" y="423.42" width="7.86" height="7.89" fill="#f39475"/><rect x="535.98" y="423.42" width="7.86" height="7.89" fill="#f7ba9f"/><rect x="543.34" y="423.42" width="7.86" height="7.89" fill="#e7d7ce"/><rect x="550.7" y="423.42" width="7.86" height="7.89" fill="#c6d6f1"/><rect x="558.06" y="423.42" width="7.86" height="7.89" fill="#a3c2fe"/><rect x="565.42" y="423.42" width="7.86" height="7.89" fill="#89acfd"/><rect x="572.78" y="423.42" width="7.86" height="7.89" fill="#779af7"/><rect x="580.14" y="423.42" width="7.86" height="7.89" fill="#6e90f2"/><rect x="587.5" y="423.42" width="7.86" height="7.89" fill="#688aef"/><rect x="594.86" y="423.42" width="7.86" height="7.89" fill="#6a8bef"/><rect x="602.22" y="423.42" width="7.86" height="7.89" fill="#6f92f3"/><rect x="609.58" y="423.42" width="7.86" height="7.89" fill="#7b9ff9"/><rect x="616.94" y="423.42" width="7.86" height="7.89" fill="#8fb1fe"/><rect x="624.3" y="423.42" width="7.86" height="7.89" fill="#8fb1fe"/><rect x="396.14" y="430.81" width="7.86" height="7.89" fill="#82a6fb"/><rect x="403.5" y="430.81" width="7.86" height="7.89" fill="#82a6fb"/><rect x="410.86" y="430.81" width="7.86" height="7.89" fill="#7a9df8"/><rect x="418.22" y="430.81" width="7.86" height="7.89" fill="#799cf8"/><rect x="425.58" y="430.81" width="7.86" height="7.89" fill="#7da0f9"/><rect x="432.94" y="430.81" width="7.86" height="7.89" fill="#86a9fc"/><rect x="440.3" y="430.81" width="7.86" height="7.89" fill="#98b9ff"/><rect x="447.66" y="430.81" width="7.86" height="7.89" fill="#b1cbfc"/><rect x="455.02" y="430.81" width="7.86" height="7.89" fill="#d1dae9"/><rect x="462.38" y="430.81" width="7.86" height="7.89" fill="#edd2c3"/><rect x="469.74" y="430.81" width="7.86" height="7.89" fill="#f7b497"/><rect x="477.1" y="430.81" width="7.86" height="7.89" fill="#f18f71"/><rect x="484.46" y="430.81" width="7.86" height="7.89" fill="#e16751"/><rect x="491.82" y="430.81" width="7.86" height="7.89" fill="#d0473d"/><rect x="499.18" y="430.81" width="7.86" height="7.89" fill="#c53334"/><rect x="506.54" y="430.81" width="7.86" height="7.89" fill="#c43032"/><rect x="513.9" y="430.81" width="7.86" height="7.89" fill="#cd423b"/><rect x="521.26" y="430.81" width="7.86" height="7.89" fill="#de614d"/><rect x="528.62" y="430.81" width="7.86" height="7.89" fill="#ee8669"/><rect x="535.98" y="430.81" width="7.86" height="7.89" fill="#f7ad90"/><rect x="543.34" y="430.81" width="7.86" height="7.89" fill="#f1cdba"/><rect x="550.7" y="430.81" width="7.86" height="7.89" fill="#d7dce3"/><rect x="558.06" y="430.81" width="7.86" height="7.89" fill="#b7cff9"/><rect x="565.42" y="430.81" width="7.86" height="7.89" fill="#9dbdff"/><rect x="572.78" y="430.81" width="7.86" height="7.89" fill="#89acfd"/><rect x="580.14" y="430.81" width="7.86" height="7.89" fill="#7ea1fa"/><rect x="587.5" y="430.81" width="7.86" height="7.89" fill="#799cf8"/><rect x="594.86" y="430.81" width="7.86" height="7.89" fill="#7a9df8"/><rect x="602.22" y="430.81" width="7.86" height="7.89" fill="#80a3fa"/><rect x="609.58" y="430.81" width="7.86" height="7.89" fill="#8db0fe"/><rect x="616.94" y="430.81" width="7.86" height="7.89" fill="#a2c1ff"/><rect x="624.3" y="430.81" width="7.86" height="7.89" fill="#a2c1ff"/><rect x="396.14" y="438.2" width="7.86" height="7.89" fill="#82a6fb"/><rect x="403.5" y="438.2" width="7.86" height="7.89" fill="#82a6fb"/><rect x="410.86" y="438.2" width="7.86" height="7.89" fill="#7a9df8"/><rect x="418.22" y="438.2" width="7.86" height="7.89" fill="#799cf8"/><rect x="425.58" y="438.2" width="7.86" height="7.89" fill="#7da0f9"/><rect x="432.94" y="438.2" width="7.86" height="7.89" fill="#86a9fc"/><rect x="440.3" y="438.2" width="7.86" height="7.89" fill="#98b9ff"/><rect x="447.66" y="438.2" width="7.86" height="7.89" fill="#b1cbfc"/><rect x="455.02" y="438.2" width="7.86" height="7.89" fill="#d1dae9"/><rect x="462.38" y="438.2" width="7.86" height="7.89" fill="#edd2c3"/><rect x="469.74" y="438.2" width="7.86" height="7.89" fill="#f7b497"/><rect x="477.1" y="438.2" width="7.86" height="7.89" fill="#f18f71"/><rect x="484.46" y="438.2" width="7.86" height="7.89" fill="#e16751"/><rect x="491.82" y="438.2" width="7.86" height="7.89" fill="#d0473d"/><rect x="499.18" y="438.2" width="7.86" height="7.89" fill="#c53334"/><rect x="506.54" y="438.2" width="7.86" height="7.89" fill="#c43032"/><rect x="513.9" y="438.2" width="7.86" height="7.89" fill="#cd423b"/><rect x="521.26" y="438.2" width="7.86" height="7.89" fill="#de614d"/><rect x="528.62" y="438.2" width="7.86" height="7.89" fill="#ee8669"/><rect x="535.98" y="438.2" width="7.86" height="7.89" fill="#f7ad90"/><rect x="543.34" y="438.2" width="7.86" height="7.89" fill="#f1cdba"/><rect x="550.7" y="438.2" width="7.86" height="7.89" fill="#d7dce3"/><rect x="558.06" y="438.2" width="7.86" height="7.89" fill="#b7cff9"/><rect x="565.42" y="438.2" width="7.86" height="7.89" fill="#9dbdff"/><rect x="572.78" y="438.2" width="7.86" height="7.89" fill="#89acfd"/><rect x="580.14" y="438.2" width="7.86" height="7.89" fill="#7ea1fa"/><rect x="587.5" y="438.2" width="7.86" height="7.89" fill="#799cf8"/><rect x="594.86" y="438.2" width="7.86" height="7.89" fill="#7a9df8"/><rect x="602.22" y="438.2" width="7.86" height="7.89" fill="#80a3fa"/><rect x="609.58" y="438.2" width="7.86" height="7.89" fill="#8db0fe"/><rect x="616.94" y="438.2" width="7.86" height="7.89" fill="#a2c1ff"/><rect x="624.3" y="438.2" width="7.86" height="7.89" fill="#a2c1ff"/></g></g>
<rect x="403.5" y="290.4" width="220.8" height="147.8" fill="none" stroke="#262626" stroke-width="0.9"/>
<line x1="407.18" y1="438.2" x2="407.18" y2="441.1" stroke="#262626" stroke-width="1"/>
<text class="t" x="407.18" y="449.07" font-size="8.38" textLength="4.84" lengthAdjust="spacingAndGlyphs" text-anchor="middle">0</text>
<line x1="443.98" y1="438.2" x2="443.98" y2="441.1" stroke="#262626" stroke-width="1"/>
<text class="t" x="443.98" y="449.07" font-size="8.38" textLength="4.84" lengthAdjust="spacingAndGlyphs" text-anchor="middle">5</text>
<line x1="480.78" y1="438.2" x2="480.78" y2="441.1" stroke="#262626" stroke-width="1"/>
<text class="t" x="480.78" y="449.07" font-size="8.38" textLength="9.68" lengthAdjust="spacingAndGlyphs" text-anchor="middle">10</text>
<line x1="517.58" y1="438.2" x2="517.58" y2="441.1" stroke="#262626" stroke-width="1"/>
<text class="t" x="517.58" y="449.07" font-size="8.38" textLength="9.68" lengthAdjust="spacingAndGlyphs" text-anchor="middle">15</text>
<line x1="554.38" y1="438.2" x2="554.38" y2="441.1" stroke="#262626" stroke-width="1"/>
<text class="t" x="554.38" y="449.07" font-size="8.38" textLength="9.68" lengthAdjust="spacingAndGlyphs" text-anchor="middle">20</text>
<line x1="591.18" y1="438.2" x2="591.18" y2="441.1" stroke="#262626" stroke-width="1"/>
<text class="t" x="591.18" y="449.07" font-size="8.38" textLength="9.68" lengthAdjust="spacingAndGlyphs" text-anchor="middle">25</text>
<line x1="400.6" y1="294.09" x2="403.5" y2="294.09" stroke="#262626" stroke-width="1"/>
<text class="t" x="398.12" y="296.89" font-size="8.38" textLength="12.1" lengthAdjust="spacingAndGlyphs" text-anchor="end">0.0</text>
<line x1="400.6" y1="312.57" x2="403.5" y2="312.57" stroke="#262626" stroke-width="1"/>
<text class="t" x="398.12" y="315.36" font-size="8.38" textLength="12.1" lengthAdjust="spacingAndGlyphs" text-anchor="end">2.5</text>
<line x1="400.6" y1="331.04" x2="403.5" y2="331.04" stroke="#262626" stroke-width="1"/>
<text class="t" x="398.12" y="333.84" font-size="8.38" textLength="12.1" lengthAdjust="spacingAndGlyphs" text-anchor="end">5.0</text>
<line x1="400.6" y1="349.52" x2="403.5" y2="349.52" stroke="#262626" stroke-width="1"/>
<text class="t" x="398.12" y="352.31" font-size="8.38" textLength="12.1" lengthAdjust="spacingAndGlyphs" text-anchor="end">7.5</text>
<line x1="400.6" y1="368" x2="403.5" y2="368" stroke="#262626" stroke-width="1"/>
<text class="t" x="398.12" y="370.79" font-size="8.38" textLength="16.94" lengthAdjust="spacingAndGlyphs" text-anchor="end">10.0</text>
<line x1="400.6" y1="386.47" x2="403.5" y2="386.47" stroke="#262626" stroke-width="1"/>
<text class="t" x="398.12" y="389.26" font-size="8.38" textLength="16.94" lengthAdjust="spacingAndGlyphs" text-anchor="end">12.5</text>
<line x1="400.6" y1="404.94" x2="403.5" y2="404.94" stroke="#262626" stroke-width="1"/>
<text class="t" x="398.12" y="407.74" font-size="8.38" textLength="16.94" lengthAdjust="spacingAndGlyphs" text-anchor="end">15.0</text>
<line x1="400.6" y1="423.42" x2="403.5" y2="423.42" stroke="#262626" stroke-width="1"/>
<text class="t" x="398.12" y="426.21" font-size="8.38" textLength="16.94" lengthAdjust="spacingAndGlyphs" text-anchor="end">17.5</text>
<text class="t" x="513.9" y="460.25" font-size="8.38" textLength="21.65" lengthAdjust="spacingAndGlyphs" text-anchor="middle">Angle</text>
<text class="t" transform="translate(375.4 364.8) rotate(-90)" font-size="8.38" textLength="27.66" lengthAdjust="spacingAndGlyphs" text-anchor="middle">Mesh Z</text>
<path d="M638.2 272 L638.2 270.5 L643.45 261.2 L648.7 270.5 L648.7 272 Z" fill="#b40426"/>
<path d="M638.2 456.5 L638.2 458 L643.45 466.6 L648.7 458 L648.7 456.5 Z" fill="#3b4cc0"/>
<rect x="638.2" y="270.5" width="10.5" height="187.5" fill="url(#cw)"/>
<path d="M638.2 270.5 L643.45 261.2 L648.7 270.5 L648.7 458 L643.45 466.6 L638.2 458 Z" fill="none" stroke="#262626" stroke-width="0.9" stroke-linejoin="miter"/>
<line x1="648.7" y1="451.56" x2="650.36" y2="451.56" stroke="#262626" stroke-width="0.8"/>
<line x1="648.7" y1="443.06" x2="650.36" y2="443.06" stroke="#262626" stroke-width="0.8"/>
<line x1="648.7" y1="436.47" x2="650.36" y2="436.47" stroke="#262626" stroke-width="0.8"/>
<line x1="648.7" y1="431.09" x2="650.36" y2="431.09" stroke="#262626" stroke-width="0.8"/>
<line x1="648.7" y1="426.53" x2="650.36" y2="426.53" stroke="#262626" stroke-width="0.8"/>
<line x1="648.7" y1="422.59" x2="650.36" y2="422.59" stroke="#262626" stroke-width="0.8"/>
<line x1="648.7" y1="419.11" x2="650.36" y2="419.11" stroke="#262626" stroke-width="0.8"/>
<line x1="648.7" y1="416" x2="651.6" y2="416" stroke="#262626" stroke-width="1"/>
<text class="t" x="654.81" y="419.62" font-size="8.38" textLength="9.68" lengthAdjust="spacingAndGlyphs">10</text>
<text class="ts" x="664.49" y="416.83" font-size="5.87" textLength="7.85" lengthAdjust="spacingAndGlyphs">−4</text>
<line x1="648.7" y1="395.53" x2="650.36" y2="395.53" stroke="#262626" stroke-width="0.8"/>
<line x1="648.7" y1="383.56" x2="650.36" y2="383.56" stroke="#262626" stroke-width="0.8"/>
<line x1="648.7" y1="375.06" x2="650.36" y2="375.06" stroke="#262626" stroke-width="0.8"/>
<line x1="648.7" y1="368.47" x2="650.36" y2="368.47" stroke="#262626" stroke-width="0.8"/>
<line x1="648.7" y1="363.09" x2="650.36" y2="363.09" stroke="#262626" stroke-width="0.8"/>
<line x1="648.7" y1="358.53" x2="650.36" y2="358.53" stroke="#262626" stroke-width="0.8"/>
<line x1="648.7" y1="354.59" x2="650.36" y2="354.59" stroke="#262626" stroke-width="0.8"/>
<line x1="648.7" y1="351.11" x2="650.36" y2="351.11" stroke="#262626" stroke-width="0.8"/>
<line x1="648.7" y1="348" x2="651.6" y2="348" stroke="#262626" stroke-width="1"/>
<text class="t" x="654.81" y="351.62" font-size="8.38" textLength="9.68" lengthAdjust="spacingAndGlyphs">10</text>
<text class="ts" x="664.49" y="348.83" font-size="5.87" textLength="7.85" lengthAdjust="spacingAndGlyphs">−3</text>
<line x1="648.7" y1="327.53" x2="650.36" y2="327.53" stroke="#262626" stroke-width="0.8"/>
<line x1="648.7" y1="315.56" x2="650.36" y2="315.56" stroke="#262626" stroke-width="0.8"/>
<line x1="648.7" y1="307.06" x2="650.36" y2="307.06" stroke="#262626" stroke-width="0.8"/>
<line x1="648.7" y1="300.47" x2="650.36" y2="300.47" stroke="#262626" stroke-width="0.8"/>
<line x1="648.7" y1="295.09" x2="650.36" y2="295.09" stroke="#262626" stroke-width="0.8"/>
<line x1="648.7" y1="290.53" x2="650.36" y2="290.53" stroke="#262626" stroke-width="0.8"/>
<line x1="648.7" y1="286.59" x2="650.36" y2="286.59" stroke="#262626" stroke-width="0.8"/>
<line x1="648.7" y1="283.11" x2="650.36" y2="283.11" stroke="#262626" stroke-width="0.8"/>
<line x1="648.7" y1="280" x2="651.6" y2="280" stroke="#262626" stroke-width="1"/>
<text class="t" x="654.81" y="283.62" font-size="8.38" textLength="9.68" lengthAdjust="spacingAndGlyphs">10</text>
<text class="ts" x="664.49" y="280.83" font-size="5.87" textLength="7.85" lengthAdjust="spacingAndGlyphs">−2</text>
<text class="t" transform="translate(681.6 365.3) rotate(-90)" font-size="8.38" textLength="33.11" lengthAdjust="spacingAndGlyphs" text-anchor="middle">Intensity</text>
<text x="527" y="493.2" text-anchor="middle" font-size="19.8" font-family="'Liberation Serif', serif" fill="#000">(d)</text></svg>
</body></html>
